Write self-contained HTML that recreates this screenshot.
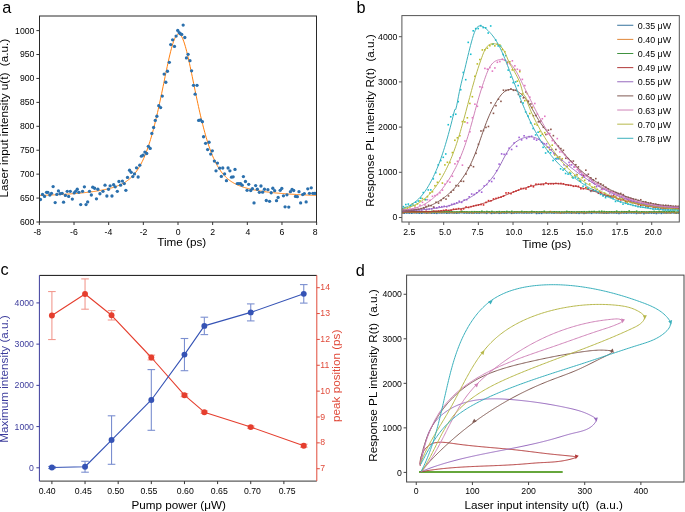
<!DOCTYPE html>
<html><head><meta charset="utf-8"><style>
html,body{margin:0;padding:0;background:#fff;width:685px;height:512px;overflow:hidden}
svg{display:block;font-family:"Liberation Sans", sans-serif;filter:blur(0.35px)}
</style></head><body>
<svg width="685" height="512" viewBox="0 0 685 512">
<rect width="685" height="512" fill="#fff"/>
<defs>
<clipPath id="ca"><rect x="39.4" y="15.7" width="277.20000000000005" height="206.3"/></clipPath>
<clipPath id="cb"><rect x="401.9" y="15.6" width="277.4" height="206.4"/></clipPath>
<clipPath id="cd"><rect x="406.6" y="275.1" width="277.4" height="206.89999999999998"/></clipPath>
</defs>
<text x="2.3" y="12.7" font-size="16.3" text-anchor="start" fill="#000">a</text>
<g clip-path="url(#ca)">
<path d="M39.36 195.47 L40.05 195.44 L40.75 195.42 L41.44 195.39 L42.14 195.37 L42.83 195.34 L43.53 195.31 L44.22 195.29 L44.92 195.26 L45.61 195.23 L46.31 195.2 L47 195.18 L47.7 195.15 L48.39 195.12 L49.09 195.09 L49.78 195.06 L50.48 195.03 L51.17 195 L51.87 194.96 L52.56 194.93 L53.26 194.9 L53.95 194.87 L54.65 194.83 L55.34 194.8 L56.04 194.76 L56.73 194.73 L57.43 194.69 L58.12 194.65 L58.82 194.62 L59.51 194.58 L60.21 194.54 L60.9 194.5 L61.6 194.46 L62.29 194.42 L62.99 194.38 L63.68 194.34 L64.38 194.3 L65.07 194.25 L65.77 194.21 L66.46 194.16 L67.16 194.12 L67.85 194.07 L68.55 194.02 L69.24 193.97 L69.94 193.93 L70.63 193.88 L71.33 193.82 L72.02 193.77 L72.72 193.72 L73.41 193.67 L74.11 193.61 L74.8 193.55 L75.5 193.5 L76.19 193.44 L76.89 193.38 L77.58 193.32 L78.28 193.26 L78.97 193.2 L79.67 193.13 L80.36 193.07 L81.06 193 L81.75 192.93 L82.45 192.86 L83.14 192.79 L83.84 192.72 L84.53 192.65 L85.23 192.57 L85.92 192.49 L86.62 192.41 L87.31 192.33 L88.01 192.25 L88.7 192.17 L89.4 192.08 L90.09 192 L90.79 191.91 L91.48 191.82 L92.18 191.72 L92.87 191.63 L93.57 191.53 L94.26 191.43 L94.95 191.33 L95.65 191.22 L96.34 191.11 L97.04 191 L97.73 190.89 L98.43 190.78 L99.12 190.66 L99.82 190.54 L100.51 190.41 L101.21 190.29 L101.9 190.16 L102.6 190.02 L103.29 189.88 L103.99 189.74 L104.68 189.6 L105.38 189.45 L106.07 189.29 L106.77 189.13 L107.46 188.97 L108.16 188.8 L108.85 188.63 L109.55 188.45 L110.24 188.27 L110.94 188.08 L111.63 187.88 L112.33 187.68 L113.02 187.47 L113.72 187.25 L114.41 187.03 L115.11 186.79 L115.8 186.55 L116.5 186.3 L117.19 186.04 L117.89 185.77 L118.58 185.48 L119.28 185.19 L119.97 184.88 L120.67 184.56 L121.36 184.23 L122.06 183.88 L122.75 183.52 L123.45 183.14 L124.14 182.74 L124.84 182.32 L125.53 181.89 L126.23 181.43 L126.92 180.95 L127.62 180.45 L128.31 179.92 L129.01 179.36 L129.7 178.78 L130.4 178.17 L131.09 177.53 L131.79 176.85 L132.48 176.14 L133.18 175.4 L133.87 174.62 L134.57 173.79 L135.26 172.93 L135.96 172.02 L136.65 171.07 L137.35 170.07 L138.04 169.02 L138.74 167.92 L139.43 166.76 L140.13 165.55 L140.82 164.28 L141.52 162.95 L142.21 161.56 L142.91 160.11 L143.6 158.59 L144.3 157 L144.99 155.34 L145.69 153.62 L146.38 151.82 L147.08 149.95 L147.77 148 L148.47 145.98 L149.16 143.88 L149.86 141.7 L150.55 139.44 L151.24 137.11 L151.94 134.7 L152.63 132.2 L153.33 129.63 L154.02 126.99 L154.72 124.26 L155.41 121.46 L156.11 118.59 L156.8 115.65 L157.5 112.64 L158.19 109.57 L158.89 106.43 L159.58 103.24 L160.28 100 L160.97 96.71 L161.67 93.39 L162.36 90.03 L163.06 86.65 L163.75 83.26 L164.45 79.86 L165.14 76.47 L165.84 73.1 L166.53 69.76 L167.23 66.47 L167.92 63.24 L168.62 60.1 L169.31 57.04 L170.01 54.1 L170.7 51.29 L171.4 48.63 L172.09 46.13 L172.79 43.82 L173.48 41.72 L174.18 39.84 L174.87 38.19 L175.57 36.8 L176.26 35.67 L176.96 34.82 L177.65 34.25 L178.35 33.96 L179.04 33.97 L179.74 34.27 L180.43 34.86 L181.13 35.73 L181.82 36.87 L182.52 38.28 L183.21 39.94 L183.91 41.84 L184.6 43.95 L185.3 46.27 L185.99 48.77 L186.69 51.44 L187.38 54.26 L188.08 57.21 L188.77 60.27 L189.47 63.43 L190.16 66.66 L190.86 69.95 L191.55 73.29 L192.25 76.66 L192.94 80.05 L193.64 83.45 L194.33 86.84 L195.03 90.22 L195.72 93.58 L196.42 96.9 L197.11 100.19 L197.81 103.42 L198.5 106.61 L199.2 109.74 L199.89 112.82 L200.59 115.82 L201.28 118.76 L201.98 121.63 L202.67 124.42 L203.37 127.14 L204.06 129.78 L204.76 132.35 L205.45 134.84 L206.14 137.25 L206.84 139.58 L207.53 141.83 L208.23 144 L208.92 146.1 L209.62 148.11 L210.31 150.06 L211.01 151.92 L211.7 153.72 L212.4 155.44 L213.09 157.09 L213.79 158.68 L214.48 160.19 L215.18 161.64 L215.87 163.03 L216.57 164.35 L217.26 165.62 L217.96 166.83 L218.65 167.98 L219.35 169.08 L220.04 170.13 L220.74 171.12 L221.43 172.08 L222.13 172.98 L222.82 173.84 L223.52 174.66 L224.21 175.44 L224.91 176.19 L225.6 176.89 L226.3 177.57 L226.99 178.21 L227.69 178.82 L228.38 179.4 L229.08 179.95 L229.77 180.48 L230.47 180.98 L231.16 181.46 L231.86 181.91 L232.55 182.35 L233.25 182.76 L233.94 183.16 L234.64 183.54 L235.33 183.9 L236.03 184.25 L236.72 184.58 L237.42 184.9 L238.11 185.21 L238.81 185.5 L239.5 185.78 L240.2 186.05 L240.89 186.31 L241.59 186.56 L242.28 186.81 L242.98 187.04 L243.67 187.26 L244.37 187.48 L245.06 187.69 L245.76 187.89 L246.45 188.09 L247.15 188.28 L247.84 188.46 L248.54 188.64 L249.23 188.81 L249.93 188.98 L250.62 189.14 L251.32 189.3 L252.01 189.46 L252.71 189.6 L253.4 189.75 L254.1 189.89 L254.79 190.03 L255.49 190.16 L256.18 190.29 L256.88 190.42 L257.57 190.54 L258.27 190.67 L258.96 190.78 L259.66 190.9 L260.35 191.01 L261.05 191.12 L261.74 191.23 L262.43 191.33 L263.13 191.43 L263.82 191.53 L264.52 191.63 L265.21 191.73 L265.91 191.82 L266.6 191.91 L267.3 192 L267.99 192.09 L268.69 192.17 L269.38 192.26 L270.08 192.34 L270.77 192.42 L271.47 192.5 L272.16 192.57 L272.86 192.65 L273.55 192.72 L274.25 192.8 L274.94 192.87 L275.64 192.94 L276.33 193 L277.03 193.07 L277.72 193.14 L278.42 193.2 L279.11 193.26 L279.81 193.32 L280.5 193.38 L281.2 193.44 L281.89 193.5 L282.59 193.56 L283.28 193.61 L283.98 193.67 L284.67 193.72 L285.37 193.78 L286.06 193.83 L286.76 193.88 L287.45 193.93 L288.15 193.98 L288.84 194.03 L289.54 194.07 L290.23 194.12 L290.93 194.17 L291.62 194.21 L292.32 194.25 L293.01 194.3 L293.71 194.34 L294.4 194.38 L295.1 194.42 L295.79 194.46 L296.49 194.5 L297.18 194.54 L297.88 194.58 L298.57 194.62 L299.27 194.66 L299.96 194.69 L300.66 194.73 L301.35 194.76 L302.05 194.8 L302.74 194.83 L303.44 194.87 L304.13 194.9 L304.83 194.93 L305.52 194.97 L306.22 195 L306.91 195.03 L307.61 195.06 L308.3 195.09 L309 195.12 L309.69 195.15 L310.39 195.18 L311.08 195.21 L311.78 195.23 L312.47 195.26 L313.17 195.29 L313.86 195.31 L314.56 195.34 L315.25 195.37 L315.95 195.39 L316.64 195.42" fill="none" stroke="#ff7f0e" stroke-width="1.0" stroke-linejoin="round"/>
<circle cx="40.45" cy="199.49" r="1.65" fill="#2b70ad"/>
<circle cx="42.5" cy="194.38" r="1.65" fill="#2b70ad"/>
<circle cx="44.54" cy="196.42" r="1.65" fill="#2b70ad"/>
<circle cx="46.58" cy="192.33" r="1.65" fill="#2b70ad"/>
<circle cx="47.81" cy="192.33" r="1.65" fill="#2b70ad"/>
<circle cx="49.85" cy="194.99" r="1.65" fill="#2b70ad"/>
<circle cx="51.49" cy="193.36" r="1.65" fill="#2b70ad"/>
<circle cx="53.12" cy="186.61" r="1.65" fill="#2b70ad"/>
<circle cx="55.17" cy="202.55" r="1.65" fill="#2b70ad"/>
<circle cx="56.8" cy="194.38" r="1.65" fill="#2b70ad"/>
<circle cx="58.44" cy="190.9" r="1.65" fill="#2b70ad"/>
<circle cx="60.07" cy="193.76" r="1.65" fill="#2b70ad"/>
<circle cx="62.12" cy="193.36" r="1.65" fill="#2b70ad"/>
<circle cx="63.55" cy="202.14" r="1.65" fill="#2b70ad"/>
<circle cx="65.39" cy="195.4" r="1.65" fill="#2b70ad"/>
<circle cx="67.23" cy="191.31" r="1.65" fill="#2b70ad"/>
<circle cx="68.66" cy="196.42" r="1.65" fill="#2b70ad"/>
<circle cx="70.29" cy="191.31" r="1.65" fill="#2b70ad"/>
<circle cx="72.33" cy="199.08" r="1.65" fill="#2b70ad"/>
<circle cx="74.17" cy="192.95" r="1.65" fill="#2b70ad"/>
<circle cx="75.6" cy="191.31" r="1.65" fill="#2b70ad"/>
<circle cx="77.24" cy="189.27" r="1.65" fill="#2b70ad"/>
<circle cx="78.87" cy="192.33" r="1.65" fill="#2b70ad"/>
<circle cx="80.71" cy="204.6" r="1.65" fill="#2b70ad"/>
<circle cx="82.55" cy="191.31" r="1.65" fill="#2b70ad"/>
<circle cx="84.39" cy="186.82" r="1.65" fill="#2b70ad"/>
<circle cx="86.03" cy="204.6" r="1.65" fill="#2b70ad"/>
<circle cx="87.66" cy="201.94" r="1.65" fill="#2b70ad"/>
<circle cx="89.5" cy="191.31" r="1.65" fill="#2b70ad"/>
<circle cx="91.34" cy="194.99" r="1.65" fill="#2b70ad"/>
<circle cx="92.77" cy="187.22" r="1.65" fill="#2b70ad"/>
<circle cx="94.61" cy="188.25" r="1.65" fill="#2b70ad"/>
<circle cx="96.45" cy="198.87" r="1.65" fill="#2b70ad"/>
<circle cx="97.88" cy="189.27" r="1.65" fill="#2b70ad"/>
<circle cx="99.93" cy="193.76" r="1.65" fill="#2b70ad"/>
<circle cx="102.99" cy="191.31" r="1.65" fill="#2b70ad"/>
<circle cx="105.03" cy="185.18" r="1.65" fill="#2b70ad"/>
<circle cx="106.87" cy="196.01" r="1.65" fill="#2b70ad"/>
<circle cx="108.51" cy="189.27" r="1.65" fill="#2b70ad"/>
<circle cx="110.14" cy="185.79" r="1.65" fill="#2b70ad"/>
<circle cx="111.98" cy="196.01" r="1.65" fill="#2b70ad"/>
<circle cx="113.62" cy="184.77" r="1.65" fill="#2b70ad"/>
<circle cx="115.25" cy="186.82" r="1.65" fill="#2b70ad"/>
<circle cx="117.3" cy="191.31" r="1.65" fill="#2b70ad"/>
<circle cx="118.93" cy="181.5" r="1.65" fill="#2b70ad"/>
<circle cx="120.57" cy="185.18" r="1.65" fill="#2b70ad"/>
<circle cx="122.41" cy="181.09" r="1.65" fill="#2b70ad"/>
<circle cx="124.25" cy="183.55" r="1.65" fill="#2b70ad"/>
<circle cx="125.88" cy="190.29" r="1.65" fill="#2b70ad"/>
<circle cx="127.52" cy="177.41" r="1.65" fill="#2b70ad"/>
<circle cx="129.56" cy="170.26" r="1.65" fill="#2b70ad"/>
<circle cx="131.19" cy="172.31" r="1.65" fill="#2b70ad"/>
<circle cx="132.83" cy="176.6" r="1.65" fill="#2b70ad"/>
<circle cx="134.46" cy="173.94" r="1.65" fill="#2b70ad"/>
<circle cx="136.51" cy="167.81" r="1.65" fill="#2b70ad"/>
<circle cx="138.14" cy="177.01" r="1.65" fill="#2b70ad"/>
<circle cx="139.78" cy="165.15" r="1.65" fill="#2b70ad"/>
<circle cx="141.41" cy="156.16" r="1.65" fill="#2b70ad"/>
<circle cx="143.05" cy="155.14" r="1.65" fill="#2b70ad"/>
<circle cx="144.89" cy="152.07" r="1.65" fill="#2b70ad"/>
<circle cx="146.73" cy="153.5" r="1.65" fill="#2b70ad"/>
<circle cx="148.36" cy="146.35" r="1.65" fill="#2b70ad"/>
<circle cx="150.2" cy="148.39" r="1.65" fill="#2b70ad"/>
<circle cx="151.84" cy="133.47" r="1.65" fill="#2b70ad"/>
<circle cx="153.61" cy="127.49" r="1.65" fill="#2b70ad"/>
<circle cx="155.25" cy="120.46" r="1.65" fill="#2b70ad"/>
<circle cx="156.89" cy="116.24" r="1.65" fill="#2b70ad"/>
<circle cx="158.77" cy="105.7" r="1.65" fill="#2b70ad"/>
<circle cx="160.65" cy="107.57" r="1.65" fill="#2b70ad"/>
<circle cx="162.29" cy="96.09" r="1.65" fill="#2b70ad"/>
<circle cx="165.81" cy="82.26" r="1.65" fill="#2b70ad"/>
<circle cx="164.16" cy="74.06" r="1.65" fill="#2b70ad"/>
<circle cx="167.45" cy="71.25" r="1.65" fill="#2b70ad"/>
<circle cx="169.33" cy="62.34" r="1.65" fill="#2b70ad"/>
<circle cx="170.73" cy="44.53" r="1.65" fill="#2b70ad"/>
<circle cx="172.61" cy="39.84" r="1.65" fill="#2b70ad"/>
<circle cx="174.49" cy="46.4" r="1.65" fill="#2b70ad"/>
<circle cx="176.13" cy="36.09" r="1.65" fill="#2b70ad"/>
<circle cx="177.77" cy="30.47" r="1.65" fill="#2b70ad"/>
<circle cx="179.18" cy="32.58" r="1.65" fill="#2b70ad"/>
<circle cx="180.35" cy="33.75" r="1.65" fill="#2b70ad"/>
<circle cx="181.76" cy="34.45" r="1.65" fill="#2b70ad"/>
<circle cx="183.17" cy="25.08" r="1.65" fill="#2b70ad"/>
<circle cx="184.81" cy="37.5" r="1.65" fill="#2b70ad"/>
<circle cx="186.45" cy="57.89" r="1.65" fill="#2b70ad"/>
<circle cx="188.09" cy="54.37" r="1.65" fill="#2b70ad"/>
<circle cx="189.97" cy="60.7" r="1.65" fill="#2b70ad"/>
<circle cx="191.61" cy="70.78" r="1.65" fill="#2b70ad"/>
<circle cx="193.49" cy="85.31" r="1.65" fill="#2b70ad"/>
<circle cx="195.13" cy="94.21" r="1.65" fill="#2b70ad"/>
<circle cx="197.01" cy="85.31" r="1.65" fill="#2b70ad"/>
<circle cx="198.65" cy="120.46" r="1.65" fill="#2b70ad"/>
<circle cx="200.53" cy="119.99" r="1.65" fill="#2b70ad"/>
<circle cx="202.4" cy="121.63" r="1.65" fill="#2b70ad"/>
<circle cx="203.55" cy="136.74" r="1.65" fill="#2b70ad"/>
<circle cx="205.59" cy="143.28" r="1.65" fill="#2b70ad"/>
<circle cx="209.06" cy="142.26" r="1.65" fill="#2b70ad"/>
<circle cx="207.63" cy="149.62" r="1.65" fill="#2b70ad"/>
<circle cx="212.33" cy="150.85" r="1.65" fill="#2b70ad"/>
<circle cx="210.7" cy="154.12" r="1.65" fill="#2b70ad"/>
<circle cx="214.38" cy="161.06" r="1.65" fill="#2b70ad"/>
<circle cx="217.44" cy="163.11" r="1.65" fill="#2b70ad"/>
<circle cx="216.01" cy="170.87" r="1.65" fill="#2b70ad"/>
<circle cx="219.69" cy="168.22" r="1.65" fill="#2b70ad"/>
<circle cx="222.76" cy="168.01" r="1.65" fill="#2b70ad"/>
<circle cx="221.33" cy="176.39" r="1.65" fill="#2b70ad"/>
<circle cx="224.6" cy="173.94" r="1.65" fill="#2b70ad"/>
<circle cx="226.44" cy="180.68" r="1.65" fill="#2b70ad"/>
<circle cx="228.07" cy="168.01" r="1.65" fill="#2b70ad"/>
<circle cx="229.91" cy="170.87" r="1.65" fill="#2b70ad"/>
<circle cx="231.55" cy="177.21" r="1.65" fill="#2b70ad"/>
<circle cx="233.18" cy="176.8" r="1.65" fill="#2b70ad"/>
<circle cx="235.02" cy="169.44" r="1.65" fill="#2b70ad"/>
<circle cx="237.27" cy="183.55" r="1.65" fill="#2b70ad"/>
<circle cx="238.9" cy="183.55" r="1.65" fill="#2b70ad"/>
<circle cx="240.54" cy="183.75" r="1.65" fill="#2b70ad"/>
<circle cx="242.17" cy="185.18" r="1.65" fill="#2b70ad"/>
<circle cx="243.4" cy="176.6" r="1.65" fill="#2b70ad"/>
<circle cx="245.44" cy="181.5" r="1.65" fill="#2b70ad"/>
<circle cx="247.08" cy="190.29" r="1.65" fill="#2b70ad"/>
<circle cx="248.71" cy="184.36" r="1.65" fill="#2b70ad"/>
<circle cx="250.76" cy="190.49" r="1.65" fill="#2b70ad"/>
<circle cx="252.39" cy="188.66" r="1.65" fill="#2b70ad"/>
<circle cx="254.03" cy="202.96" r="1.65" fill="#2b70ad"/>
<circle cx="255.66" cy="185.59" r="1.65" fill="#2b70ad"/>
<circle cx="257.3" cy="189.27" r="1.65" fill="#2b70ad"/>
<circle cx="259.34" cy="192.33" r="1.65" fill="#2b70ad"/>
<circle cx="260.98" cy="186" r="1.65" fill="#2b70ad"/>
<circle cx="262.61" cy="192.13" r="1.65" fill="#2b70ad"/>
<circle cx="264.45" cy="189.27" r="1.65" fill="#2b70ad"/>
<circle cx="266.29" cy="200.51" r="1.65" fill="#2b70ad"/>
<circle cx="267.92" cy="189.68" r="1.65" fill="#2b70ad"/>
<circle cx="269.56" cy="201.33" r="1.65" fill="#2b70ad"/>
<circle cx="271.19" cy="192.74" r="1.65" fill="#2b70ad"/>
<circle cx="272.83" cy="188.25" r="1.65" fill="#2b70ad"/>
<circle cx="274.67" cy="190.7" r="1.65" fill="#2b70ad"/>
<circle cx="276.51" cy="200.71" r="1.65" fill="#2b70ad"/>
<circle cx="278.14" cy="197.44" r="1.65" fill="#2b70ad"/>
<circle cx="280.19" cy="190.29" r="1.65" fill="#2b70ad"/>
<circle cx="281.82" cy="188.45" r="1.65" fill="#2b70ad"/>
<circle cx="283.46" cy="195.81" r="1.65" fill="#2b70ad"/>
<circle cx="285.09" cy="206.84" r="1.65" fill="#2b70ad"/>
<circle cx="286.93" cy="194.79" r="1.65" fill="#2b70ad"/>
<circle cx="288.77" cy="207.05" r="1.65" fill="#2b70ad"/>
<circle cx="290.41" cy="191.72" r="1.65" fill="#2b70ad"/>
<circle cx="292.04" cy="189.47" r="1.65" fill="#2b70ad"/>
<circle cx="293.68" cy="190.49" r="1.65" fill="#2b70ad"/>
<circle cx="295.51" cy="196.42" r="1.65" fill="#2b70ad"/>
<circle cx="297.35" cy="196.63" r="1.65" fill="#2b70ad"/>
<circle cx="298.99" cy="191.72" r="1.65" fill="#2b70ad"/>
<circle cx="300.62" cy="202.96" r="1.65" fill="#2b70ad"/>
<circle cx="302.67" cy="194.58" r="1.65" fill="#2b70ad"/>
<circle cx="304.3" cy="193.56" r="1.65" fill="#2b70ad"/>
<circle cx="306.14" cy="201.94" r="1.65" fill="#2b70ad"/>
<circle cx="307.78" cy="188.86" r="1.65" fill="#2b70ad"/>
<circle cx="309.41" cy="193.36" r="1.65" fill="#2b70ad"/>
<circle cx="311.25" cy="187.84" r="1.65" fill="#2b70ad"/>
<circle cx="312.89" cy="193.36" r="1.65" fill="#2b70ad"/>
<circle cx="314.52" cy="193.36" r="1.65" fill="#2b70ad"/>
<circle cx="315.95" cy="193.36" r="1.65" fill="#2b70ad"/>
</g>
<line x1="39.5" y1="16" x2="39.5" y2="222" stroke="#2a2a2a" stroke-width="1"/>
<line x1="316.5" y1="16" x2="316.5" y2="222" stroke="#2a2a2a" stroke-width="1"/>
<line x1="39" y1="16" x2="317" y2="16" stroke="#2a2a2a" stroke-width="1"/>
<line x1="39" y1="222" x2="317" y2="222" stroke="#2a2a2a" stroke-width="1"/>
<line x1="39.36" y1="222" x2="39.36" y2="225" stroke="#333" stroke-width="1"/>
<text x="37.3" y="234.6" font-size="8.7" text-anchor="middle" fill="#000">-8</text>
<line x1="74.02" y1="222" x2="74.02" y2="225" stroke="#333" stroke-width="1"/>
<text x="73.9" y="234.6" font-size="8.7" text-anchor="middle" fill="#000">-6</text>
<line x1="108.68" y1="222" x2="108.68" y2="225" stroke="#333" stroke-width="1"/>
<text x="108.4" y="234.6" font-size="8.7" text-anchor="middle" fill="#000">-4</text>
<line x1="143.34" y1="222" x2="143.34" y2="225" stroke="#333" stroke-width="1"/>
<text x="143.6" y="234.6" font-size="8.7" text-anchor="middle" fill="#000">-2</text>
<line x1="178" y1="222" x2="178" y2="225" stroke="#333" stroke-width="1"/>
<text x="178.2" y="234.6" font-size="8.7" text-anchor="middle" fill="#000">0</text>
<line x1="212.66" y1="222" x2="212.66" y2="225" stroke="#333" stroke-width="1"/>
<text x="212.7" y="234.6" font-size="8.7" text-anchor="middle" fill="#000">2</text>
<line x1="247.32" y1="222" x2="247.32" y2="225" stroke="#333" stroke-width="1"/>
<text x="248" y="234.6" font-size="8.7" text-anchor="middle" fill="#000">4</text>
<line x1="281.98" y1="222" x2="281.98" y2="225" stroke="#333" stroke-width="1"/>
<text x="281.9" y="234.6" font-size="8.7" text-anchor="middle" fill="#000">6</text>
<line x1="316.64" y1="222" x2="316.64" y2="225" stroke="#333" stroke-width="1"/>
<text x="315.2" y="234.6" font-size="8.7" text-anchor="middle" fill="#000">8</text>
<line x1="36.4" y1="222" x2="39.4" y2="222" stroke="#333" stroke-width="1"/>
<text x="34.4" y="224.95" font-size="8.7" text-anchor="end" fill="#000">600</text>
<line x1="36.4" y1="198.07" x2="39.4" y2="198.07" stroke="#333" stroke-width="1"/>
<text x="34.4" y="201.02" font-size="8.7" text-anchor="end" fill="#000">650</text>
<line x1="36.4" y1="174.15" x2="39.4" y2="174.15" stroke="#333" stroke-width="1"/>
<text x="34.4" y="177.1" font-size="8.7" text-anchor="end" fill="#000">700</text>
<line x1="36.4" y1="150.22" x2="39.4" y2="150.22" stroke="#333" stroke-width="1"/>
<text x="34.4" y="153.17" font-size="8.7" text-anchor="end" fill="#000">750</text>
<line x1="36.4" y1="126.3" x2="39.4" y2="126.3" stroke="#333" stroke-width="1"/>
<text x="34.4" y="129.25" font-size="8.7" text-anchor="end" fill="#000">800</text>
<line x1="36.4" y1="102.38" x2="39.4" y2="102.38" stroke="#333" stroke-width="1"/>
<text x="34.4" y="105.33" font-size="8.7" text-anchor="end" fill="#000">850</text>
<line x1="36.4" y1="78.45" x2="39.4" y2="78.45" stroke="#333" stroke-width="1"/>
<text x="34.4" y="81.4" font-size="8.7" text-anchor="end" fill="#000">900</text>
<line x1="36.4" y1="54.53" x2="39.4" y2="54.53" stroke="#333" stroke-width="1"/>
<text x="34.4" y="57.48" font-size="8.7" text-anchor="end" fill="#000">950</text>
<line x1="36.4" y1="30.6" x2="39.4" y2="30.6" stroke="#333" stroke-width="1"/>
<text x="34.4" y="33.55" font-size="8.7" text-anchor="end" fill="#000">1000</text>
<text x="181.7" y="245.6" font-size="11.7" text-anchor="middle" fill="#000">Time (ps)</text>
<text x="8.4" y="118.2" font-size="11.7" text-anchor="middle" fill="#000" transform="rotate(-90 8.4 118.2)">Laser input intensity u(t)&#160; (a.u.)</text>
<text x="356.6" y="12.7" font-size="16.3" text-anchor="start" fill="#000">b</text>
<g clip-path="url(#cb)">
<rect x="403.48" y="212.27" width="1.6" height="1.6" fill="#1f77b4"/>
<rect x="405.97" y="212" width="1.6" height="1.6" fill="#1f77b4"/>
<rect x="408.47" y="212.2" width="1.6" height="1.6" fill="#1f77b4"/>
<rect x="410.96" y="212.36" width="1.6" height="1.6" fill="#1f77b4"/>
<rect x="413.46" y="211.77" width="1.6" height="1.6" fill="#1f77b4"/>
<rect x="415.96" y="212.01" width="1.6" height="1.6" fill="#1f77b4"/>
<rect x="418.45" y="212.32" width="1.6" height="1.6" fill="#1f77b4"/>
<rect x="420.95" y="212.4" width="1.6" height="1.6" fill="#1f77b4"/>
<rect x="423.45" y="211.84" width="1.6" height="1.6" fill="#1f77b4"/>
<rect x="425.94" y="212.25" width="1.6" height="1.6" fill="#1f77b4"/>
<rect x="428.44" y="211.84" width="1.6" height="1.6" fill="#1f77b4"/>
<rect x="430.94" y="212.25" width="1.6" height="1.6" fill="#1f77b4"/>
<rect x="433.43" y="212.32" width="1.6" height="1.6" fill="#1f77b4"/>
<rect x="435.93" y="212.5" width="1.6" height="1.6" fill="#1f77b4"/>
<rect x="438.43" y="211.85" width="1.6" height="1.6" fill="#1f77b4"/>
<rect x="440.92" y="211.97" width="1.6" height="1.6" fill="#1f77b4"/>
<rect x="443.42" y="211.86" width="1.6" height="1.6" fill="#1f77b4"/>
<rect x="445.92" y="212.4" width="1.6" height="1.6" fill="#1f77b4"/>
<rect x="448.41" y="212.04" width="1.6" height="1.6" fill="#1f77b4"/>
<rect x="450.91" y="211.74" width="1.6" height="1.6" fill="#1f77b4"/>
<rect x="453.41" y="211.94" width="1.6" height="1.6" fill="#1f77b4"/>
<rect x="455.9" y="212.3" width="1.6" height="1.6" fill="#1f77b4"/>
<rect x="458.4" y="211.94" width="1.6" height="1.6" fill="#1f77b4"/>
<rect x="460.9" y="211.55" width="1.6" height="1.6" fill="#1f77b4"/>
<rect x="463.39" y="212.05" width="1.6" height="1.6" fill="#1f77b4"/>
<rect x="465.89" y="212.11" width="1.6" height="1.6" fill="#1f77b4"/>
<rect x="468.39" y="212.11" width="1.6" height="1.6" fill="#1f77b4"/>
<rect x="470.88" y="212.07" width="1.6" height="1.6" fill="#1f77b4"/>
<rect x="473.38" y="212.06" width="1.6" height="1.6" fill="#1f77b4"/>
<rect x="475.88" y="212.19" width="1.6" height="1.6" fill="#1f77b4"/>
<rect x="478.37" y="212.18" width="1.6" height="1.6" fill="#1f77b4"/>
<rect x="480.87" y="211.76" width="1.6" height="1.6" fill="#1f77b4"/>
<rect x="483.37" y="211.81" width="1.6" height="1.6" fill="#1f77b4"/>
<rect x="485.86" y="212.5" width="1.6" height="1.6" fill="#1f77b4"/>
<rect x="488.36" y="211.39" width="1.6" height="1.6" fill="#1f77b4"/>
<rect x="490.86" y="212.56" width="1.6" height="1.6" fill="#1f77b4"/>
<rect x="493.35" y="212.16" width="1.6" height="1.6" fill="#1f77b4"/>
<rect x="495.85" y="211.87" width="1.6" height="1.6" fill="#1f77b4"/>
<rect x="498.35" y="212.47" width="1.6" height="1.6" fill="#1f77b4"/>
<rect x="500.84" y="212.13" width="1.6" height="1.6" fill="#1f77b4"/>
<rect x="503.34" y="212.17" width="1.6" height="1.6" fill="#1f77b4"/>
<rect x="505.84" y="212.15" width="1.6" height="1.6" fill="#1f77b4"/>
<rect x="508.33" y="211.52" width="1.6" height="1.6" fill="#1f77b4"/>
<rect x="510.83" y="212.49" width="1.6" height="1.6" fill="#1f77b4"/>
<rect x="513.33" y="212.1" width="1.6" height="1.6" fill="#1f77b4"/>
<rect x="515.82" y="212.09" width="1.6" height="1.6" fill="#1f77b4"/>
<rect x="518.32" y="211.86" width="1.6" height="1.6" fill="#1f77b4"/>
<rect x="520.82" y="211.88" width="1.6" height="1.6" fill="#1f77b4"/>
<rect x="523.31" y="212.07" width="1.6" height="1.6" fill="#1f77b4"/>
<rect x="525.81" y="212.12" width="1.6" height="1.6" fill="#1f77b4"/>
<rect x="528.31" y="211.86" width="1.6" height="1.6" fill="#1f77b4"/>
<rect x="530.8" y="212.07" width="1.6" height="1.6" fill="#1f77b4"/>
<rect x="533.3" y="211.24" width="1.6" height="1.6" fill="#1f77b4"/>
<rect x="535.79" y="212.65" width="1.6" height="1.6" fill="#1f77b4"/>
<rect x="538.29" y="212.48" width="1.6" height="1.6" fill="#1f77b4"/>
<rect x="540.79" y="212.52" width="1.6" height="1.6" fill="#1f77b4"/>
<rect x="543.28" y="211.65" width="1.6" height="1.6" fill="#1f77b4"/>
<rect x="545.78" y="211.95" width="1.6" height="1.6" fill="#1f77b4"/>
<rect x="548.28" y="211.88" width="1.6" height="1.6" fill="#1f77b4"/>
<rect x="550.77" y="211.96" width="1.6" height="1.6" fill="#1f77b4"/>
<rect x="553.27" y="212.22" width="1.6" height="1.6" fill="#1f77b4"/>
<rect x="555.77" y="211.88" width="1.6" height="1.6" fill="#1f77b4"/>
<rect x="558.26" y="211.87" width="1.6" height="1.6" fill="#1f77b4"/>
<rect x="560.76" y="212.08" width="1.6" height="1.6" fill="#1f77b4"/>
<rect x="563.26" y="212.1" width="1.6" height="1.6" fill="#1f77b4"/>
<rect x="565.75" y="212.09" width="1.6" height="1.6" fill="#1f77b4"/>
<rect x="568.25" y="211.95" width="1.6" height="1.6" fill="#1f77b4"/>
<rect x="570.75" y="212.25" width="1.6" height="1.6" fill="#1f77b4"/>
<rect x="573.24" y="211.82" width="1.6" height="1.6" fill="#1f77b4"/>
<rect x="575.74" y="212.21" width="1.6" height="1.6" fill="#1f77b4"/>
<rect x="578.24" y="212.51" width="1.6" height="1.6" fill="#1f77b4"/>
<rect x="580.73" y="211.84" width="1.6" height="1.6" fill="#1f77b4"/>
<rect x="583.23" y="212.57" width="1.6" height="1.6" fill="#1f77b4"/>
<rect x="585.73" y="212.08" width="1.6" height="1.6" fill="#1f77b4"/>
<rect x="588.22" y="211.92" width="1.6" height="1.6" fill="#1f77b4"/>
<rect x="590.72" y="212.49" width="1.6" height="1.6" fill="#1f77b4"/>
<rect x="593.22" y="211.59" width="1.6" height="1.6" fill="#1f77b4"/>
<rect x="595.71" y="211.99" width="1.6" height="1.6" fill="#1f77b4"/>
<rect x="598.21" y="211.95" width="1.6" height="1.6" fill="#1f77b4"/>
<rect x="600.71" y="211.92" width="1.6" height="1.6" fill="#1f77b4"/>
<rect x="603.2" y="212.34" width="1.6" height="1.6" fill="#1f77b4"/>
<rect x="605.7" y="212.3" width="1.6" height="1.6" fill="#1f77b4"/>
<rect x="608.2" y="212.06" width="1.6" height="1.6" fill="#1f77b4"/>
<rect x="610.69" y="211.89" width="1.6" height="1.6" fill="#1f77b4"/>
<rect x="613.19" y="211.97" width="1.6" height="1.6" fill="#1f77b4"/>
<rect x="615.69" y="212.28" width="1.6" height="1.6" fill="#1f77b4"/>
<rect x="618.18" y="212.63" width="1.6" height="1.6" fill="#1f77b4"/>
<rect x="620.68" y="211.96" width="1.6" height="1.6" fill="#1f77b4"/>
<rect x="623.18" y="212.13" width="1.6" height="1.6" fill="#1f77b4"/>
<rect x="625.67" y="212.35" width="1.6" height="1.6" fill="#1f77b4"/>
<rect x="628.17" y="211.8" width="1.6" height="1.6" fill="#1f77b4"/>
<rect x="630.67" y="212.05" width="1.6" height="1.6" fill="#1f77b4"/>
<rect x="633.16" y="212" width="1.6" height="1.6" fill="#1f77b4"/>
<rect x="635.66" y="212.62" width="1.6" height="1.6" fill="#1f77b4"/>
<rect x="638.16" y="212.06" width="1.6" height="1.6" fill="#1f77b4"/>
<rect x="640.65" y="211.93" width="1.6" height="1.6" fill="#1f77b4"/>
<rect x="643.15" y="212.76" width="1.6" height="1.6" fill="#1f77b4"/>
<rect x="645.65" y="212.03" width="1.6" height="1.6" fill="#1f77b4"/>
<rect x="648.14" y="212.18" width="1.6" height="1.6" fill="#1f77b4"/>
<rect x="650.64" y="212.22" width="1.6" height="1.6" fill="#1f77b4"/>
<rect x="653.14" y="212.35" width="1.6" height="1.6" fill="#1f77b4"/>
<rect x="655.63" y="212.68" width="1.6" height="1.6" fill="#1f77b4"/>
<rect x="658.13" y="211.92" width="1.6" height="1.6" fill="#1f77b4"/>
<rect x="660.62" y="212.55" width="1.6" height="1.6" fill="#1f77b4"/>
<rect x="663.12" y="212.04" width="1.6" height="1.6" fill="#1f77b4"/>
<rect x="665.62" y="212.11" width="1.6" height="1.6" fill="#1f77b4"/>
<rect x="668.11" y="211.8" width="1.6" height="1.6" fill="#1f77b4"/>
<rect x="670.61" y="211.88" width="1.6" height="1.6" fill="#1f77b4"/>
<rect x="673.11" y="211.86" width="1.6" height="1.6" fill="#1f77b4"/>
<rect x="675.6" y="212.02" width="1.6" height="1.6" fill="#1f77b4"/>
<rect x="678.1" y="212.31" width="1.6" height="1.6" fill="#1f77b4"/>
<rect x="402.24" y="212.19" width="1.6" height="1.6" fill="#ff7f0e"/>
<rect x="404.74" y="211.43" width="1.6" height="1.6" fill="#ff7f0e"/>
<rect x="407.24" y="210.99" width="1.6" height="1.6" fill="#ff7f0e"/>
<rect x="409.73" y="211.53" width="1.6" height="1.6" fill="#ff7f0e"/>
<rect x="412.23" y="211.46" width="1.6" height="1.6" fill="#ff7f0e"/>
<rect x="414.72" y="211.73" width="1.6" height="1.6" fill="#ff7f0e"/>
<rect x="417.22" y="211.33" width="1.6" height="1.6" fill="#ff7f0e"/>
<rect x="419.72" y="211.63" width="1.6" height="1.6" fill="#ff7f0e"/>
<rect x="422.21" y="210.93" width="1.6" height="1.6" fill="#ff7f0e"/>
<rect x="424.71" y="211.86" width="1.6" height="1.6" fill="#ff7f0e"/>
<rect x="427.21" y="212.08" width="1.6" height="1.6" fill="#ff7f0e"/>
<rect x="429.7" y="211.99" width="1.6" height="1.6" fill="#ff7f0e"/>
<rect x="432.2" y="211.14" width="1.6" height="1.6" fill="#ff7f0e"/>
<rect x="434.7" y="211.7" width="1.6" height="1.6" fill="#ff7f0e"/>
<rect x="437.19" y="210.7" width="1.6" height="1.6" fill="#ff7f0e"/>
<rect x="439.69" y="211.69" width="1.6" height="1.6" fill="#ff7f0e"/>
<rect x="442.19" y="211.58" width="1.6" height="1.6" fill="#ff7f0e"/>
<rect x="444.68" y="211.3" width="1.6" height="1.6" fill="#ff7f0e"/>
<rect x="447.18" y="211.7" width="1.6" height="1.6" fill="#ff7f0e"/>
<rect x="449.68" y="211.64" width="1.6" height="1.6" fill="#ff7f0e"/>
<rect x="452.17" y="211.88" width="1.6" height="1.6" fill="#ff7f0e"/>
<rect x="454.67" y="211.64" width="1.6" height="1.6" fill="#ff7f0e"/>
<rect x="457.17" y="211.67" width="1.6" height="1.6" fill="#ff7f0e"/>
<rect x="459.66" y="211.01" width="1.6" height="1.6" fill="#ff7f0e"/>
<rect x="462.16" y="211.25" width="1.6" height="1.6" fill="#ff7f0e"/>
<rect x="464.66" y="211.46" width="1.6" height="1.6" fill="#ff7f0e"/>
<rect x="467.15" y="211.69" width="1.6" height="1.6" fill="#ff7f0e"/>
<rect x="469.65" y="211.6" width="1.6" height="1.6" fill="#ff7f0e"/>
<rect x="472.15" y="212.05" width="1.6" height="1.6" fill="#ff7f0e"/>
<rect x="474.64" y="211.34" width="1.6" height="1.6" fill="#ff7f0e"/>
<rect x="477.14" y="211.53" width="1.6" height="1.6" fill="#ff7f0e"/>
<rect x="479.64" y="211.68" width="1.6" height="1.6" fill="#ff7f0e"/>
<rect x="482.13" y="211.53" width="1.6" height="1.6" fill="#ff7f0e"/>
<rect x="484.63" y="211.75" width="1.6" height="1.6" fill="#ff7f0e"/>
<rect x="487.13" y="211.43" width="1.6" height="1.6" fill="#ff7f0e"/>
<rect x="489.62" y="212.03" width="1.6" height="1.6" fill="#ff7f0e"/>
<rect x="492.12" y="211.5" width="1.6" height="1.6" fill="#ff7f0e"/>
<rect x="494.62" y="211.94" width="1.6" height="1.6" fill="#ff7f0e"/>
<rect x="497.11" y="211.59" width="1.6" height="1.6" fill="#ff7f0e"/>
<rect x="499.61" y="212.05" width="1.6" height="1.6" fill="#ff7f0e"/>
<rect x="502.11" y="211.18" width="1.6" height="1.6" fill="#ff7f0e"/>
<rect x="504.6" y="211.76" width="1.6" height="1.6" fill="#ff7f0e"/>
<rect x="507.1" y="211.47" width="1.6" height="1.6" fill="#ff7f0e"/>
<rect x="509.6" y="211.67" width="1.6" height="1.6" fill="#ff7f0e"/>
<rect x="512.09" y="211.96" width="1.6" height="1.6" fill="#ff7f0e"/>
<rect x="514.59" y="211.26" width="1.6" height="1.6" fill="#ff7f0e"/>
<rect x="517.09" y="211.2" width="1.6" height="1.6" fill="#ff7f0e"/>
<rect x="519.58" y="211.3" width="1.6" height="1.6" fill="#ff7f0e"/>
<rect x="522.08" y="211.68" width="1.6" height="1.6" fill="#ff7f0e"/>
<rect x="524.58" y="211.03" width="1.6" height="1.6" fill="#ff7f0e"/>
<rect x="527.07" y="211.63" width="1.6" height="1.6" fill="#ff7f0e"/>
<rect x="529.57" y="211.21" width="1.6" height="1.6" fill="#ff7f0e"/>
<rect x="532.07" y="211.26" width="1.6" height="1.6" fill="#ff7f0e"/>
<rect x="534.56" y="211.49" width="1.6" height="1.6" fill="#ff7f0e"/>
<rect x="537.06" y="211.71" width="1.6" height="1.6" fill="#ff7f0e"/>
<rect x="539.55" y="211.41" width="1.6" height="1.6" fill="#ff7f0e"/>
<rect x="542.05" y="211.45" width="1.6" height="1.6" fill="#ff7f0e"/>
<rect x="544.55" y="211.59" width="1.6" height="1.6" fill="#ff7f0e"/>
<rect x="547.04" y="211.52" width="1.6" height="1.6" fill="#ff7f0e"/>
<rect x="549.54" y="210.79" width="1.6" height="1.6" fill="#ff7f0e"/>
<rect x="552.04" y="211.47" width="1.6" height="1.6" fill="#ff7f0e"/>
<rect x="554.53" y="211.63" width="1.6" height="1.6" fill="#ff7f0e"/>
<rect x="557.03" y="211.93" width="1.6" height="1.6" fill="#ff7f0e"/>
<rect x="559.53" y="212.22" width="1.6" height="1.6" fill="#ff7f0e"/>
<rect x="562.02" y="211.8" width="1.6" height="1.6" fill="#ff7f0e"/>
<rect x="564.52" y="211.62" width="1.6" height="1.6" fill="#ff7f0e"/>
<rect x="567.02" y="211.31" width="1.6" height="1.6" fill="#ff7f0e"/>
<rect x="569.51" y="211.63" width="1.6" height="1.6" fill="#ff7f0e"/>
<rect x="572.01" y="211.83" width="1.6" height="1.6" fill="#ff7f0e"/>
<rect x="574.51" y="211.98" width="1.6" height="1.6" fill="#ff7f0e"/>
<rect x="577" y="211.34" width="1.6" height="1.6" fill="#ff7f0e"/>
<rect x="579.5" y="211.67" width="1.6" height="1.6" fill="#ff7f0e"/>
<rect x="582" y="211.85" width="1.6" height="1.6" fill="#ff7f0e"/>
<rect x="584.49" y="212.16" width="1.6" height="1.6" fill="#ff7f0e"/>
<rect x="586.99" y="211.68" width="1.6" height="1.6" fill="#ff7f0e"/>
<rect x="589.49" y="211.44" width="1.6" height="1.6" fill="#ff7f0e"/>
<rect x="591.98" y="211.39" width="1.6" height="1.6" fill="#ff7f0e"/>
<rect x="594.48" y="211.49" width="1.6" height="1.6" fill="#ff7f0e"/>
<rect x="596.98" y="211.4" width="1.6" height="1.6" fill="#ff7f0e"/>
<rect x="599.47" y="211.85" width="1.6" height="1.6" fill="#ff7f0e"/>
<rect x="601.97" y="211.92" width="1.6" height="1.6" fill="#ff7f0e"/>
<rect x="604.47" y="211.82" width="1.6" height="1.6" fill="#ff7f0e"/>
<rect x="606.96" y="211.96" width="1.6" height="1.6" fill="#ff7f0e"/>
<rect x="609.46" y="211.46" width="1.6" height="1.6" fill="#ff7f0e"/>
<rect x="611.96" y="211.71" width="1.6" height="1.6" fill="#ff7f0e"/>
<rect x="614.45" y="211.48" width="1.6" height="1.6" fill="#ff7f0e"/>
<rect x="616.95" y="211.61" width="1.6" height="1.6" fill="#ff7f0e"/>
<rect x="619.45" y="211.97" width="1.6" height="1.6" fill="#ff7f0e"/>
<rect x="621.94" y="211.59" width="1.6" height="1.6" fill="#ff7f0e"/>
<rect x="624.44" y="211.04" width="1.6" height="1.6" fill="#ff7f0e"/>
<rect x="626.94" y="211.52" width="1.6" height="1.6" fill="#ff7f0e"/>
<rect x="629.43" y="211.39" width="1.6" height="1.6" fill="#ff7f0e"/>
<rect x="631.93" y="211.15" width="1.6" height="1.6" fill="#ff7f0e"/>
<rect x="634.43" y="211.36" width="1.6" height="1.6" fill="#ff7f0e"/>
<rect x="636.92" y="211.89" width="1.6" height="1.6" fill="#ff7f0e"/>
<rect x="639.42" y="212.11" width="1.6" height="1.6" fill="#ff7f0e"/>
<rect x="641.92" y="211.45" width="1.6" height="1.6" fill="#ff7f0e"/>
<rect x="644.41" y="211.9" width="1.6" height="1.6" fill="#ff7f0e"/>
<rect x="646.91" y="211.95" width="1.6" height="1.6" fill="#ff7f0e"/>
<rect x="649.41" y="211.25" width="1.6" height="1.6" fill="#ff7f0e"/>
<rect x="651.9" y="211.59" width="1.6" height="1.6" fill="#ff7f0e"/>
<rect x="654.4" y="211.59" width="1.6" height="1.6" fill="#ff7f0e"/>
<rect x="656.9" y="211.65" width="1.6" height="1.6" fill="#ff7f0e"/>
<rect x="659.39" y="211.12" width="1.6" height="1.6" fill="#ff7f0e"/>
<rect x="661.89" y="211.49" width="1.6" height="1.6" fill="#ff7f0e"/>
<rect x="664.38" y="211.92" width="1.6" height="1.6" fill="#ff7f0e"/>
<rect x="666.88" y="211.98" width="1.6" height="1.6" fill="#ff7f0e"/>
<rect x="669.38" y="212.15" width="1.6" height="1.6" fill="#ff7f0e"/>
<rect x="671.87" y="211.5" width="1.6" height="1.6" fill="#ff7f0e"/>
<rect x="674.37" y="212.16" width="1.6" height="1.6" fill="#ff7f0e"/>
<rect x="676.87" y="211.8" width="1.6" height="1.6" fill="#ff7f0e"/>
<rect x="403.68" y="210.94" width="1.6" height="1.6" fill="#2ca02c"/>
<rect x="406.18" y="210.66" width="1.6" height="1.6" fill="#2ca02c"/>
<rect x="408.67" y="211.33" width="1.6" height="1.6" fill="#2ca02c"/>
<rect x="411.17" y="210.64" width="1.6" height="1.6" fill="#2ca02c"/>
<rect x="413.67" y="210.87" width="1.6" height="1.6" fill="#2ca02c"/>
<rect x="416.16" y="211.04" width="1.6" height="1.6" fill="#2ca02c"/>
<rect x="418.66" y="210.87" width="1.6" height="1.6" fill="#2ca02c"/>
<rect x="421.16" y="211.21" width="1.6" height="1.6" fill="#2ca02c"/>
<rect x="423.65" y="210.96" width="1.6" height="1.6" fill="#2ca02c"/>
<rect x="426.15" y="211" width="1.6" height="1.6" fill="#2ca02c"/>
<rect x="428.65" y="210.9" width="1.6" height="1.6" fill="#2ca02c"/>
<rect x="431.14" y="210.59" width="1.6" height="1.6" fill="#2ca02c"/>
<rect x="433.64" y="210.67" width="1.6" height="1.6" fill="#2ca02c"/>
<rect x="436.14" y="211.02" width="1.6" height="1.6" fill="#2ca02c"/>
<rect x="438.63" y="211.12" width="1.6" height="1.6" fill="#2ca02c"/>
<rect x="441.13" y="211.38" width="1.6" height="1.6" fill="#2ca02c"/>
<rect x="443.63" y="210.61" width="1.6" height="1.6" fill="#2ca02c"/>
<rect x="446.12" y="210.85" width="1.6" height="1.6" fill="#2ca02c"/>
<rect x="448.62" y="210.65" width="1.6" height="1.6" fill="#2ca02c"/>
<rect x="451.12" y="211.2" width="1.6" height="1.6" fill="#2ca02c"/>
<rect x="453.61" y="211.54" width="1.6" height="1.6" fill="#2ca02c"/>
<rect x="456.11" y="211.23" width="1.6" height="1.6" fill="#2ca02c"/>
<rect x="458.61" y="211.3" width="1.6" height="1.6" fill="#2ca02c"/>
<rect x="461.1" y="210.64" width="1.6" height="1.6" fill="#2ca02c"/>
<rect x="463.6" y="211.19" width="1.6" height="1.6" fill="#2ca02c"/>
<rect x="466.1" y="211.11" width="1.6" height="1.6" fill="#2ca02c"/>
<rect x="468.59" y="211.42" width="1.6" height="1.6" fill="#2ca02c"/>
<rect x="471.09" y="210.93" width="1.6" height="1.6" fill="#2ca02c"/>
<rect x="473.59" y="210.93" width="1.6" height="1.6" fill="#2ca02c"/>
<rect x="476.08" y="211.07" width="1.6" height="1.6" fill="#2ca02c"/>
<rect x="478.58" y="211.02" width="1.6" height="1.6" fill="#2ca02c"/>
<rect x="481.08" y="210.5" width="1.6" height="1.6" fill="#2ca02c"/>
<rect x="483.57" y="211.21" width="1.6" height="1.6" fill="#2ca02c"/>
<rect x="486.07" y="210.73" width="1.6" height="1.6" fill="#2ca02c"/>
<rect x="488.57" y="211.2" width="1.6" height="1.6" fill="#2ca02c"/>
<rect x="491.06" y="210.67" width="1.6" height="1.6" fill="#2ca02c"/>
<rect x="493.56" y="211.54" width="1.6" height="1.6" fill="#2ca02c"/>
<rect x="496.06" y="211.01" width="1.6" height="1.6" fill="#2ca02c"/>
<rect x="498.55" y="210.85" width="1.6" height="1.6" fill="#2ca02c"/>
<rect x="501.05" y="211.26" width="1.6" height="1.6" fill="#2ca02c"/>
<rect x="503.54" y="211" width="1.6" height="1.6" fill="#2ca02c"/>
<rect x="506.04" y="210.7" width="1.6" height="1.6" fill="#2ca02c"/>
<rect x="508.54" y="211.33" width="1.6" height="1.6" fill="#2ca02c"/>
<rect x="511.03" y="210.61" width="1.6" height="1.6" fill="#2ca02c"/>
<rect x="513.53" y="211.22" width="1.6" height="1.6" fill="#2ca02c"/>
<rect x="516.03" y="211.33" width="1.6" height="1.6" fill="#2ca02c"/>
<rect x="518.52" y="211.5" width="1.6" height="1.6" fill="#2ca02c"/>
<rect x="521.02" y="210.67" width="1.6" height="1.6" fill="#2ca02c"/>
<rect x="523.52" y="211.11" width="1.6" height="1.6" fill="#2ca02c"/>
<rect x="526.01" y="211.1" width="1.6" height="1.6" fill="#2ca02c"/>
<rect x="528.51" y="211.55" width="1.6" height="1.6" fill="#2ca02c"/>
<rect x="531.01" y="210.68" width="1.6" height="1.6" fill="#2ca02c"/>
<rect x="533.5" y="211.08" width="1.6" height="1.6" fill="#2ca02c"/>
<rect x="536" y="211.03" width="1.6" height="1.6" fill="#2ca02c"/>
<rect x="538.5" y="211.24" width="1.6" height="1.6" fill="#2ca02c"/>
<rect x="540.99" y="211.24" width="1.6" height="1.6" fill="#2ca02c"/>
<rect x="543.49" y="210.57" width="1.6" height="1.6" fill="#2ca02c"/>
<rect x="545.99" y="211.61" width="1.6" height="1.6" fill="#2ca02c"/>
<rect x="548.48" y="211.27" width="1.6" height="1.6" fill="#2ca02c"/>
<rect x="550.98" y="211.53" width="1.6" height="1.6" fill="#2ca02c"/>
<rect x="553.48" y="211.02" width="1.6" height="1.6" fill="#2ca02c"/>
<rect x="555.97" y="211.27" width="1.6" height="1.6" fill="#2ca02c"/>
<rect x="558.47" y="211.12" width="1.6" height="1.6" fill="#2ca02c"/>
<rect x="560.97" y="211.37" width="1.6" height="1.6" fill="#2ca02c"/>
<rect x="563.46" y="211.44" width="1.6" height="1.6" fill="#2ca02c"/>
<rect x="565.96" y="210.66" width="1.6" height="1.6" fill="#2ca02c"/>
<rect x="568.46" y="211.11" width="1.6" height="1.6" fill="#2ca02c"/>
<rect x="570.95" y="211.02" width="1.6" height="1.6" fill="#2ca02c"/>
<rect x="573.45" y="211.35" width="1.6" height="1.6" fill="#2ca02c"/>
<rect x="575.95" y="211.33" width="1.6" height="1.6" fill="#2ca02c"/>
<rect x="578.44" y="211.39" width="1.6" height="1.6" fill="#2ca02c"/>
<rect x="580.94" y="211.03" width="1.6" height="1.6" fill="#2ca02c"/>
<rect x="583.44" y="210.94" width="1.6" height="1.6" fill="#2ca02c"/>
<rect x="585.93" y="211.31" width="1.6" height="1.6" fill="#2ca02c"/>
<rect x="588.43" y="210.84" width="1.6" height="1.6" fill="#2ca02c"/>
<rect x="590.93" y="210.86" width="1.6" height="1.6" fill="#2ca02c"/>
<rect x="593.42" y="210.72" width="1.6" height="1.6" fill="#2ca02c"/>
<rect x="595.92" y="211.36" width="1.6" height="1.6" fill="#2ca02c"/>
<rect x="598.42" y="210.68" width="1.6" height="1.6" fill="#2ca02c"/>
<rect x="600.91" y="210.49" width="1.6" height="1.6" fill="#2ca02c"/>
<rect x="603.41" y="210.8" width="1.6" height="1.6" fill="#2ca02c"/>
<rect x="605.91" y="211.04" width="1.6" height="1.6" fill="#2ca02c"/>
<rect x="608.4" y="211.07" width="1.6" height="1.6" fill="#2ca02c"/>
<rect x="610.9" y="211.02" width="1.6" height="1.6" fill="#2ca02c"/>
<rect x="613.4" y="211.04" width="1.6" height="1.6" fill="#2ca02c"/>
<rect x="615.89" y="210.43" width="1.6" height="1.6" fill="#2ca02c"/>
<rect x="618.39" y="211.33" width="1.6" height="1.6" fill="#2ca02c"/>
<rect x="620.89" y="210.89" width="1.6" height="1.6" fill="#2ca02c"/>
<rect x="623.38" y="210.95" width="1.6" height="1.6" fill="#2ca02c"/>
<rect x="625.88" y="211.02" width="1.6" height="1.6" fill="#2ca02c"/>
<rect x="628.37" y="210.28" width="1.6" height="1.6" fill="#2ca02c"/>
<rect x="630.87" y="211.28" width="1.6" height="1.6" fill="#2ca02c"/>
<rect x="633.37" y="211.07" width="1.6" height="1.6" fill="#2ca02c"/>
<rect x="635.86" y="210.46" width="1.6" height="1.6" fill="#2ca02c"/>
<rect x="638.36" y="211.31" width="1.6" height="1.6" fill="#2ca02c"/>
<rect x="640.86" y="211.03" width="1.6" height="1.6" fill="#2ca02c"/>
<rect x="643.35" y="211.36" width="1.6" height="1.6" fill="#2ca02c"/>
<rect x="645.85" y="211.41" width="1.6" height="1.6" fill="#2ca02c"/>
<rect x="648.35" y="211.19" width="1.6" height="1.6" fill="#2ca02c"/>
<rect x="650.84" y="211.3" width="1.6" height="1.6" fill="#2ca02c"/>
<rect x="653.34" y="210.66" width="1.6" height="1.6" fill="#2ca02c"/>
<rect x="655.84" y="211.25" width="1.6" height="1.6" fill="#2ca02c"/>
<rect x="658.33" y="210.61" width="1.6" height="1.6" fill="#2ca02c"/>
<rect x="660.83" y="211.24" width="1.6" height="1.6" fill="#2ca02c"/>
<rect x="663.33" y="210.8" width="1.6" height="1.6" fill="#2ca02c"/>
<rect x="665.82" y="211.1" width="1.6" height="1.6" fill="#2ca02c"/>
<rect x="668.32" y="210.97" width="1.6" height="1.6" fill="#2ca02c"/>
<rect x="670.82" y="211.16" width="1.6" height="1.6" fill="#2ca02c"/>
<rect x="673.31" y="210.75" width="1.6" height="1.6" fill="#2ca02c"/>
<rect x="675.81" y="211.84" width="1.6" height="1.6" fill="#2ca02c"/>
<rect x="678.31" y="211.34" width="1.6" height="1.6" fill="#2ca02c"/>
<rect x="402.83" y="211.66" width="1.6" height="1.6" fill="#d62728"/>
<rect x="405.33" y="211.06" width="1.6" height="1.6" fill="#d62728"/>
<rect x="407.83" y="211" width="1.6" height="1.6" fill="#d62728"/>
<rect x="410.32" y="210.88" width="1.6" height="1.6" fill="#d62728"/>
<rect x="412.82" y="210.97" width="1.6" height="1.6" fill="#d62728"/>
<rect x="415.32" y="210.9" width="1.6" height="1.6" fill="#d62728"/>
<rect x="417.81" y="211.14" width="1.6" height="1.6" fill="#d62728"/>
<rect x="420.31" y="210.86" width="1.6" height="1.6" fill="#d62728"/>
<rect x="422.81" y="211.23" width="1.6" height="1.6" fill="#d62728"/>
<rect x="425.3" y="210.49" width="1.6" height="1.6" fill="#d62728"/>
<rect x="427.8" y="210.93" width="1.6" height="1.6" fill="#d62728"/>
<rect x="430.3" y="211.13" width="1.6" height="1.6" fill="#d62728"/>
<rect x="432.79" y="210.35" width="1.6" height="1.6" fill="#d62728"/>
<rect x="435.29" y="210.52" width="1.6" height="1.6" fill="#d62728"/>
<rect x="437.79" y="210.34" width="1.6" height="1.6" fill="#d62728"/>
<rect x="440.28" y="210.03" width="1.6" height="1.6" fill="#d62728"/>
<rect x="442.78" y="209.6" width="1.6" height="1.6" fill="#d62728"/>
<rect x="445.28" y="209.16" width="1.6" height="1.6" fill="#d62728"/>
<rect x="447.77" y="209.83" width="1.6" height="1.6" fill="#d62728"/>
<rect x="450.27" y="209.48" width="1.6" height="1.6" fill="#d62728"/>
<rect x="452.77" y="208.35" width="1.6" height="1.6" fill="#d62728"/>
<rect x="455.26" y="208.37" width="1.6" height="1.6" fill="#d62728"/>
<rect x="457.76" y="207.8" width="1.6" height="1.6" fill="#d62728"/>
<rect x="460.26" y="208.83" width="1.6" height="1.6" fill="#d62728"/>
<rect x="462.75" y="208.09" width="1.6" height="1.6" fill="#d62728"/>
<rect x="465.25" y="206.18" width="1.6" height="1.6" fill="#d62728"/>
<rect x="467.75" y="206.67" width="1.6" height="1.6" fill="#d62728"/>
<rect x="470.24" y="205.86" width="1.6" height="1.6" fill="#d62728"/>
<rect x="472.74" y="205.19" width="1.6" height="1.6" fill="#d62728"/>
<rect x="475.24" y="204.62" width="1.6" height="1.6" fill="#d62728"/>
<rect x="477.73" y="204.24" width="1.6" height="1.6" fill="#d62728"/>
<rect x="480.23" y="203.75" width="1.6" height="1.6" fill="#d62728"/>
<rect x="482.73" y="204.15" width="1.6" height="1.6" fill="#d62728"/>
<rect x="485.22" y="201.58" width="1.6" height="1.6" fill="#d62728"/>
<rect x="487.72" y="199.83" width="1.6" height="1.6" fill="#d62728"/>
<rect x="490.22" y="200.01" width="1.6" height="1.6" fill="#d62728"/>
<rect x="492.71" y="198.11" width="1.6" height="1.6" fill="#d62728"/>
<rect x="495.21" y="197.58" width="1.6" height="1.6" fill="#d62728"/>
<rect x="497.71" y="196.79" width="1.6" height="1.6" fill="#d62728"/>
<rect x="500.2" y="196.36" width="1.6" height="1.6" fill="#d62728"/>
<rect x="502.7" y="195.35" width="1.6" height="1.6" fill="#d62728"/>
<rect x="505.2" y="192.14" width="1.6" height="1.6" fill="#d62728"/>
<rect x="507.69" y="192.04" width="1.6" height="1.6" fill="#d62728"/>
<rect x="510.19" y="192.89" width="1.6" height="1.6" fill="#d62728"/>
<rect x="512.68" y="191.06" width="1.6" height="1.6" fill="#d62728"/>
<rect x="515.18" y="190.24" width="1.6" height="1.6" fill="#d62728"/>
<rect x="517.68" y="189.27" width="1.6" height="1.6" fill="#d62728"/>
<rect x="520.17" y="187.74" width="1.6" height="1.6" fill="#d62728"/>
<rect x="522.67" y="187.7" width="1.6" height="1.6" fill="#d62728"/>
<rect x="525.17" y="188.14" width="1.6" height="1.6" fill="#d62728"/>
<rect x="527.66" y="186.02" width="1.6" height="1.6" fill="#d62728"/>
<rect x="530.16" y="184.67" width="1.6" height="1.6" fill="#d62728"/>
<rect x="532.66" y="185.98" width="1.6" height="1.6" fill="#d62728"/>
<rect x="535.15" y="183.38" width="1.6" height="1.6" fill="#d62728"/>
<rect x="537.65" y="183.43" width="1.6" height="1.6" fill="#d62728"/>
<rect x="540.15" y="183.69" width="1.6" height="1.6" fill="#d62728"/>
<rect x="542.64" y="183.76" width="1.6" height="1.6" fill="#d62728"/>
<rect x="545.14" y="182.2" width="1.6" height="1.6" fill="#d62728"/>
<rect x="547.64" y="183.26" width="1.6" height="1.6" fill="#d62728"/>
<rect x="550.13" y="183.02" width="1.6" height="1.6" fill="#d62728"/>
<rect x="552.63" y="183.14" width="1.6" height="1.6" fill="#d62728"/>
<rect x="555.13" y="182.62" width="1.6" height="1.6" fill="#d62728"/>
<rect x="557.62" y="182.81" width="1.6" height="1.6" fill="#d62728"/>
<rect x="560.12" y="182.68" width="1.6" height="1.6" fill="#d62728"/>
<rect x="562.62" y="183" width="1.6" height="1.6" fill="#d62728"/>
<rect x="565.11" y="183.98" width="1.6" height="1.6" fill="#d62728"/>
<rect x="567.61" y="184.37" width="1.6" height="1.6" fill="#d62728"/>
<rect x="570.11" y="184.56" width="1.6" height="1.6" fill="#d62728"/>
<rect x="572.6" y="185.51" width="1.6" height="1.6" fill="#d62728"/>
<rect x="575.1" y="185.15" width="1.6" height="1.6" fill="#d62728"/>
<rect x="577.6" y="185.5" width="1.6" height="1.6" fill="#d62728"/>
<rect x="580.09" y="187.97" width="1.6" height="1.6" fill="#d62728"/>
<rect x="582.59" y="188.03" width="1.6" height="1.6" fill="#d62728"/>
<rect x="585.09" y="186.71" width="1.6" height="1.6" fill="#d62728"/>
<rect x="587.58" y="187.95" width="1.6" height="1.6" fill="#d62728"/>
<rect x="590.08" y="190.51" width="1.6" height="1.6" fill="#d62728"/>
<rect x="592.58" y="189" width="1.6" height="1.6" fill="#d62728"/>
<rect x="595.07" y="190.28" width="1.6" height="1.6" fill="#d62728"/>
<rect x="597.57" y="192.45" width="1.6" height="1.6" fill="#d62728"/>
<rect x="600.07" y="191.89" width="1.6" height="1.6" fill="#d62728"/>
<rect x="602.56" y="194.52" width="1.6" height="1.6" fill="#d62728"/>
<rect x="605.06" y="195.25" width="1.6" height="1.6" fill="#d62728"/>
<rect x="607.56" y="195.02" width="1.6" height="1.6" fill="#d62728"/>
<rect x="610.05" y="196.24" width="1.6" height="1.6" fill="#d62728"/>
<rect x="612.55" y="195.06" width="1.6" height="1.6" fill="#d62728"/>
<rect x="615.05" y="196.3" width="1.6" height="1.6" fill="#d62728"/>
<rect x="617.54" y="198.16" width="1.6" height="1.6" fill="#d62728"/>
<rect x="620.04" y="199.07" width="1.6" height="1.6" fill="#d62728"/>
<rect x="622.54" y="198.62" width="1.6" height="1.6" fill="#d62728"/>
<rect x="625.03" y="200.87" width="1.6" height="1.6" fill="#d62728"/>
<rect x="627.53" y="200.24" width="1.6" height="1.6" fill="#d62728"/>
<rect x="630.03" y="200.58" width="1.6" height="1.6" fill="#d62728"/>
<rect x="632.52" y="201.13" width="1.6" height="1.6" fill="#d62728"/>
<rect x="635.02" y="202.64" width="1.6" height="1.6" fill="#d62728"/>
<rect x="637.51" y="203.84" width="1.6" height="1.6" fill="#d62728"/>
<rect x="640.01" y="204.48" width="1.6" height="1.6" fill="#d62728"/>
<rect x="642.51" y="203.89" width="1.6" height="1.6" fill="#d62728"/>
<rect x="645" y="205.2" width="1.6" height="1.6" fill="#d62728"/>
<rect x="647.5" y="205.98" width="1.6" height="1.6" fill="#d62728"/>
<rect x="650" y="205.07" width="1.6" height="1.6" fill="#d62728"/>
<rect x="652.49" y="206.11" width="1.6" height="1.6" fill="#d62728"/>
<rect x="654.99" y="206.41" width="1.6" height="1.6" fill="#d62728"/>
<rect x="657.49" y="206.75" width="1.6" height="1.6" fill="#d62728"/>
<rect x="659.98" y="207.19" width="1.6" height="1.6" fill="#d62728"/>
<rect x="662.48" y="207.12" width="1.6" height="1.6" fill="#d62728"/>
<rect x="664.98" y="207.65" width="1.6" height="1.6" fill="#d62728"/>
<rect x="667.47" y="207.98" width="1.6" height="1.6" fill="#d62728"/>
<rect x="669.97" y="207.74" width="1.6" height="1.6" fill="#d62728"/>
<rect x="672.47" y="207.4" width="1.6" height="1.6" fill="#d62728"/>
<rect x="674.96" y="207.38" width="1.6" height="1.6" fill="#d62728"/>
<rect x="677.46" y="207.96" width="1.6" height="1.6" fill="#d62728"/>
<rect x="403.47" y="210.76" width="1.6" height="1.6" fill="#a060d8"/>
<rect x="405.96" y="209.97" width="1.6" height="1.6" fill="#a060d8"/>
<rect x="408.46" y="210.02" width="1.6" height="1.6" fill="#a060d8"/>
<rect x="410.96" y="209.46" width="1.6" height="1.6" fill="#a060d8"/>
<rect x="413.45" y="209.1" width="1.6" height="1.6" fill="#a060d8"/>
<rect x="415.95" y="209.26" width="1.6" height="1.6" fill="#a060d8"/>
<rect x="418.45" y="209.06" width="1.6" height="1.6" fill="#a060d8"/>
<rect x="420.94" y="209.24" width="1.6" height="1.6" fill="#a060d8"/>
<rect x="423.44" y="207.92" width="1.6" height="1.6" fill="#a060d8"/>
<rect x="425.94" y="208.63" width="1.6" height="1.6" fill="#a060d8"/>
<rect x="428.43" y="208.22" width="1.6" height="1.6" fill="#a060d8"/>
<rect x="430.93" y="208.03" width="1.6" height="1.6" fill="#a060d8"/>
<rect x="433.43" y="206.63" width="1.6" height="1.6" fill="#a060d8"/>
<rect x="435.92" y="207.02" width="1.6" height="1.6" fill="#a060d8"/>
<rect x="438.42" y="206.03" width="1.6" height="1.6" fill="#a060d8"/>
<rect x="440.92" y="205.91" width="1.6" height="1.6" fill="#a060d8"/>
<rect x="443.41" y="205.48" width="1.6" height="1.6" fill="#a060d8"/>
<rect x="445.91" y="205.96" width="1.6" height="1.6" fill="#a060d8"/>
<rect x="448.41" y="204.9" width="1.6" height="1.6" fill="#a060d8"/>
<rect x="450.9" y="203.51" width="1.6" height="1.6" fill="#a060d8"/>
<rect x="453.4" y="202.87" width="1.6" height="1.6" fill="#a060d8"/>
<rect x="455.9" y="202.02" width="1.6" height="1.6" fill="#a060d8"/>
<rect x="458.39" y="200.47" width="1.6" height="1.6" fill="#a060d8"/>
<rect x="460.89" y="201.55" width="1.6" height="1.6" fill="#a060d8"/>
<rect x="463.38" y="199.28" width="1.6" height="1.6" fill="#a060d8"/>
<rect x="465.88" y="198.89" width="1.6" height="1.6" fill="#a060d8"/>
<rect x="468.38" y="196.03" width="1.6" height="1.6" fill="#a060d8"/>
<rect x="470.87" y="193.24" width="1.6" height="1.6" fill="#a060d8"/>
<rect x="473.37" y="193.66" width="1.6" height="1.6" fill="#a060d8"/>
<rect x="475.87" y="192.01" width="1.6" height="1.6" fill="#a060d8"/>
<rect x="478.36" y="189.71" width="1.6" height="1.6" fill="#a060d8"/>
<rect x="480.86" y="191.38" width="1.6" height="1.6" fill="#a060d8"/>
<rect x="483.36" y="185.18" width="1.6" height="1.6" fill="#a060d8"/>
<rect x="485.85" y="183.76" width="1.6" height="1.6" fill="#a060d8"/>
<rect x="488.35" y="179.91" width="1.6" height="1.6" fill="#a060d8"/>
<rect x="490.85" y="180.75" width="1.6" height="1.6" fill="#a060d8"/>
<rect x="493.34" y="177.64" width="1.6" height="1.6" fill="#a060d8"/>
<rect x="495.84" y="169.96" width="1.6" height="1.6" fill="#a060d8"/>
<rect x="498.34" y="163.32" width="1.6" height="1.6" fill="#a060d8"/>
<rect x="500.83" y="153.1" width="1.6" height="1.6" fill="#a060d8"/>
<rect x="503.33" y="153.57" width="1.6" height="1.6" fill="#a060d8"/>
<rect x="505.83" y="153.08" width="1.6" height="1.6" fill="#a060d8"/>
<rect x="508.32" y="147.37" width="1.6" height="1.6" fill="#a060d8"/>
<rect x="510.82" y="148.68" width="1.6" height="1.6" fill="#a060d8"/>
<rect x="513.32" y="142.21" width="1.6" height="1.6" fill="#a060d8"/>
<rect x="515.81" y="145.5" width="1.6" height="1.6" fill="#a060d8"/>
<rect x="518.31" y="136.63" width="1.6" height="1.6" fill="#a060d8"/>
<rect x="520.81" y="139.1" width="1.6" height="1.6" fill="#a060d8"/>
<rect x="523.3" y="135" width="1.6" height="1.6" fill="#a060d8"/>
<rect x="525.8" y="137.63" width="1.6" height="1.6" fill="#a060d8"/>
<rect x="528.3" y="135.85" width="1.6" height="1.6" fill="#a060d8"/>
<rect x="530.79" y="135.49" width="1.6" height="1.6" fill="#a060d8"/>
<rect x="533.29" y="138.2" width="1.6" height="1.6" fill="#a060d8"/>
<rect x="535.79" y="139.34" width="1.6" height="1.6" fill="#a060d8"/>
<rect x="538.28" y="138.31" width="1.6" height="1.6" fill="#a060d8"/>
<rect x="540.78" y="141.36" width="1.6" height="1.6" fill="#a060d8"/>
<rect x="543.28" y="142.93" width="1.6" height="1.6" fill="#a060d8"/>
<rect x="545.77" y="142.92" width="1.6" height="1.6" fill="#a060d8"/>
<rect x="548.27" y="146.49" width="1.6" height="1.6" fill="#a060d8"/>
<rect x="550.77" y="148.85" width="1.6" height="1.6" fill="#a060d8"/>
<rect x="553.26" y="152.87" width="1.6" height="1.6" fill="#a060d8"/>
<rect x="555.76" y="158.13" width="1.6" height="1.6" fill="#a060d8"/>
<rect x="558.26" y="157.88" width="1.6" height="1.6" fill="#a060d8"/>
<rect x="560.75" y="159.4" width="1.6" height="1.6" fill="#a060d8"/>
<rect x="563.25" y="164.04" width="1.6" height="1.6" fill="#a060d8"/>
<rect x="565.75" y="165.79" width="1.6" height="1.6" fill="#a060d8"/>
<rect x="568.24" y="161.64" width="1.6" height="1.6" fill="#a060d8"/>
<rect x="570.74" y="164.08" width="1.6" height="1.6" fill="#a060d8"/>
<rect x="573.24" y="166.19" width="1.6" height="1.6" fill="#a060d8"/>
<rect x="575.73" y="173.74" width="1.6" height="1.6" fill="#a060d8"/>
<rect x="578.23" y="170.12" width="1.6" height="1.6" fill="#a060d8"/>
<rect x="580.73" y="173.35" width="1.6" height="1.6" fill="#a060d8"/>
<rect x="583.22" y="176.14" width="1.6" height="1.6" fill="#a060d8"/>
<rect x="585.72" y="174.55" width="1.6" height="1.6" fill="#a060d8"/>
<rect x="588.21" y="179.87" width="1.6" height="1.6" fill="#a060d8"/>
<rect x="590.71" y="179.27" width="1.6" height="1.6" fill="#a060d8"/>
<rect x="593.21" y="182.45" width="1.6" height="1.6" fill="#a060d8"/>
<rect x="595.7" y="185.83" width="1.6" height="1.6" fill="#a060d8"/>
<rect x="598.2" y="184.98" width="1.6" height="1.6" fill="#a060d8"/>
<rect x="600.7" y="188.5" width="1.6" height="1.6" fill="#a060d8"/>
<rect x="603.19" y="187.93" width="1.6" height="1.6" fill="#a060d8"/>
<rect x="605.69" y="188.62" width="1.6" height="1.6" fill="#a060d8"/>
<rect x="608.19" y="190.56" width="1.6" height="1.6" fill="#a060d8"/>
<rect x="610.68" y="194.54" width="1.6" height="1.6" fill="#a060d8"/>
<rect x="613.18" y="193.44" width="1.6" height="1.6" fill="#a060d8"/>
<rect x="615.68" y="192.04" width="1.6" height="1.6" fill="#a060d8"/>
<rect x="618.17" y="193.6" width="1.6" height="1.6" fill="#a060d8"/>
<rect x="620.67" y="196.06" width="1.6" height="1.6" fill="#a060d8"/>
<rect x="623.17" y="195.58" width="1.6" height="1.6" fill="#a060d8"/>
<rect x="625.66" y="197.4" width="1.6" height="1.6" fill="#a060d8"/>
<rect x="628.16" y="198.23" width="1.6" height="1.6" fill="#a060d8"/>
<rect x="630.66" y="200.21" width="1.6" height="1.6" fill="#a060d8"/>
<rect x="633.15" y="200.11" width="1.6" height="1.6" fill="#a060d8"/>
<rect x="635.65" y="201.52" width="1.6" height="1.6" fill="#a060d8"/>
<rect x="638.15" y="202.13" width="1.6" height="1.6" fill="#a060d8"/>
<rect x="640.64" y="202.62" width="1.6" height="1.6" fill="#a060d8"/>
<rect x="643.14" y="202.89" width="1.6" height="1.6" fill="#a060d8"/>
<rect x="645.64" y="203.31" width="1.6" height="1.6" fill="#a060d8"/>
<rect x="648.13" y="203.37" width="1.6" height="1.6" fill="#a060d8"/>
<rect x="650.63" y="205.22" width="1.6" height="1.6" fill="#a060d8"/>
<rect x="653.13" y="205.12" width="1.6" height="1.6" fill="#a060d8"/>
<rect x="655.62" y="205.88" width="1.6" height="1.6" fill="#a060d8"/>
<rect x="658.12" y="204.78" width="1.6" height="1.6" fill="#a060d8"/>
<rect x="660.62" y="206.49" width="1.6" height="1.6" fill="#a060d8"/>
<rect x="663.11" y="205.7" width="1.6" height="1.6" fill="#a060d8"/>
<rect x="665.61" y="205.99" width="1.6" height="1.6" fill="#a060d8"/>
<rect x="668.11" y="206.48" width="1.6" height="1.6" fill="#a060d8"/>
<rect x="670.6" y="206.76" width="1.6" height="1.6" fill="#a060d8"/>
<rect x="673.1" y="206.69" width="1.6" height="1.6" fill="#a060d8"/>
<rect x="675.6" y="206.86" width="1.6" height="1.6" fill="#a060d8"/>
<rect x="678.09" y="206.35" width="1.6" height="1.6" fill="#a060d8"/>
<rect x="402.79" y="209.02" width="1.6" height="1.6" fill="#8c564b"/>
<rect x="405.28" y="209.43" width="1.6" height="1.6" fill="#8c564b"/>
<rect x="407.78" y="209.07" width="1.6" height="1.6" fill="#8c564b"/>
<rect x="410.27" y="209.16" width="1.6" height="1.6" fill="#8c564b"/>
<rect x="412.77" y="209.73" width="1.6" height="1.6" fill="#8c564b"/>
<rect x="415.27" y="208.74" width="1.6" height="1.6" fill="#8c564b"/>
<rect x="417.76" y="208.53" width="1.6" height="1.6" fill="#8c564b"/>
<rect x="420.26" y="207.8" width="1.6" height="1.6" fill="#8c564b"/>
<rect x="422.76" y="206.91" width="1.6" height="1.6" fill="#8c564b"/>
<rect x="425.25" y="205.77" width="1.6" height="1.6" fill="#8c564b"/>
<rect x="427.75" y="204.51" width="1.6" height="1.6" fill="#8c564b"/>
<rect x="430.25" y="204.83" width="1.6" height="1.6" fill="#8c564b"/>
<rect x="432.74" y="206.28" width="1.6" height="1.6" fill="#8c564b"/>
<rect x="435.24" y="201.46" width="1.6" height="1.6" fill="#8c564b"/>
<rect x="437.74" y="202.3" width="1.6" height="1.6" fill="#8c564b"/>
<rect x="440.23" y="199.67" width="1.6" height="1.6" fill="#8c564b"/>
<rect x="442.73" y="197.47" width="1.6" height="1.6" fill="#8c564b"/>
<rect x="445.23" y="198.31" width="1.6" height="1.6" fill="#8c564b"/>
<rect x="447.72" y="195.14" width="1.6" height="1.6" fill="#8c564b"/>
<rect x="450.22" y="191.46" width="1.6" height="1.6" fill="#8c564b"/>
<rect x="452.72" y="189.26" width="1.6" height="1.6" fill="#8c564b"/>
<rect x="455.21" y="184.77" width="1.6" height="1.6" fill="#8c564b"/>
<rect x="457.71" y="185.15" width="1.6" height="1.6" fill="#8c564b"/>
<rect x="460.21" y="180.43" width="1.6" height="1.6" fill="#8c564b"/>
<rect x="462.7" y="180.56" width="1.6" height="1.6" fill="#8c564b"/>
<rect x="465.2" y="173.2" width="1.6" height="1.6" fill="#8c564b"/>
<rect x="467.7" y="166.93" width="1.6" height="1.6" fill="#8c564b"/>
<rect x="470.19" y="164.59" width="1.6" height="1.6" fill="#8c564b"/>
<rect x="472.69" y="165.91" width="1.6" height="1.6" fill="#8c564b"/>
<rect x="475.19" y="152.52" width="1.6" height="1.6" fill="#8c564b"/>
<rect x="477.68" y="143.46" width="1.6" height="1.6" fill="#8c564b"/>
<rect x="480.18" y="130.17" width="1.6" height="1.6" fill="#8c564b"/>
<rect x="482.68" y="129.69" width="1.6" height="1.6" fill="#8c564b"/>
<rect x="485.17" y="126.62" width="1.6" height="1.6" fill="#8c564b"/>
<rect x="487.67" y="125.69" width="1.6" height="1.6" fill="#8c564b"/>
<rect x="490.17" y="102.03" width="1.6" height="1.6" fill="#8c564b"/>
<rect x="492.66" y="112.54" width="1.6" height="1.6" fill="#8c564b"/>
<rect x="495.16" y="104.89" width="1.6" height="1.6" fill="#8c564b"/>
<rect x="497.66" y="98.32" width="1.6" height="1.6" fill="#8c564b"/>
<rect x="500.15" y="100.55" width="1.6" height="1.6" fill="#8c564b"/>
<rect x="502.65" y="89.38" width="1.6" height="1.6" fill="#8c564b"/>
<rect x="505.15" y="89.58" width="1.6" height="1.6" fill="#8c564b"/>
<rect x="507.64" y="89.11" width="1.6" height="1.6" fill="#8c564b"/>
<rect x="510.14" y="88.09" width="1.6" height="1.6" fill="#8c564b"/>
<rect x="512.64" y="89.5" width="1.6" height="1.6" fill="#8c564b"/>
<rect x="515.13" y="89.35" width="1.6" height="1.6" fill="#8c564b"/>
<rect x="517.63" y="93.55" width="1.6" height="1.6" fill="#8c564b"/>
<rect x="520.13" y="101.15" width="1.6" height="1.6" fill="#8c564b"/>
<rect x="522.62" y="97.03" width="1.6" height="1.6" fill="#8c564b"/>
<rect x="525.12" y="91.24" width="1.6" height="1.6" fill="#8c564b"/>
<rect x="527.62" y="100.42" width="1.6" height="1.6" fill="#8c564b"/>
<rect x="530.11" y="103.16" width="1.6" height="1.6" fill="#8c564b"/>
<rect x="532.61" y="114.9" width="1.6" height="1.6" fill="#8c564b"/>
<rect x="535.1" y="114.76" width="1.6" height="1.6" fill="#8c564b"/>
<rect x="537.6" y="121.03" width="1.6" height="1.6" fill="#8c564b"/>
<rect x="540.1" y="120.23" width="1.6" height="1.6" fill="#8c564b"/>
<rect x="542.59" y="126.47" width="1.6" height="1.6" fill="#8c564b"/>
<rect x="545.09" y="133.73" width="1.6" height="1.6" fill="#8c564b"/>
<rect x="547.59" y="129.35" width="1.6" height="1.6" fill="#8c564b"/>
<rect x="550.08" y="128.56" width="1.6" height="1.6" fill="#8c564b"/>
<rect x="552.58" y="134.83" width="1.6" height="1.6" fill="#8c564b"/>
<rect x="555.08" y="148.69" width="1.6" height="1.6" fill="#8c564b"/>
<rect x="557.57" y="145.31" width="1.6" height="1.6" fill="#8c564b"/>
<rect x="560.07" y="147.79" width="1.6" height="1.6" fill="#8c564b"/>
<rect x="562.57" y="149.49" width="1.6" height="1.6" fill="#8c564b"/>
<rect x="565.06" y="157.46" width="1.6" height="1.6" fill="#8c564b"/>
<rect x="567.56" y="157.86" width="1.6" height="1.6" fill="#8c564b"/>
<rect x="570.06" y="160.47" width="1.6" height="1.6" fill="#8c564b"/>
<rect x="572.55" y="160.29" width="1.6" height="1.6" fill="#8c564b"/>
<rect x="575.05" y="163.94" width="1.6" height="1.6" fill="#8c564b"/>
<rect x="577.55" y="166.09" width="1.6" height="1.6" fill="#8c564b"/>
<rect x="580.04" y="170.94" width="1.6" height="1.6" fill="#8c564b"/>
<rect x="582.54" y="174.51" width="1.6" height="1.6" fill="#8c564b"/>
<rect x="585.04" y="169.39" width="1.6" height="1.6" fill="#8c564b"/>
<rect x="587.53" y="173.42" width="1.6" height="1.6" fill="#8c564b"/>
<rect x="590.03" y="177.03" width="1.6" height="1.6" fill="#8c564b"/>
<rect x="592.53" y="179.14" width="1.6" height="1.6" fill="#8c564b"/>
<rect x="595.02" y="177.85" width="1.6" height="1.6" fill="#8c564b"/>
<rect x="597.52" y="181.63" width="1.6" height="1.6" fill="#8c564b"/>
<rect x="600.02" y="183.09" width="1.6" height="1.6" fill="#8c564b"/>
<rect x="602.51" y="184.34" width="1.6" height="1.6" fill="#8c564b"/>
<rect x="605.01" y="186.41" width="1.6" height="1.6" fill="#8c564b"/>
<rect x="607.51" y="188.12" width="1.6" height="1.6" fill="#8c564b"/>
<rect x="610" y="190.48" width="1.6" height="1.6" fill="#8c564b"/>
<rect x="612.5" y="190.71" width="1.6" height="1.6" fill="#8c564b"/>
<rect x="615" y="191.71" width="1.6" height="1.6" fill="#8c564b"/>
<rect x="617.49" y="192.69" width="1.6" height="1.6" fill="#8c564b"/>
<rect x="619.99" y="192.65" width="1.6" height="1.6" fill="#8c564b"/>
<rect x="622.49" y="193.86" width="1.6" height="1.6" fill="#8c564b"/>
<rect x="624.98" y="196.01" width="1.6" height="1.6" fill="#8c564b"/>
<rect x="627.48" y="196.64" width="1.6" height="1.6" fill="#8c564b"/>
<rect x="629.98" y="197.53" width="1.6" height="1.6" fill="#8c564b"/>
<rect x="632.47" y="198.28" width="1.6" height="1.6" fill="#8c564b"/>
<rect x="634.97" y="198.67" width="1.6" height="1.6" fill="#8c564b"/>
<rect x="637.47" y="199.64" width="1.6" height="1.6" fill="#8c564b"/>
<rect x="639.96" y="198.95" width="1.6" height="1.6" fill="#8c564b"/>
<rect x="642.46" y="200.92" width="1.6" height="1.6" fill="#8c564b"/>
<rect x="644.96" y="201.11" width="1.6" height="1.6" fill="#8c564b"/>
<rect x="647.45" y="202.16" width="1.6" height="1.6" fill="#8c564b"/>
<rect x="649.95" y="202.21" width="1.6" height="1.6" fill="#8c564b"/>
<rect x="652.45" y="203.1" width="1.6" height="1.6" fill="#8c564b"/>
<rect x="654.94" y="203.33" width="1.6" height="1.6" fill="#8c564b"/>
<rect x="657.44" y="203.9" width="1.6" height="1.6" fill="#8c564b"/>
<rect x="659.93" y="204.72" width="1.6" height="1.6" fill="#8c564b"/>
<rect x="662.43" y="204.54" width="1.6" height="1.6" fill="#8c564b"/>
<rect x="664.93" y="204.46" width="1.6" height="1.6" fill="#8c564b"/>
<rect x="667.42" y="204.68" width="1.6" height="1.6" fill="#8c564b"/>
<rect x="669.92" y="204.96" width="1.6" height="1.6" fill="#8c564b"/>
<rect x="672.42" y="205.49" width="1.6" height="1.6" fill="#8c564b"/>
<rect x="674.91" y="205.36" width="1.6" height="1.6" fill="#8c564b"/>
<rect x="677.41" y="205.52" width="1.6" height="1.6" fill="#8c564b"/>
<rect x="404.21" y="208.85" width="1.6" height="1.6" fill="#e377c2"/>
<rect x="406.7" y="208.5" width="1.6" height="1.6" fill="#e377c2"/>
<rect x="409.2" y="208.38" width="1.6" height="1.6" fill="#e377c2"/>
<rect x="411.7" y="208.17" width="1.6" height="1.6" fill="#e377c2"/>
<rect x="414.19" y="206.9" width="1.6" height="1.6" fill="#e377c2"/>
<rect x="416.69" y="207.01" width="1.6" height="1.6" fill="#e377c2"/>
<rect x="419.19" y="204.39" width="1.6" height="1.6" fill="#e377c2"/>
<rect x="421.68" y="201.52" width="1.6" height="1.6" fill="#e377c2"/>
<rect x="424.18" y="204.11" width="1.6" height="1.6" fill="#e377c2"/>
<rect x="426.68" y="198.91" width="1.6" height="1.6" fill="#e377c2"/>
<rect x="429.17" y="199.52" width="1.6" height="1.6" fill="#e377c2"/>
<rect x="431.67" y="195.52" width="1.6" height="1.6" fill="#e377c2"/>
<rect x="434.17" y="194.84" width="1.6" height="1.6" fill="#e377c2"/>
<rect x="436.66" y="193.8" width="1.6" height="1.6" fill="#e377c2"/>
<rect x="439.16" y="192.04" width="1.6" height="1.6" fill="#e377c2"/>
<rect x="441.66" y="189.32" width="1.6" height="1.6" fill="#e377c2"/>
<rect x="444.15" y="183.41" width="1.6" height="1.6" fill="#e377c2"/>
<rect x="446.65" y="180.46" width="1.6" height="1.6" fill="#e377c2"/>
<rect x="449.15" y="181.38" width="1.6" height="1.6" fill="#e377c2"/>
<rect x="451.64" y="175.46" width="1.6" height="1.6" fill="#e377c2"/>
<rect x="454.14" y="163.04" width="1.6" height="1.6" fill="#e377c2"/>
<rect x="456.64" y="160.51" width="1.6" height="1.6" fill="#e377c2"/>
<rect x="459.13" y="157.07" width="1.6" height="1.6" fill="#e377c2"/>
<rect x="461.63" y="164.35" width="1.6" height="1.6" fill="#e377c2"/>
<rect x="464.13" y="140.24" width="1.6" height="1.6" fill="#e377c2"/>
<rect x="466.62" y="122.04" width="1.6" height="1.6" fill="#e377c2"/>
<rect x="469.12" y="130.94" width="1.6" height="1.6" fill="#e377c2"/>
<rect x="471.62" y="116.92" width="1.6" height="1.6" fill="#e377c2"/>
<rect x="474.11" y="103.41" width="1.6" height="1.6" fill="#e377c2"/>
<rect x="476.61" y="105.49" width="1.6" height="1.6" fill="#e377c2"/>
<rect x="479.11" y="86" width="1.6" height="1.6" fill="#e377c2"/>
<rect x="481.6" y="86.56" width="1.6" height="1.6" fill="#e377c2"/>
<rect x="484.1" y="67.61" width="1.6" height="1.6" fill="#e377c2"/>
<rect x="486.6" y="68.38" width="1.6" height="1.6" fill="#e377c2"/>
<rect x="489.09" y="66.68" width="1.6" height="1.6" fill="#e377c2"/>
<rect x="491.59" y="70.32" width="1.6" height="1.6" fill="#e377c2"/>
<rect x="494.09" y="67.16" width="1.6" height="1.6" fill="#e377c2"/>
<rect x="496.58" y="61.48" width="1.6" height="1.6" fill="#e377c2"/>
<rect x="499.08" y="60.76" width="1.6" height="1.6" fill="#e377c2"/>
<rect x="501.57" y="58.34" width="1.6" height="1.6" fill="#e377c2"/>
<rect x="504.07" y="59.38" width="1.6" height="1.6" fill="#e377c2"/>
<rect x="506.57" y="62.88" width="1.6" height="1.6" fill="#e377c2"/>
<rect x="509.06" y="62.75" width="1.6" height="1.6" fill="#e377c2"/>
<rect x="511.56" y="60.03" width="1.6" height="1.6" fill="#e377c2"/>
<rect x="514.06" y="65.04" width="1.6" height="1.6" fill="#e377c2"/>
<rect x="516.55" y="68.44" width="1.6" height="1.6" fill="#e377c2"/>
<rect x="519.05" y="69.47" width="1.6" height="1.6" fill="#e377c2"/>
<rect x="521.55" y="78.57" width="1.6" height="1.6" fill="#e377c2"/>
<rect x="524.04" y="84.8" width="1.6" height="1.6" fill="#e377c2"/>
<rect x="526.54" y="99.59" width="1.6" height="1.6" fill="#e377c2"/>
<rect x="529.04" y="96.37" width="1.6" height="1.6" fill="#e377c2"/>
<rect x="531.53" y="106.28" width="1.6" height="1.6" fill="#e377c2"/>
<rect x="534.03" y="102.71" width="1.6" height="1.6" fill="#e377c2"/>
<rect x="536.53" y="113.2" width="1.6" height="1.6" fill="#e377c2"/>
<rect x="539.02" y="121.29" width="1.6" height="1.6" fill="#e377c2"/>
<rect x="541.52" y="117.96" width="1.6" height="1.6" fill="#e377c2"/>
<rect x="544.02" y="115.5" width="1.6" height="1.6" fill="#e377c2"/>
<rect x="546.51" y="133.37" width="1.6" height="1.6" fill="#e377c2"/>
<rect x="549.01" y="132.76" width="1.6" height="1.6" fill="#e377c2"/>
<rect x="551.51" y="139.75" width="1.6" height="1.6" fill="#e377c2"/>
<rect x="554" y="142.23" width="1.6" height="1.6" fill="#e377c2"/>
<rect x="556.5" y="137.8" width="1.6" height="1.6" fill="#e377c2"/>
<rect x="559" y="151.11" width="1.6" height="1.6" fill="#e377c2"/>
<rect x="561.49" y="151.32" width="1.6" height="1.6" fill="#e377c2"/>
<rect x="563.99" y="153.85" width="1.6" height="1.6" fill="#e377c2"/>
<rect x="566.49" y="157.38" width="1.6" height="1.6" fill="#e377c2"/>
<rect x="568.98" y="164" width="1.6" height="1.6" fill="#e377c2"/>
<rect x="571.48" y="161.39" width="1.6" height="1.6" fill="#e377c2"/>
<rect x="573.98" y="166.38" width="1.6" height="1.6" fill="#e377c2"/>
<rect x="576.47" y="168.8" width="1.6" height="1.6" fill="#e377c2"/>
<rect x="578.97" y="171.44" width="1.6" height="1.6" fill="#e377c2"/>
<rect x="581.47" y="173.88" width="1.6" height="1.6" fill="#e377c2"/>
<rect x="583.96" y="175.14" width="1.6" height="1.6" fill="#e377c2"/>
<rect x="586.46" y="175.09" width="1.6" height="1.6" fill="#e377c2"/>
<rect x="588.96" y="177.96" width="1.6" height="1.6" fill="#e377c2"/>
<rect x="591.45" y="181.25" width="1.6" height="1.6" fill="#e377c2"/>
<rect x="593.95" y="183.17" width="1.6" height="1.6" fill="#e377c2"/>
<rect x="596.45" y="182.82" width="1.6" height="1.6" fill="#e377c2"/>
<rect x="598.94" y="185.32" width="1.6" height="1.6" fill="#e377c2"/>
<rect x="601.44" y="188.7" width="1.6" height="1.6" fill="#e377c2"/>
<rect x="603.94" y="187.57" width="1.6" height="1.6" fill="#e377c2"/>
<rect x="606.43" y="188.61" width="1.6" height="1.6" fill="#e377c2"/>
<rect x="608.93" y="192.68" width="1.6" height="1.6" fill="#e377c2"/>
<rect x="611.43" y="190.98" width="1.6" height="1.6" fill="#e377c2"/>
<rect x="613.92" y="192.1" width="1.6" height="1.6" fill="#e377c2"/>
<rect x="616.42" y="194.07" width="1.6" height="1.6" fill="#e377c2"/>
<rect x="618.92" y="197.09" width="1.6" height="1.6" fill="#e377c2"/>
<rect x="621.41" y="194.66" width="1.6" height="1.6" fill="#e377c2"/>
<rect x="623.91" y="198.37" width="1.6" height="1.6" fill="#e377c2"/>
<rect x="626.4" y="198.6" width="1.6" height="1.6" fill="#e377c2"/>
<rect x="628.9" y="197.99" width="1.6" height="1.6" fill="#e377c2"/>
<rect x="631.4" y="198.63" width="1.6" height="1.6" fill="#e377c2"/>
<rect x="633.89" y="200.6" width="1.6" height="1.6" fill="#e377c2"/>
<rect x="636.39" y="201.06" width="1.6" height="1.6" fill="#e377c2"/>
<rect x="638.89" y="200.09" width="1.6" height="1.6" fill="#e377c2"/>
<rect x="641.38" y="201.88" width="1.6" height="1.6" fill="#e377c2"/>
<rect x="643.88" y="202.36" width="1.6" height="1.6" fill="#e377c2"/>
<rect x="646.38" y="203.43" width="1.6" height="1.6" fill="#e377c2"/>
<rect x="648.87" y="203.74" width="1.6" height="1.6" fill="#e377c2"/>
<rect x="651.37" y="204.61" width="1.6" height="1.6" fill="#e377c2"/>
<rect x="653.87" y="204.15" width="1.6" height="1.6" fill="#e377c2"/>
<rect x="656.36" y="204.9" width="1.6" height="1.6" fill="#e377c2"/>
<rect x="658.86" y="204.54" width="1.6" height="1.6" fill="#e377c2"/>
<rect x="661.36" y="205.42" width="1.6" height="1.6" fill="#e377c2"/>
<rect x="663.85" y="205.88" width="1.6" height="1.6" fill="#e377c2"/>
<rect x="666.35" y="206.17" width="1.6" height="1.6" fill="#e377c2"/>
<rect x="668.85" y="205.77" width="1.6" height="1.6" fill="#e377c2"/>
<rect x="671.34" y="206.7" width="1.6" height="1.6" fill="#e377c2"/>
<rect x="673.84" y="206.4" width="1.6" height="1.6" fill="#e377c2"/>
<rect x="676.34" y="206.3" width="1.6" height="1.6" fill="#e377c2"/>
<rect x="404.15" y="206.83" width="1.6" height="1.6" fill="#bcbd22"/>
<rect x="406.65" y="207.27" width="1.6" height="1.6" fill="#bcbd22"/>
<rect x="409.15" y="205.96" width="1.6" height="1.6" fill="#bcbd22"/>
<rect x="411.64" y="203.03" width="1.6" height="1.6" fill="#bcbd22"/>
<rect x="414.14" y="205.07" width="1.6" height="1.6" fill="#bcbd22"/>
<rect x="416.63" y="203.09" width="1.6" height="1.6" fill="#bcbd22"/>
<rect x="419.13" y="200.12" width="1.6" height="1.6" fill="#bcbd22"/>
<rect x="421.63" y="197.79" width="1.6" height="1.6" fill="#bcbd22"/>
<rect x="424.12" y="198.87" width="1.6" height="1.6" fill="#bcbd22"/>
<rect x="426.62" y="195.91" width="1.6" height="1.6" fill="#bcbd22"/>
<rect x="429.12" y="192.2" width="1.6" height="1.6" fill="#bcbd22"/>
<rect x="431.61" y="190.98" width="1.6" height="1.6" fill="#bcbd22"/>
<rect x="434.11" y="184.92" width="1.6" height="1.6" fill="#bcbd22"/>
<rect x="436.61" y="181.52" width="1.6" height="1.6" fill="#bcbd22"/>
<rect x="439.1" y="173.5" width="1.6" height="1.6" fill="#bcbd22"/>
<rect x="441.6" y="182.28" width="1.6" height="1.6" fill="#bcbd22"/>
<rect x="444.1" y="164.1" width="1.6" height="1.6" fill="#bcbd22"/>
<rect x="446.59" y="161.49" width="1.6" height="1.6" fill="#bcbd22"/>
<rect x="449.09" y="161.75" width="1.6" height="1.6" fill="#bcbd22"/>
<rect x="451.59" y="151.77" width="1.6" height="1.6" fill="#bcbd22"/>
<rect x="454.08" y="139.47" width="1.6" height="1.6" fill="#bcbd22"/>
<rect x="456.58" y="136.97" width="1.6" height="1.6" fill="#bcbd22"/>
<rect x="459.08" y="134.93" width="1.6" height="1.6" fill="#bcbd22"/>
<rect x="461.57" y="120.8" width="1.6" height="1.6" fill="#bcbd22"/>
<rect x="464.07" y="121.11" width="1.6" height="1.6" fill="#bcbd22"/>
<rect x="466.57" y="117" width="1.6" height="1.6" fill="#bcbd22"/>
<rect x="469.06" y="102.66" width="1.6" height="1.6" fill="#bcbd22"/>
<rect x="471.56" y="95.9" width="1.6" height="1.6" fill="#bcbd22"/>
<rect x="474.06" y="75.51" width="1.6" height="1.6" fill="#bcbd22"/>
<rect x="476.55" y="63.1" width="1.6" height="1.6" fill="#bcbd22"/>
<rect x="479.05" y="58.76" width="1.6" height="1.6" fill="#bcbd22"/>
<rect x="481.55" y="49.15" width="1.6" height="1.6" fill="#bcbd22"/>
<rect x="484.04" y="49.07" width="1.6" height="1.6" fill="#bcbd22"/>
<rect x="486.54" y="47.42" width="1.6" height="1.6" fill="#bcbd22"/>
<rect x="489.04" y="44.92" width="1.6" height="1.6" fill="#bcbd22"/>
<rect x="491.53" y="43.5" width="1.6" height="1.6" fill="#bcbd22"/>
<rect x="494.03" y="45.06" width="1.6" height="1.6" fill="#bcbd22"/>
<rect x="496.53" y="43.29" width="1.6" height="1.6" fill="#bcbd22"/>
<rect x="499.02" y="44.19" width="1.6" height="1.6" fill="#bcbd22"/>
<rect x="501.52" y="48.76" width="1.6" height="1.6" fill="#bcbd22"/>
<rect x="504.02" y="50.96" width="1.6" height="1.6" fill="#bcbd22"/>
<rect x="506.51" y="61.51" width="1.6" height="1.6" fill="#bcbd22"/>
<rect x="509.01" y="60.96" width="1.6" height="1.6" fill="#bcbd22"/>
<rect x="511.51" y="69.08" width="1.6" height="1.6" fill="#bcbd22"/>
<rect x="514" y="68.77" width="1.6" height="1.6" fill="#bcbd22"/>
<rect x="516.5" y="80.37" width="1.6" height="1.6" fill="#bcbd22"/>
<rect x="519" y="70.83" width="1.6" height="1.6" fill="#bcbd22"/>
<rect x="521.49" y="93.16" width="1.6" height="1.6" fill="#bcbd22"/>
<rect x="523.99" y="99.85" width="1.6" height="1.6" fill="#bcbd22"/>
<rect x="526.49" y="92.85" width="1.6" height="1.6" fill="#bcbd22"/>
<rect x="528.98" y="112.71" width="1.6" height="1.6" fill="#bcbd22"/>
<rect x="531.48" y="106.76" width="1.6" height="1.6" fill="#bcbd22"/>
<rect x="533.98" y="123.32" width="1.6" height="1.6" fill="#bcbd22"/>
<rect x="536.47" y="124.29" width="1.6" height="1.6" fill="#bcbd22"/>
<rect x="538.97" y="130.81" width="1.6" height="1.6" fill="#bcbd22"/>
<rect x="541.46" y="133.41" width="1.6" height="1.6" fill="#bcbd22"/>
<rect x="543.96" y="131.88" width="1.6" height="1.6" fill="#bcbd22"/>
<rect x="546.46" y="146.35" width="1.6" height="1.6" fill="#bcbd22"/>
<rect x="548.95" y="148.9" width="1.6" height="1.6" fill="#bcbd22"/>
<rect x="551.45" y="144.39" width="1.6" height="1.6" fill="#bcbd22"/>
<rect x="553.95" y="154.21" width="1.6" height="1.6" fill="#bcbd22"/>
<rect x="556.44" y="156.57" width="1.6" height="1.6" fill="#bcbd22"/>
<rect x="558.94" y="155.99" width="1.6" height="1.6" fill="#bcbd22"/>
<rect x="561.44" y="157.96" width="1.6" height="1.6" fill="#bcbd22"/>
<rect x="563.93" y="167.86" width="1.6" height="1.6" fill="#bcbd22"/>
<rect x="566.43" y="165.57" width="1.6" height="1.6" fill="#bcbd22"/>
<rect x="568.93" y="171.67" width="1.6" height="1.6" fill="#bcbd22"/>
<rect x="571.42" y="176.45" width="1.6" height="1.6" fill="#bcbd22"/>
<rect x="573.92" y="174.9" width="1.6" height="1.6" fill="#bcbd22"/>
<rect x="576.42" y="173.95" width="1.6" height="1.6" fill="#bcbd22"/>
<rect x="578.91" y="179.48" width="1.6" height="1.6" fill="#bcbd22"/>
<rect x="581.41" y="176.84" width="1.6" height="1.6" fill="#bcbd22"/>
<rect x="583.91" y="179.43" width="1.6" height="1.6" fill="#bcbd22"/>
<rect x="586.4" y="187.23" width="1.6" height="1.6" fill="#bcbd22"/>
<rect x="588.9" y="183.2" width="1.6" height="1.6" fill="#bcbd22"/>
<rect x="591.4" y="186.77" width="1.6" height="1.6" fill="#bcbd22"/>
<rect x="593.89" y="186.16" width="1.6" height="1.6" fill="#bcbd22"/>
<rect x="596.39" y="188.54" width="1.6" height="1.6" fill="#bcbd22"/>
<rect x="598.89" y="190.46" width="1.6" height="1.6" fill="#bcbd22"/>
<rect x="601.38" y="187.42" width="1.6" height="1.6" fill="#bcbd22"/>
<rect x="603.88" y="192.33" width="1.6" height="1.6" fill="#bcbd22"/>
<rect x="606.38" y="195" width="1.6" height="1.6" fill="#bcbd22"/>
<rect x="608.87" y="195.37" width="1.6" height="1.6" fill="#bcbd22"/>
<rect x="611.37" y="195.99" width="1.6" height="1.6" fill="#bcbd22"/>
<rect x="613.87" y="195.54" width="1.6" height="1.6" fill="#bcbd22"/>
<rect x="616.36" y="197.89" width="1.6" height="1.6" fill="#bcbd22"/>
<rect x="618.86" y="197.51" width="1.6" height="1.6" fill="#bcbd22"/>
<rect x="621.36" y="197.82" width="1.6" height="1.6" fill="#bcbd22"/>
<rect x="623.85" y="199.94" width="1.6" height="1.6" fill="#bcbd22"/>
<rect x="626.35" y="201.62" width="1.6" height="1.6" fill="#bcbd22"/>
<rect x="628.85" y="200.55" width="1.6" height="1.6" fill="#bcbd22"/>
<rect x="631.34" y="202.1" width="1.6" height="1.6" fill="#bcbd22"/>
<rect x="633.84" y="202.25" width="1.6" height="1.6" fill="#bcbd22"/>
<rect x="636.34" y="202.3" width="1.6" height="1.6" fill="#bcbd22"/>
<rect x="638.83" y="203.43" width="1.6" height="1.6" fill="#bcbd22"/>
<rect x="641.33" y="203.82" width="1.6" height="1.6" fill="#bcbd22"/>
<rect x="643.83" y="204.07" width="1.6" height="1.6" fill="#bcbd22"/>
<rect x="646.32" y="205.09" width="1.6" height="1.6" fill="#bcbd22"/>
<rect x="648.82" y="204.7" width="1.6" height="1.6" fill="#bcbd22"/>
<rect x="651.32" y="204.75" width="1.6" height="1.6" fill="#bcbd22"/>
<rect x="653.81" y="206.41" width="1.6" height="1.6" fill="#bcbd22"/>
<rect x="656.31" y="205.71" width="1.6" height="1.6" fill="#bcbd22"/>
<rect x="658.81" y="206.56" width="1.6" height="1.6" fill="#bcbd22"/>
<rect x="661.3" y="206.84" width="1.6" height="1.6" fill="#bcbd22"/>
<rect x="663.8" y="207.73" width="1.6" height="1.6" fill="#bcbd22"/>
<rect x="666.29" y="206.9" width="1.6" height="1.6" fill="#bcbd22"/>
<rect x="668.79" y="207.13" width="1.6" height="1.6" fill="#bcbd22"/>
<rect x="671.29" y="208.2" width="1.6" height="1.6" fill="#bcbd22"/>
<rect x="673.78" y="208.68" width="1.6" height="1.6" fill="#bcbd22"/>
<rect x="676.28" y="208.52" width="1.6" height="1.6" fill="#bcbd22"/>
<rect x="402.52" y="205.85" width="1.6" height="1.6" fill="#17becf"/>
<rect x="405.01" y="203.74" width="1.6" height="1.6" fill="#17becf"/>
<rect x="407.51" y="203.3" width="1.6" height="1.6" fill="#17becf"/>
<rect x="410.01" y="204.94" width="1.6" height="1.6" fill="#17becf"/>
<rect x="412.5" y="204.46" width="1.6" height="1.6" fill="#17becf"/>
<rect x="415" y="201.39" width="1.6" height="1.6" fill="#17becf"/>
<rect x="417.5" y="200.24" width="1.6" height="1.6" fill="#17becf"/>
<rect x="419.99" y="197.34" width="1.6" height="1.6" fill="#17becf"/>
<rect x="422.49" y="191.81" width="1.6" height="1.6" fill="#17becf"/>
<rect x="424.99" y="198.82" width="1.6" height="1.6" fill="#17becf"/>
<rect x="427.48" y="189.13" width="1.6" height="1.6" fill="#17becf"/>
<rect x="429.98" y="189.14" width="1.6" height="1.6" fill="#17becf"/>
<rect x="432.48" y="178.07" width="1.6" height="1.6" fill="#17becf"/>
<rect x="434.97" y="171.86" width="1.6" height="1.6" fill="#17becf"/>
<rect x="437.47" y="164.05" width="1.6" height="1.6" fill="#17becf"/>
<rect x="439.97" y="159.74" width="1.6" height="1.6" fill="#17becf"/>
<rect x="442.46" y="156.51" width="1.6" height="1.6" fill="#17becf"/>
<rect x="444.96" y="153.18" width="1.6" height="1.6" fill="#17becf"/>
<rect x="447.46" y="123.92" width="1.6" height="1.6" fill="#17becf"/>
<rect x="449.95" y="115.99" width="1.6" height="1.6" fill="#17becf"/>
<rect x="452.45" y="114.13" width="1.6" height="1.6" fill="#17becf"/>
<rect x="454.95" y="113.43" width="1.6" height="1.6" fill="#17becf"/>
<rect x="457.44" y="100.86" width="1.6" height="1.6" fill="#17becf"/>
<rect x="459.94" y="88.92" width="1.6" height="1.6" fill="#17becf"/>
<rect x="462.44" y="71.67" width="1.6" height="1.6" fill="#17becf"/>
<rect x="464.93" y="78.9" width="1.6" height="1.6" fill="#17becf"/>
<rect x="467.43" y="41.57" width="1.6" height="1.6" fill="#17becf"/>
<rect x="469.93" y="53.47" width="1.6" height="1.6" fill="#17becf"/>
<rect x="472.42" y="30.02" width="1.6" height="1.6" fill="#17becf"/>
<rect x="474.92" y="27.83" width="1.6" height="1.6" fill="#17becf"/>
<rect x="477.42" y="27.76" width="1.6" height="1.6" fill="#17becf"/>
<rect x="479.91" y="24.83" width="1.6" height="1.6" fill="#17becf"/>
<rect x="482.41" y="26.74" width="1.6" height="1.6" fill="#17becf"/>
<rect x="484.91" y="27.06" width="1.6" height="1.6" fill="#17becf"/>
<rect x="487.4" y="32.22" width="1.6" height="1.6" fill="#17becf"/>
<rect x="489.9" y="25.18" width="1.6" height="1.6" fill="#17becf"/>
<rect x="492.4" y="43.08" width="1.6" height="1.6" fill="#17becf"/>
<rect x="494.89" y="39.18" width="1.6" height="1.6" fill="#17becf"/>
<rect x="497.39" y="45.1" width="1.6" height="1.6" fill="#17becf"/>
<rect x="499.89" y="45.43" width="1.6" height="1.6" fill="#17becf"/>
<rect x="502.38" y="53.72" width="1.6" height="1.6" fill="#17becf"/>
<rect x="504.88" y="54.84" width="1.6" height="1.6" fill="#17becf"/>
<rect x="507.38" y="69.31" width="1.6" height="1.6" fill="#17becf"/>
<rect x="509.87" y="76.33" width="1.6" height="1.6" fill="#17becf"/>
<rect x="512.37" y="81.86" width="1.6" height="1.6" fill="#17becf"/>
<rect x="514.87" y="81.09" width="1.6" height="1.6" fill="#17becf"/>
<rect x="517.36" y="84.78" width="1.6" height="1.6" fill="#17becf"/>
<rect x="519.86" y="95.29" width="1.6" height="1.6" fill="#17becf"/>
<rect x="522.35" y="102.2" width="1.6" height="1.6" fill="#17becf"/>
<rect x="524.85" y="111.13" width="1.6" height="1.6" fill="#17becf"/>
<rect x="527.35" y="115.33" width="1.6" height="1.6" fill="#17becf"/>
<rect x="529.84" y="122.06" width="1.6" height="1.6" fill="#17becf"/>
<rect x="532.34" y="127.69" width="1.6" height="1.6" fill="#17becf"/>
<rect x="534.84" y="134.13" width="1.6" height="1.6" fill="#17becf"/>
<rect x="537.33" y="131.42" width="1.6" height="1.6" fill="#17becf"/>
<rect x="539.83" y="134.85" width="1.6" height="1.6" fill="#17becf"/>
<rect x="542.33" y="146.52" width="1.6" height="1.6" fill="#17becf"/>
<rect x="544.82" y="152.21" width="1.6" height="1.6" fill="#17becf"/>
<rect x="547.32" y="150.81" width="1.6" height="1.6" fill="#17becf"/>
<rect x="549.82" y="151.95" width="1.6" height="1.6" fill="#17becf"/>
<rect x="552.31" y="159.74" width="1.6" height="1.6" fill="#17becf"/>
<rect x="554.81" y="157.82" width="1.6" height="1.6" fill="#17becf"/>
<rect x="557.31" y="157.9" width="1.6" height="1.6" fill="#17becf"/>
<rect x="559.8" y="168.03" width="1.6" height="1.6" fill="#17becf"/>
<rect x="562.3" y="169.28" width="1.6" height="1.6" fill="#17becf"/>
<rect x="564.8" y="172.68" width="1.6" height="1.6" fill="#17becf"/>
<rect x="567.29" y="173.32" width="1.6" height="1.6" fill="#17becf"/>
<rect x="569.79" y="172.69" width="1.6" height="1.6" fill="#17becf"/>
<rect x="572.29" y="177.26" width="1.6" height="1.6" fill="#17becf"/>
<rect x="574.78" y="176.25" width="1.6" height="1.6" fill="#17becf"/>
<rect x="577.28" y="177.77" width="1.6" height="1.6" fill="#17becf"/>
<rect x="579.78" y="180.45" width="1.6" height="1.6" fill="#17becf"/>
<rect x="582.27" y="185.46" width="1.6" height="1.6" fill="#17becf"/>
<rect x="584.77" y="183.2" width="1.6" height="1.6" fill="#17becf"/>
<rect x="587.27" y="187.72" width="1.6" height="1.6" fill="#17becf"/>
<rect x="589.76" y="189.88" width="1.6" height="1.6" fill="#17becf"/>
<rect x="592.26" y="190.06" width="1.6" height="1.6" fill="#17becf"/>
<rect x="594.76" y="189.54" width="1.6" height="1.6" fill="#17becf"/>
<rect x="597.25" y="191.17" width="1.6" height="1.6" fill="#17becf"/>
<rect x="599.75" y="193.61" width="1.6" height="1.6" fill="#17becf"/>
<rect x="602.25" y="195.18" width="1.6" height="1.6" fill="#17becf"/>
<rect x="604.74" y="196.84" width="1.6" height="1.6" fill="#17becf"/>
<rect x="607.24" y="195.36" width="1.6" height="1.6" fill="#17becf"/>
<rect x="609.74" y="196.39" width="1.6" height="1.6" fill="#17becf"/>
<rect x="612.23" y="197.65" width="1.6" height="1.6" fill="#17becf"/>
<rect x="614.73" y="200.64" width="1.6" height="1.6" fill="#17becf"/>
<rect x="617.23" y="200.18" width="1.6" height="1.6" fill="#17becf"/>
<rect x="619.72" y="201.21" width="1.6" height="1.6" fill="#17becf"/>
<rect x="622.22" y="203.33" width="1.6" height="1.6" fill="#17becf"/>
<rect x="624.72" y="202.5" width="1.6" height="1.6" fill="#17becf"/>
<rect x="627.21" y="203.32" width="1.6" height="1.6" fill="#17becf"/>
<rect x="629.71" y="203.65" width="1.6" height="1.6" fill="#17becf"/>
<rect x="632.21" y="204.61" width="1.6" height="1.6" fill="#17becf"/>
<rect x="634.7" y="205.08" width="1.6" height="1.6" fill="#17becf"/>
<rect x="637.2" y="205.92" width="1.6" height="1.6" fill="#17becf"/>
<rect x="639.7" y="206.2" width="1.6" height="1.6" fill="#17becf"/>
<rect x="642.19" y="206.44" width="1.6" height="1.6" fill="#17becf"/>
<rect x="644.69" y="206.6" width="1.6" height="1.6" fill="#17becf"/>
<rect x="647.18" y="206.86" width="1.6" height="1.6" fill="#17becf"/>
<rect x="649.68" y="207.61" width="1.6" height="1.6" fill="#17becf"/>
<rect x="652.18" y="208.23" width="1.6" height="1.6" fill="#17becf"/>
<rect x="654.67" y="208.11" width="1.6" height="1.6" fill="#17becf"/>
<rect x="657.17" y="207.97" width="1.6" height="1.6" fill="#17becf"/>
<rect x="659.67" y="208.33" width="1.6" height="1.6" fill="#17becf"/>
<rect x="662.16" y="208.96" width="1.6" height="1.6" fill="#17becf"/>
<rect x="664.66" y="209.19" width="1.6" height="1.6" fill="#17becf"/>
<rect x="667.16" y="209.17" width="1.6" height="1.6" fill="#17becf"/>
<rect x="669.65" y="209.21" width="1.6" height="1.6" fill="#17becf"/>
<rect x="672.15" y="209.03" width="1.6" height="1.6" fill="#17becf"/>
<rect x="674.65" y="208.71" width="1.6" height="1.6" fill="#17becf"/>
<rect x="677.14" y="209.6" width="1.6" height="1.6" fill="#17becf"/>
<path d="M401.9 212.9 L402.83 212.9 L403.76 212.9 L404.68 212.9 L405.61 212.9 L406.54 212.9 L407.47 212.9 L408.39 212.9 L409.32 212.9 L410.25 212.9 L411.18 212.9 L412.11 212.9 L413.03 212.9 L413.96 212.9 L414.89 212.9 L415.82 212.9 L416.74 212.9 L417.67 212.9 L418.6 212.9 L419.53 212.9 L420.46 212.9 L421.38 212.9 L422.31 212.9 L423.24 212.9 L424.17 212.9 L425.09 212.9 L426.02 212.9 L426.95 212.9 L427.88 212.9 L428.81 212.9 L429.73 212.9 L430.66 212.9 L431.59 212.9 L432.52 212.9 L433.44 212.9 L434.37 212.9 L435.3 212.9 L436.23 212.9 L437.15 212.9 L438.08 212.9 L439.01 212.9 L439.94 212.9 L440.87 212.9 L441.79 212.9 L442.72 212.9 L443.65 212.9 L444.58 212.9 L445.5 212.9 L446.43 212.9 L447.36 212.9 L448.29 212.9 L449.22 212.9 L450.14 212.9 L451.07 212.9 L452 212.9 L452.93 212.9 L453.85 212.9 L454.78 212.9 L455.71 212.9 L456.64 212.9 L457.57 212.9 L458.49 212.9 L459.42 212.9 L460.35 212.9 L461.28 212.9 L462.2 212.9 L463.13 212.9 L464.06 212.9 L464.99 212.9 L465.92 212.9 L466.84 212.9 L467.77 212.9 L468.7 212.9 L469.63 212.9 L470.55 212.9 L471.48 212.9 L472.41 212.9 L473.34 212.9 L474.27 212.9 L475.19 212.9 L476.12 212.9 L477.05 212.9 L477.98 212.9 L478.9 212.9 L479.83 212.9 L480.76 212.9 L481.69 212.9 L482.62 212.9 L483.54 212.9 L484.47 212.9 L485.4 212.9 L486.33 212.9 L487.25 212.9 L488.18 212.9 L489.11 212.9 L490.04 212.9 L490.96 212.9 L491.89 212.9 L492.82 212.9 L493.75 212.9 L494.68 212.9 L495.6 212.9 L496.53 212.9 L497.46 212.9 L498.39 212.9 L499.31 212.9 L500.24 212.9 L501.17 212.9 L502.1 212.9 L503.03 212.9 L503.95 212.9 L504.88 212.9 L505.81 212.9 L506.74 212.9 L507.66 212.9 L508.59 212.9 L509.52 212.9 L510.45 212.9 L511.38 212.9 L512.3 212.9 L513.23 212.9 L514.16 212.9 L515.09 212.9 L516.01 212.9 L516.94 212.9 L517.87 212.9 L518.8 212.9 L519.73 212.9 L520.65 212.9 L521.58 212.9 L522.51 212.9 L523.44 212.9 L524.36 212.9 L525.29 212.9 L526.22 212.9 L527.15 212.9 L528.08 212.9 L529 212.9 L529.93 212.9 L530.86 212.9 L531.79 212.9 L532.71 212.9 L533.64 212.9 L534.57 212.9 L535.5 212.9 L536.43 212.9 L537.35 212.9 L538.28 212.9 L539.21 212.9 L540.14 212.9 L541.06 212.9 L541.99 212.9 L542.92 212.9 L543.85 212.9 L544.77 212.9 L545.7 212.9 L546.63 212.9 L547.56 212.9 L548.49 212.9 L549.41 212.9 L550.34 212.9 L551.27 212.9 L552.2 212.9 L553.12 212.9 L554.05 212.9 L554.98 212.9 L555.91 212.9 L556.84 212.9 L557.76 212.9 L558.69 212.9 L559.62 212.9 L560.55 212.9 L561.47 212.9 L562.4 212.9 L563.33 212.9 L564.26 212.9 L565.19 212.9 L566.11 212.9 L567.04 212.9 L567.97 212.9 L568.9 212.9 L569.82 212.9 L570.75 212.9 L571.68 212.9 L572.61 212.9 L573.54 212.9 L574.46 212.9 L575.39 212.9 L576.32 212.9 L577.25 212.9 L578.17 212.9 L579.1 212.9 L580.03 212.9 L580.96 212.9 L581.89 212.9 L582.81 212.9 L583.74 212.9 L584.67 212.9 L585.6 212.9 L586.52 212.9 L587.45 212.9 L588.38 212.9 L589.31 212.9 L590.24 212.9 L591.16 212.9 L592.09 212.9 L593.02 212.9 L593.95 212.9 L594.87 212.9 L595.8 212.9 L596.73 212.9 L597.66 212.9 L598.58 212.9 L599.51 212.9 L600.44 212.9 L601.37 212.9 L602.3 212.9 L603.22 212.9 L604.15 212.9 L605.08 212.9 L606.01 212.9 L606.93 212.9 L607.86 212.9 L608.79 212.9 L609.72 212.9 L610.65 212.9 L611.57 212.9 L612.5 212.9 L613.43 212.9 L614.36 212.9 L615.28 212.9 L616.21 212.9 L617.14 212.9 L618.07 212.9 L619 212.9 L619.92 212.9 L620.85 212.9 L621.78 212.9 L622.71 212.9 L623.63 212.9 L624.56 212.9 L625.49 212.9 L626.42 212.9 L627.35 212.9 L628.27 212.9 L629.2 212.9 L630.13 212.9 L631.06 212.9 L631.98 212.9 L632.91 212.9 L633.84 212.9 L634.77 212.9 L635.7 212.9 L636.62 212.9 L637.55 212.9 L638.48 212.9 L639.41 212.9 L640.33 212.9 L641.26 212.9 L642.19 212.9 L643.12 212.9 L644.05 212.9 L644.97 212.9 L645.9 212.9 L646.83 212.9 L647.76 212.9 L648.68 212.9 L649.61 212.9 L650.54 212.9 L651.47 212.9 L652.39 212.9 L653.32 212.9 L654.25 212.9 L655.18 212.9 L656.11 212.9 L657.03 212.9 L657.96 212.9 L658.89 212.9 L659.82 212.9 L660.74 212.9 L661.67 212.9 L662.6 212.9 L663.53 212.9 L664.46 212.9 L665.38 212.9 L666.31 212.9 L667.24 212.9 L668.17 212.9 L669.09 212.9 L670.02 212.9 L670.95 212.9 L671.88 212.9 L672.81 212.9 L673.73 212.9 L674.66 212.9 L675.59 212.9 L676.52 212.9 L677.44 212.9 L678.37 212.9 L679.3 212.9" fill="none" stroke="#34719c" stroke-width="1.0" stroke-linejoin="round"/>
<path d="M401.9 212.4 L402.83 212.4 L403.76 212.4 L404.68 212.4 L405.61 212.4 L406.54 212.4 L407.47 212.4 L408.39 212.4 L409.32 212.4 L410.25 212.4 L411.18 212.4 L412.11 212.4 L413.03 212.4 L413.96 212.4 L414.89 212.4 L415.82 212.4 L416.74 212.4 L417.67 212.4 L418.6 212.4 L419.53 212.4 L420.46 212.4 L421.38 212.4 L422.31 212.4 L423.24 212.4 L424.17 212.4 L425.09 212.4 L426.02 212.4 L426.95 212.4 L427.88 212.4 L428.81 212.4 L429.73 212.4 L430.66 212.4 L431.59 212.4 L432.52 212.4 L433.44 212.4 L434.37 212.4 L435.3 212.4 L436.23 212.4 L437.15 212.4 L438.08 212.4 L439.01 212.4 L439.94 212.4 L440.87 212.4 L441.79 212.4 L442.72 212.4 L443.65 212.4 L444.58 212.4 L445.5 212.4 L446.43 212.4 L447.36 212.4 L448.29 212.4 L449.22 212.4 L450.14 212.4 L451.07 212.4 L452 212.4 L452.93 212.4 L453.85 212.4 L454.78 212.4 L455.71 212.4 L456.64 212.4 L457.57 212.4 L458.49 212.4 L459.42 212.4 L460.35 212.4 L461.28 212.4 L462.2 212.4 L463.13 212.4 L464.06 212.4 L464.99 212.4 L465.92 212.4 L466.84 212.4 L467.77 212.4 L468.7 212.4 L469.63 212.4 L470.55 212.4 L471.48 212.4 L472.41 212.4 L473.34 212.4 L474.27 212.4 L475.19 212.4 L476.12 212.4 L477.05 212.4 L477.98 212.4 L478.9 212.4 L479.83 212.4 L480.76 212.4 L481.69 212.4 L482.62 212.4 L483.54 212.4 L484.47 212.4 L485.4 212.4 L486.33 212.4 L487.25 212.4 L488.18 212.4 L489.11 212.4 L490.04 212.4 L490.96 212.4 L491.89 212.4 L492.82 212.4 L493.75 212.4 L494.68 212.4 L495.6 212.4 L496.53 212.4 L497.46 212.4 L498.39 212.4 L499.31 212.4 L500.24 212.4 L501.17 212.4 L502.1 212.4 L503.03 212.4 L503.95 212.4 L504.88 212.4 L505.81 212.4 L506.74 212.4 L507.66 212.4 L508.59 212.4 L509.52 212.4 L510.45 212.4 L511.38 212.4 L512.3 212.4 L513.23 212.4 L514.16 212.4 L515.09 212.4 L516.01 212.4 L516.94 212.4 L517.87 212.4 L518.8 212.4 L519.73 212.4 L520.65 212.4 L521.58 212.4 L522.51 212.4 L523.44 212.4 L524.36 212.4 L525.29 212.4 L526.22 212.4 L527.15 212.4 L528.08 212.4 L529 212.4 L529.93 212.4 L530.86 212.4 L531.79 212.4 L532.71 212.4 L533.64 212.4 L534.57 212.4 L535.5 212.4 L536.43 212.4 L537.35 212.4 L538.28 212.4 L539.21 212.4 L540.14 212.4 L541.06 212.4 L541.99 212.4 L542.92 212.4 L543.85 212.4 L544.77 212.4 L545.7 212.4 L546.63 212.4 L547.56 212.4 L548.49 212.4 L549.41 212.4 L550.34 212.4 L551.27 212.4 L552.2 212.4 L553.12 212.4 L554.05 212.4 L554.98 212.4 L555.91 212.4 L556.84 212.4 L557.76 212.4 L558.69 212.4 L559.62 212.4 L560.55 212.4 L561.47 212.4 L562.4 212.4 L563.33 212.4 L564.26 212.4 L565.19 212.4 L566.11 212.4 L567.04 212.4 L567.97 212.4 L568.9 212.4 L569.82 212.4 L570.75 212.4 L571.68 212.4 L572.61 212.4 L573.54 212.4 L574.46 212.4 L575.39 212.4 L576.32 212.4 L577.25 212.4 L578.17 212.4 L579.1 212.4 L580.03 212.4 L580.96 212.4 L581.89 212.4 L582.81 212.4 L583.74 212.4 L584.67 212.4 L585.6 212.4 L586.52 212.4 L587.45 212.4 L588.38 212.4 L589.31 212.4 L590.24 212.4 L591.16 212.4 L592.09 212.4 L593.02 212.4 L593.95 212.4 L594.87 212.4 L595.8 212.4 L596.73 212.4 L597.66 212.4 L598.58 212.4 L599.51 212.4 L600.44 212.4 L601.37 212.4 L602.3 212.4 L603.22 212.4 L604.15 212.4 L605.08 212.4 L606.01 212.4 L606.93 212.4 L607.86 212.4 L608.79 212.4 L609.72 212.4 L610.65 212.4 L611.57 212.4 L612.5 212.4 L613.43 212.4 L614.36 212.4 L615.28 212.4 L616.21 212.4 L617.14 212.4 L618.07 212.4 L619 212.4 L619.92 212.4 L620.85 212.4 L621.78 212.4 L622.71 212.4 L623.63 212.4 L624.56 212.4 L625.49 212.4 L626.42 212.4 L627.35 212.4 L628.27 212.4 L629.2 212.4 L630.13 212.4 L631.06 212.4 L631.98 212.4 L632.91 212.4 L633.84 212.4 L634.77 212.4 L635.7 212.4 L636.62 212.4 L637.55 212.4 L638.48 212.4 L639.41 212.4 L640.33 212.4 L641.26 212.4 L642.19 212.4 L643.12 212.4 L644.05 212.4 L644.97 212.4 L645.9 212.4 L646.83 212.4 L647.76 212.4 L648.68 212.4 L649.61 212.4 L650.54 212.4 L651.47 212.4 L652.39 212.4 L653.32 212.4 L654.25 212.4 L655.18 212.4 L656.11 212.4 L657.03 212.4 L657.96 212.4 L658.89 212.4 L659.82 212.4 L660.74 212.4 L661.67 212.4 L662.6 212.4 L663.53 212.4 L664.46 212.4 L665.38 212.4 L666.31 212.4 L667.24 212.4 L668.17 212.4 L669.09 212.4 L670.02 212.4 L670.95 212.4 L671.88 212.4 L672.81 212.4 L673.73 212.4 L674.66 212.4 L675.59 212.4 L676.52 212.4 L677.44 212.4 L678.37 212.4 L679.3 212.4" fill="none" stroke="#e08738" stroke-width="1.0" stroke-linejoin="round"/>
<path d="M401.9 211.8 L402.83 211.8 L403.76 211.8 L404.68 211.8 L405.61 211.8 L406.54 211.8 L407.47 211.8 L408.39 211.8 L409.32 211.8 L410.25 211.8 L411.18 211.8 L412.11 211.8 L413.03 211.8 L413.96 211.8 L414.89 211.8 L415.82 211.8 L416.74 211.8 L417.67 211.8 L418.6 211.8 L419.53 211.8 L420.46 211.8 L421.38 211.8 L422.31 211.8 L423.24 211.8 L424.17 211.8 L425.09 211.8 L426.02 211.8 L426.95 211.8 L427.88 211.8 L428.81 211.8 L429.73 211.8 L430.66 211.8 L431.59 211.8 L432.52 211.8 L433.44 211.8 L434.37 211.8 L435.3 211.8 L436.23 211.8 L437.15 211.8 L438.08 211.8 L439.01 211.8 L439.94 211.8 L440.87 211.8 L441.79 211.8 L442.72 211.8 L443.65 211.8 L444.58 211.8 L445.5 211.8 L446.43 211.8 L447.36 211.8 L448.29 211.8 L449.22 211.8 L450.14 211.8 L451.07 211.8 L452 211.8 L452.93 211.8 L453.85 211.8 L454.78 211.8 L455.71 211.8 L456.64 211.8 L457.57 211.8 L458.49 211.8 L459.42 211.8 L460.35 211.8 L461.28 211.8 L462.2 211.8 L463.13 211.8 L464.06 211.8 L464.99 211.8 L465.92 211.8 L466.84 211.8 L467.77 211.8 L468.7 211.8 L469.63 211.8 L470.55 211.8 L471.48 211.8 L472.41 211.8 L473.34 211.8 L474.27 211.8 L475.19 211.8 L476.12 211.8 L477.05 211.8 L477.98 211.8 L478.9 211.8 L479.83 211.8 L480.76 211.8 L481.69 211.8 L482.62 211.8 L483.54 211.8 L484.47 211.8 L485.4 211.8 L486.33 211.8 L487.25 211.8 L488.18 211.8 L489.11 211.8 L490.04 211.8 L490.96 211.8 L491.89 211.8 L492.82 211.8 L493.75 211.8 L494.68 211.8 L495.6 211.8 L496.53 211.8 L497.46 211.8 L498.39 211.8 L499.31 211.8 L500.24 211.8 L501.17 211.8 L502.1 211.8 L503.03 211.8 L503.95 211.8 L504.88 211.8 L505.81 211.8 L506.74 211.8 L507.66 211.8 L508.59 211.8 L509.52 211.8 L510.45 211.8 L511.38 211.8 L512.3 211.8 L513.23 211.8 L514.16 211.8 L515.09 211.8 L516.01 211.8 L516.94 211.8 L517.87 211.8 L518.8 211.8 L519.73 211.8 L520.65 211.8 L521.58 211.8 L522.51 211.8 L523.44 211.8 L524.36 211.8 L525.29 211.8 L526.22 211.8 L527.15 211.8 L528.08 211.8 L529 211.8 L529.93 211.8 L530.86 211.8 L531.79 211.8 L532.71 211.8 L533.64 211.8 L534.57 211.8 L535.5 211.8 L536.43 211.8 L537.35 211.8 L538.28 211.8 L539.21 211.8 L540.14 211.8 L541.06 211.8 L541.99 211.8 L542.92 211.8 L543.85 211.8 L544.77 211.8 L545.7 211.8 L546.63 211.8 L547.56 211.8 L548.49 211.8 L549.41 211.8 L550.34 211.8 L551.27 211.8 L552.2 211.8 L553.12 211.8 L554.05 211.8 L554.98 211.8 L555.91 211.8 L556.84 211.8 L557.76 211.8 L558.69 211.8 L559.62 211.8 L560.55 211.8 L561.47 211.8 L562.4 211.8 L563.33 211.8 L564.26 211.8 L565.19 211.8 L566.11 211.8 L567.04 211.8 L567.97 211.8 L568.9 211.8 L569.82 211.8 L570.75 211.8 L571.68 211.8 L572.61 211.8 L573.54 211.8 L574.46 211.8 L575.39 211.8 L576.32 211.8 L577.25 211.8 L578.17 211.8 L579.1 211.8 L580.03 211.8 L580.96 211.8 L581.89 211.8 L582.81 211.8 L583.74 211.8 L584.67 211.8 L585.6 211.8 L586.52 211.8 L587.45 211.8 L588.38 211.8 L589.31 211.8 L590.24 211.8 L591.16 211.8 L592.09 211.8 L593.02 211.8 L593.95 211.8 L594.87 211.8 L595.8 211.8 L596.73 211.8 L597.66 211.8 L598.58 211.8 L599.51 211.8 L600.44 211.8 L601.37 211.8 L602.3 211.8 L603.22 211.8 L604.15 211.8 L605.08 211.8 L606.01 211.8 L606.93 211.8 L607.86 211.8 L608.79 211.8 L609.72 211.8 L610.65 211.8 L611.57 211.8 L612.5 211.8 L613.43 211.8 L614.36 211.8 L615.28 211.8 L616.21 211.8 L617.14 211.8 L618.07 211.8 L619 211.8 L619.92 211.8 L620.85 211.8 L621.78 211.8 L622.71 211.8 L623.63 211.8 L624.56 211.8 L625.49 211.8 L626.42 211.8 L627.35 211.8 L628.27 211.8 L629.2 211.8 L630.13 211.8 L631.06 211.8 L631.98 211.8 L632.91 211.8 L633.84 211.8 L634.77 211.8 L635.7 211.8 L636.62 211.8 L637.55 211.8 L638.48 211.8 L639.41 211.8 L640.33 211.8 L641.26 211.8 L642.19 211.8 L643.12 211.8 L644.05 211.8 L644.97 211.8 L645.9 211.8 L646.83 211.8 L647.76 211.8 L648.68 211.8 L649.61 211.8 L650.54 211.8 L651.47 211.8 L652.39 211.8 L653.32 211.8 L654.25 211.8 L655.18 211.8 L656.11 211.8 L657.03 211.8 L657.96 211.8 L658.89 211.8 L659.82 211.8 L660.74 211.8 L661.67 211.8 L662.6 211.8 L663.53 211.8 L664.46 211.8 L665.38 211.8 L666.31 211.8 L667.24 211.8 L668.17 211.8 L669.09 211.8 L670.02 211.8 L670.95 211.8 L671.88 211.8 L672.81 211.8 L673.73 211.8 L674.66 211.8 L675.59 211.8 L676.52 211.8 L677.44 211.8 L678.37 211.8 L679.3 211.8" fill="none" stroke="#409240" stroke-width="1.0" stroke-linejoin="round"/>
<path d="M401.9 211.73 L402.83 211.74 L403.76 211.75 L404.68 211.76 L405.61 211.77 L406.54 211.78 L407.47 211.78 L408.39 211.79 L409.32 211.79 L410.25 211.8 L411.18 211.8 L412.11 211.8 L413.03 211.8 L413.96 211.8 L414.89 211.8 L415.82 211.8 L416.74 211.79 L417.67 211.79 L418.6 211.78 L419.53 211.77 L420.46 211.76 L421.38 211.74 L422.31 211.73 L423.24 211.71 L424.17 211.69 L425.09 211.67 L426.02 211.65 L426.95 211.62 L427.88 211.6 L428.81 211.57 L429.73 211.53 L430.66 211.5 L431.59 211.46 L432.52 211.42 L433.44 211.38 L434.37 211.33 L435.3 211.29 L436.23 211.24 L437.15 211.18 L438.08 211.13 L439.01 211.07 L439.94 211 L440.87 210.94 L441.79 210.87 L442.72 210.8 L443.65 210.72 L444.58 210.64 L445.5 210.56 L446.43 210.47 L447.36 210.39 L448.29 210.29 L449.22 210.19 L450.14 210.09 L451.07 209.99 L452 209.88 L452.93 209.77 L453.85 209.65 L454.78 209.53 L455.71 209.4 L456.64 209.28 L457.57 209.14 L458.49 209 L459.42 208.86 L460.35 208.71 L461.28 208.56 L462.2 208.4 L463.13 208.24 L464.06 208.07 L464.99 207.9 L465.92 207.73 L466.84 207.54 L467.77 207.36 L468.7 207.16 L469.63 206.97 L470.55 206.76 L471.48 206.55 L472.41 206.34 L473.34 206.12 L474.27 205.89 L475.19 205.66 L476.12 205.42 L477.05 205.18 L477.98 204.93 L478.9 204.67 L479.83 204.41 L480.76 204.14 L481.69 203.86 L482.62 203.58 L483.54 203.29 L484.47 202.99 L485.4 202.69 L486.33 202.38 L487.25 202.07 L488.18 201.75 L489.11 201.42 L490.04 201.1 L490.96 200.76 L491.89 200.42 L492.82 200.08 L493.75 199.73 L494.68 199.39 L495.6 199.03 L496.53 198.68 L497.46 198.32 L498.39 197.96 L499.31 197.6 L500.24 197.23 L501.17 196.87 L502.1 196.5 L503.03 196.13 L503.95 195.77 L504.88 195.4 L505.81 195.03 L506.74 194.66 L507.66 194.29 L508.59 193.93 L509.52 193.56 L510.45 193.2 L511.38 192.84 L512.3 192.48 L513.23 192.13 L514.16 191.77 L515.09 191.42 L516.01 191.08 L516.94 190.73 L517.87 190.39 L518.8 190.06 L519.73 189.73 L520.65 189.4 L521.58 189.08 L522.51 188.77 L523.44 188.46 L524.36 188.16 L525.29 187.87 L526.22 187.58 L527.15 187.3 L528.08 187.02 L529 186.76 L529.93 186.5 L530.86 186.25 L531.79 186.01 L532.71 185.77 L533.64 185.55 L534.57 185.34 L535.5 185.13 L536.43 184.94 L537.35 184.75 L538.28 184.58 L539.21 184.42 L540.14 184.27 L541.06 184.13 L541.99 184 L542.92 183.88 L543.85 183.78 L544.77 183.69 L545.7 183.61 L546.63 183.54 L547.56 183.48 L548.49 183.44 L549.41 183.41 L550.34 183.39 L551.27 183.38 L552.2 183.38 L553.12 183.39 L554.05 183.41 L554.98 183.45 L555.91 183.49 L556.84 183.54 L557.76 183.6 L558.69 183.67 L559.62 183.75 L560.55 183.84 L561.47 183.94 L562.4 184.04 L563.33 184.16 L564.26 184.28 L565.19 184.41 L566.11 184.55 L567.04 184.69 L567.97 184.84 L568.9 185 L569.82 185.17 L570.75 185.34 L571.68 185.52 L572.61 185.71 L573.54 185.9 L574.46 186.1 L575.39 186.3 L576.32 186.51 L577.25 186.72 L578.17 186.94 L579.1 187.17 L580.03 187.4 L580.96 187.63 L581.89 187.87 L582.81 188.11 L583.74 188.36 L584.67 188.61 L585.6 188.86 L586.52 189.11 L587.45 189.37 L588.38 189.64 L589.31 189.9 L590.24 190.17 L591.16 190.44 L592.09 190.71 L593.02 190.99 L593.95 191.27 L594.87 191.54 L595.8 191.82 L596.73 192.11 L597.66 192.39 L598.58 192.67 L599.51 192.95 L600.44 193.24 L601.37 193.53 L602.3 193.81 L603.22 194.1 L604.15 194.38 L605.08 194.67 L606.01 194.96 L606.93 195.25 L607.86 195.53 L608.79 195.82 L609.72 196.11 L610.65 196.39 L611.57 196.68 L612.5 196.96 L613.43 197.24 L614.36 197.52 L615.28 197.81 L616.21 198.09 L617.14 198.36 L618.07 198.64 L619 198.92 L619.92 199.19 L620.85 199.46 L621.78 199.73 L622.71 200 L623.63 200.27 L624.56 200.53 L625.49 200.79 L626.42 201.05 L627.35 201.3 L628.27 201.56 L629.2 201.81 L630.13 202.05 L631.06 202.3 L631.98 202.54 L632.91 202.78 L633.84 203.01 L634.77 203.24 L635.7 203.47 L636.62 203.69 L637.55 203.91 L638.48 204.13 L639.41 204.34 L640.33 204.55 L641.26 204.75 L642.19 204.95 L643.12 205.14 L644.05 205.33 L644.97 205.52 L645.9 205.7 L646.83 205.87 L647.76 206.04 L648.68 206.21 L649.61 206.37 L650.54 206.52 L651.47 206.67 L652.39 206.82 L653.32 206.95 L654.25 207.09 L655.18 207.21 L656.11 207.34 L657.03 207.45 L657.96 207.56 L658.89 207.67 L659.82 207.76 L660.74 207.85 L661.67 207.94 L662.6 208.02 L663.53 208.09 L664.46 208.15 L665.38 208.21 L666.31 208.27 L667.24 208.31 L668.17 208.35 L669.09 208.38 L670.02 208.41 L670.95 208.42 L671.88 208.43 L672.81 208.44 L673.73 208.43 L674.66 208.42 L675.59 208.4 L676.52 208.38 L677.44 208.34 L678.37 208.39 L679.3 208.45" fill="none" stroke="#b13737" stroke-width="1.0" stroke-linejoin="round"/>
<path d="M401.9 211.19 L402.83 211.12 L403.76 211.06 L404.68 210.99 L405.61 210.93 L406.54 210.87 L407.47 210.81 L408.39 210.75 L409.32 210.69 L410.25 210.62 L411.18 210.56 L412.11 210.5 L413.03 210.44 L413.96 210.37 L414.89 210.31 L415.82 210.24 L416.74 210.18 L417.67 210.11 L418.6 210.04 L419.53 209.97 L420.46 209.89 L421.38 209.82 L422.31 209.74 L423.24 209.66 L424.17 209.57 L425.09 209.49 L426.02 209.4 L426.95 209.3 L427.88 209.21 L428.81 209.11 L429.73 209 L430.66 208.9 L431.59 208.79 L432.52 208.67 L433.44 208.55 L434.37 208.43 L435.3 208.3 L436.23 208.17 L437.15 208.03 L438.08 207.88 L439.01 207.73 L439.94 207.58 L440.87 207.42 L441.79 207.25 L442.72 207.08 L443.65 206.9 L444.58 206.71 L445.5 206.51 L446.43 206.31 L447.36 206.1 L448.29 205.88 L449.22 205.66 L450.14 205.42 L451.07 205.18 L452 204.92 L452.93 204.66 L453.85 204.38 L454.78 204.1 L455.71 203.8 L456.64 203.5 L457.57 203.18 L458.49 202.85 L459.42 202.5 L460.35 202.14 L461.28 201.77 L462.2 201.38 L463.13 200.98 L464.06 200.56 L464.99 200.13 L465.92 199.68 L466.84 199.22 L467.77 198.74 L468.7 198.24 L469.63 197.72 L470.55 197.18 L471.48 196.63 L472.41 196.06 L473.34 195.46 L474.27 194.85 L475.19 194.21 L476.12 193.56 L477.05 192.88 L477.98 192.18 L478.9 191.45 L479.83 190.7 L480.76 189.92 L481.69 189.12 L482.62 188.29 L483.54 187.43 L484.47 186.54 L485.4 185.61 L486.33 184.66 L487.25 183.67 L488.18 182.65 L489.11 181.59 L490.04 180.49 L490.96 179.35 L491.89 178.16 L492.82 176.93 L493.75 175.66 L494.68 174.33 L495.6 172.94 L496.53 171.5 L497.46 170 L498.39 168.42 L499.31 166.78 L500.24 165.07 L501.17 163.3 L502.1 161.5 L503.03 159.7 L503.95 157.92 L504.88 156.17 L505.81 154.5 L506.74 152.89 L507.66 151.38 L508.59 149.96 L509.52 148.64 L510.45 147.41 L511.38 146.28 L512.3 145.23 L513.23 144.28 L514.16 143.4 L515.09 142.6 L516.01 141.87 L516.94 141.2 L517.87 140.59 L518.8 140.03 L519.73 139.52 L520.65 139.06 L521.58 138.63 L522.51 138.26 L523.44 137.92 L524.36 137.63 L525.29 137.37 L526.22 137.16 L527.15 137 L528.08 136.88 L529 136.8 L529.93 136.77 L530.86 136.8 L531.79 136.88 L532.71 137.03 L533.64 137.24 L534.57 137.51 L535.5 137.84 L536.43 138.24 L537.35 138.7 L538.28 139.22 L539.21 139.79 L540.14 140.43 L541.06 141.12 L541.99 141.85 L542.92 142.63 L543.85 143.44 L544.77 144.28 L545.7 145.15 L546.63 146.03 L547.56 146.92 L548.49 147.81 L549.41 148.69 L550.34 149.57 L551.27 150.44 L552.2 151.31 L553.12 152.17 L554.05 153.02 L554.98 153.87 L555.91 154.71 L556.84 155.55 L557.76 156.38 L558.69 157.2 L559.62 158.02 L560.55 158.83 L561.47 159.64 L562.4 160.43 L563.33 161.23 L564.26 162.01 L565.19 162.79 L566.11 163.56 L567.04 164.33 L567.97 165.09 L568.9 165.84 L569.82 166.59 L570.75 167.33 L571.68 168.06 L572.61 168.78 L573.54 169.5 L574.46 170.22 L575.39 170.92 L576.32 171.62 L577.25 172.31 L578.17 173 L579.1 173.68 L580.03 174.35 L580.96 175.01 L581.89 175.67 L582.81 176.32 L583.74 176.97 L584.67 177.61 L585.6 178.24 L586.52 178.86 L587.45 179.48 L588.38 180.09 L589.31 180.69 L590.24 181.29 L591.16 181.88 L592.09 182.46 L593.02 183.03 L593.95 183.6 L594.87 184.16 L595.8 184.72 L596.73 185.27 L597.66 185.81 L598.58 186.34 L599.51 186.87 L600.44 187.39 L601.37 187.9 L602.3 188.41 L603.22 188.91 L604.15 189.4 L605.08 189.88 L606.01 190.36 L606.93 190.83 L607.86 191.3 L608.79 191.76 L609.72 192.21 L610.65 192.65 L611.57 193.09 L612.5 193.52 L613.43 193.94 L614.36 194.36 L615.28 194.77 L616.21 195.17 L617.14 195.57 L618.07 195.96 L619 196.34 L619.92 196.72 L620.85 197.09 L621.78 197.45 L622.71 197.8 L623.63 198.15 L624.56 198.49 L625.49 198.83 L626.42 199.16 L627.35 199.48 L628.27 199.8 L629.2 200.11 L630.13 200.41 L631.06 200.7 L631.98 200.99 L632.91 201.27 L633.84 201.55 L634.77 201.82 L635.7 202.08 L636.62 202.34 L637.55 202.59 L638.48 202.83 L639.41 203.07 L640.33 203.3 L641.26 203.52 L642.19 203.74 L643.12 203.95 L644.05 204.15 L644.97 204.35 L645.9 204.54 L646.83 204.73 L647.76 204.9 L648.68 205.08 L649.61 205.24 L650.54 205.4 L651.47 205.55 L652.39 205.7 L653.32 205.84 L654.25 205.98 L655.18 206.1 L656.11 206.23 L657.03 206.34 L657.96 206.45 L658.89 206.56 L659.82 206.65 L660.74 206.74 L661.67 206.83 L662.6 206.91 L663.53 206.98 L664.46 207.05 L665.38 207.11 L666.31 207.16 L667.24 207.21 L668.17 207.25 L669.09 207.29 L670.02 207.32 L670.95 207.34 L671.88 207.36 L672.81 207.37 L673.73 207.38 L674.66 207.38 L675.59 207.38 L676.52 207.37 L677.44 207.35 L678.37 207.33 L679.3 207.4" fill="none" stroke="#976abe" stroke-width="1.0" stroke-linejoin="round"/>
<path d="M401.9 210.02 L402.83 210.01 L403.76 210.09 L404.68 210.15 L405.61 210.19 L406.54 210.22 L407.47 210.23 L408.39 210.23 L409.32 210.22 L410.25 210.19 L411.18 210.14 L412.11 210.08 L413.03 210 L413.96 209.91 L414.89 209.81 L415.82 209.68 L416.74 209.54 L417.67 209.39 L418.6 209.22 L419.53 209.03 L420.46 208.83 L421.38 208.61 L422.31 208.38 L423.24 208.12 L424.17 207.85 L425.09 207.57 L426.02 207.26 L426.95 206.94 L427.88 206.61 L428.81 206.25 L429.73 205.88 L430.66 205.48 L431.59 205.07 L432.52 204.64 L433.44 204.2 L434.37 203.73 L435.3 203.24 L436.23 202.74 L437.15 202.21 L438.08 201.67 L439.01 201.1 L439.94 200.51 L440.87 199.9 L441.79 199.27 L442.72 198.62 L443.65 197.95 L444.58 197.25 L445.5 196.52 L446.43 195.78 L447.36 195.01 L448.29 194.21 L449.22 193.39 L450.14 192.54 L451.07 191.67 L452 190.76 L452.93 189.83 L453.85 188.86 L454.78 187.87 L455.71 186.84 L456.64 185.78 L457.57 184.68 L458.49 183.55 L459.42 182.38 L460.35 181.17 L461.28 179.92 L462.2 178.62 L463.13 177.28 L464.06 175.89 L464.99 174.44 L465.92 172.93 L466.84 171.37 L467.77 169.73 L468.7 168.02 L469.63 166.24 L470.55 164.36 L471.48 162.4 L472.41 160.35 L473.34 158.21 L474.27 155.97 L475.19 153.65 L476.12 151.23 L477.05 148.73 L477.98 146.16 L478.9 143.52 L479.83 140.85 L480.76 138.16 L481.69 135.46 L482.62 132.78 L483.54 130.14 L484.47 127.56 L485.4 125.04 L486.33 122.6 L487.25 120.25 L488.18 117.99 L489.11 115.82 L490.04 113.74 L490.96 111.75 L491.89 109.85 L492.82 108.03 L493.75 106.29 L494.68 104.63 L495.6 103.03 L496.53 101.5 L497.46 100.04 L498.39 98.63 L499.31 97.3 L500.24 96.05 L501.17 94.89 L502.1 93.84 L503.03 92.9 L503.95 92.07 L504.88 91.36 L505.81 90.77 L506.74 90.29 L507.66 89.93 L508.59 89.68 L509.52 89.53 L510.45 89.47 L511.38 89.5 L512.3 89.6 L513.23 89.77 L514.16 90.01 L515.09 90.31 L516.01 90.69 L516.94 91.13 L517.87 91.64 L518.8 92.23 L519.73 92.88 L520.65 93.61 L521.58 94.42 L522.51 95.3 L523.44 96.26 L524.36 97.29 L525.29 98.41 L526.22 99.6 L527.15 100.86 L528.08 102.2 L529 103.6 L529.93 105.06 L530.86 106.58 L531.79 108.15 L532.71 109.76 L533.64 111.39 L534.57 113.03 L535.5 114.67 L536.43 116.3 L537.35 117.89 L538.28 119.44 L539.21 120.92 L540.14 122.34 L541.06 123.69 L541.99 125 L542.92 126.26 L543.85 127.49 L544.77 128.7 L545.7 129.88 L546.63 131.06 L547.56 132.24 L548.49 133.42 L549.41 134.61 L550.34 135.82 L551.27 137.04 L552.2 138.28 L553.12 139.51 L554.05 140.75 L554.98 141.99 L555.91 143.23 L556.84 144.46 L557.76 145.67 L558.69 146.88 L559.62 148.07 L560.55 149.24 L561.47 150.4 L562.4 151.53 L563.33 152.65 L564.26 153.75 L565.19 154.83 L566.11 155.9 L567.04 156.94 L567.97 157.97 L568.9 158.98 L569.82 159.98 L570.75 160.95 L571.68 161.91 L572.61 162.85 L573.54 163.78 L574.46 164.69 L575.39 165.58 L576.32 166.45 L577.25 167.31 L578.17 168.16 L579.1 168.99 L580.03 169.8 L580.96 170.6 L581.89 171.38 L582.81 172.15 L583.74 172.91 L584.67 173.65 L585.6 174.37 L586.52 175.09 L587.45 175.79 L588.38 176.47 L589.31 177.15 L590.24 177.81 L591.16 178.47 L592.09 179.11 L593.02 179.74 L593.95 180.36 L594.87 180.96 L595.8 181.56 L596.73 182.15 L597.66 182.73 L598.58 183.3 L599.51 183.86 L600.44 184.4 L601.37 184.94 L602.3 185.48 L603.22 186 L604.15 186.51 L605.08 187.02 L606.01 187.51 L606.93 188 L607.86 188.48 L608.79 188.96 L609.72 189.42 L610.65 189.88 L611.57 190.33 L612.5 190.77 L613.43 191.2 L614.36 191.63 L615.28 192.05 L616.21 192.46 L617.14 192.87 L618.07 193.26 L619 193.65 L619.92 194.04 L620.85 194.42 L621.78 194.79 L622.71 195.15 L623.63 195.51 L624.56 195.86 L625.49 196.21 L626.42 196.55 L627.35 196.88 L628.27 197.2 L629.2 197.52 L630.13 197.84 L631.06 198.15 L631.98 198.45 L632.91 198.74 L633.84 199.03 L634.77 199.32 L635.7 199.59 L636.62 199.87 L637.55 200.13 L638.48 200.39 L639.41 200.65 L640.33 200.9 L641.26 201.14 L642.19 201.38 L643.12 201.61 L644.05 201.84 L644.97 202.06 L645.9 202.28 L646.83 202.49 L647.76 202.69 L648.68 202.89 L649.61 203.08 L650.54 203.27 L651.47 203.46 L652.39 203.63 L653.32 203.81 L654.25 203.97 L655.18 204.14 L656.11 204.29 L657.03 204.44 L657.96 204.59 L658.89 204.73 L659.82 204.87 L660.74 205 L661.67 205.12 L662.6 205.24 L663.53 205.36 L664.46 205.47 L665.38 205.57 L666.31 205.67 L667.24 205.77 L668.17 205.85 L669.09 205.94 L670.02 206.02 L670.95 206.09 L671.88 206.16 L672.81 206.22 L673.73 206.28 L674.66 206.33 L675.59 206.38 L676.52 206.42 L677.44 206.46 L678.37 206.53 L679.3 206.62" fill="none" stroke="#805a53" stroke-width="1.0" stroke-linejoin="round"/>
<path d="M401.9 209.59 L402.83 209.57 L403.76 209.58 L404.68 209.57 L405.61 209.54 L406.54 209.49 L407.47 209.42 L408.39 209.33 L409.32 209.22 L410.25 209.09 L411.18 208.94 L412.11 208.77 L413.03 208.57 L413.96 208.35 L414.89 208.11 L415.82 207.85 L416.74 207.56 L417.67 207.25 L418.6 206.92 L419.53 206.56 L420.46 206.18 L421.38 205.77 L422.31 205.33 L423.24 204.87 L424.17 204.39 L425.09 203.87 L426.02 203.33 L426.95 202.76 L427.88 202.16 L428.81 201.53 L429.73 200.87 L430.66 200.19 L431.59 199.47 L432.52 198.72 L433.44 197.93 L434.37 197.12 L435.3 196.27 L436.23 195.39 L437.15 194.47 L438.08 193.52 L439.01 192.53 L439.94 191.5 L440.87 190.44 L441.79 189.33 L442.72 188.19 L443.65 187.01 L444.58 185.78 L445.5 184.51 L446.43 183.2 L447.36 181.85 L448.29 180.45 L449.22 179.01 L450.14 177.52 L451.07 175.98 L452 174.39 L452.93 172.75 L453.85 171.06 L454.78 169.31 L455.71 167.5 L456.64 165.63 L457.57 163.69 L458.49 161.68 L459.42 159.59 L460.35 157.43 L461.28 155.18 L462.2 152.85 L463.13 150.42 L464.06 147.89 L464.99 145.27 L465.92 142.54 L466.84 139.71 L467.77 136.77 L468.7 133.74 L469.63 130.6 L470.55 127.38 L471.48 124.07 L472.41 120.71 L473.34 117.31 L474.27 113.88 L475.19 110.45 L476.12 107.05 L477.05 103.7 L477.98 100.41 L478.9 97.2 L479.83 94.07 L480.76 91.04 L481.69 88.1 L482.62 85.24 L483.54 82.47 L484.47 79.76 L485.4 77.13 L486.33 74.59 L487.25 72.24 L488.18 70.12 L489.11 68.24 L490.04 66.62 L490.96 65.22 L491.89 64.03 L492.82 63.04 L493.75 62.21 L494.68 61.53 L495.6 60.98 L496.53 60.53 L497.46 60.18 L498.39 59.92 L499.31 59.73 L500.24 59.62 L501.17 59.59 L502.1 59.64 L503.03 59.75 L503.95 59.95 L504.88 60.23 L505.81 60.6 L506.74 61.05 L507.66 61.6 L508.59 62.23 L509.52 62.96 L510.45 63.79 L511.38 64.72 L512.3 65.76 L513.23 66.91 L514.16 68.19 L515.09 69.58 L516.01 71.09 L516.94 72.72 L517.87 74.43 L518.8 76.23 L519.73 78.07 L520.65 79.93 L521.58 81.8 L522.51 83.67 L523.44 85.55 L524.36 87.44 L525.29 89.33 L526.22 91.22 L527.15 93.12 L528.08 95.01 L529 96.9 L529.93 98.78 L530.86 100.65 L531.79 102.52 L532.71 104.37 L533.64 106.22 L534.57 108.05 L535.5 109.86 L536.43 111.66 L537.35 113.44 L538.28 115.21 L539.21 116.95 L540.14 118.67 L541.06 120.36 L541.99 122.04 L542.92 123.69 L543.85 125.32 L544.77 126.92 L545.7 128.49 L546.63 130.04 L547.56 131.57 L548.49 133.07 L549.41 134.54 L550.34 135.99 L551.27 137.41 L552.2 138.8 L553.12 140.17 L554.05 141.52 L554.98 142.84 L555.91 144.13 L556.84 145.4 L557.76 146.65 L558.69 147.87 L559.62 149.07 L560.55 150.24 L561.47 151.4 L562.4 152.53 L563.33 153.64 L564.26 154.73 L565.19 155.79 L566.11 156.84 L567.04 157.87 L567.97 158.88 L568.9 159.88 L569.82 160.86 L570.75 161.83 L571.68 162.78 L572.61 163.72 L573.54 164.64 L574.46 165.56 L575.39 166.46 L576.32 167.35 L577.25 168.23 L578.17 169.1 L579.1 169.96 L580.03 170.81 L580.96 171.64 L581.89 172.46 L582.81 173.27 L583.74 174.07 L584.67 174.85 L585.6 175.62 L586.52 176.38 L587.45 177.12 L588.38 177.85 L589.31 178.56 L590.24 179.26 L591.16 179.94 L592.09 180.61 L593.02 181.27 L593.95 181.91 L594.87 182.54 L595.8 183.15 L596.73 183.75 L597.66 184.35 L598.58 184.92 L599.51 185.49 L600.44 186.05 L601.37 186.59 L602.3 187.13 L603.22 187.65 L604.15 188.17 L605.08 188.68 L606.01 189.17 L606.93 189.66 L607.86 190.14 L608.79 190.61 L609.72 191.07 L610.65 191.52 L611.57 191.96 L612.5 192.4 L613.43 192.83 L614.36 193.25 L615.28 193.66 L616.21 194.07 L617.14 194.46 L618.07 194.85 L619 195.24 L619.92 195.61 L620.85 195.98 L621.78 196.34 L622.71 196.7 L623.63 197.05 L624.56 197.39 L625.49 197.73 L626.42 198.06 L627.35 198.38 L628.27 198.7 L629.2 199.01 L630.13 199.31 L631.06 199.61 L631.98 199.9 L632.91 200.18 L633.84 200.46 L634.77 200.74 L635.7 201.01 L636.62 201.27 L637.55 201.52 L638.48 201.77 L639.41 202.02 L640.33 202.26 L641.26 202.49 L642.19 202.72 L643.12 202.94 L644.05 203.16 L644.97 203.37 L645.9 203.57 L646.83 203.77 L647.76 203.96 L648.68 204.15 L649.61 204.33 L650.54 204.51 L651.47 204.68 L652.39 204.85 L653.32 205.01 L654.25 205.16 L655.18 205.31 L656.11 205.45 L657.03 205.59 L657.96 205.72 L658.89 205.85 L659.82 205.97 L660.74 206.09 L661.67 206.2 L662.6 206.3 L663.53 206.4 L664.46 206.49 L665.38 206.58 L666.31 206.66 L667.24 206.73 L668.17 206.8 L669.09 206.86 L670.02 206.92 L670.95 206.97 L671.88 207.02 L672.81 207.06 L673.73 207.09 L674.66 207.12 L675.59 207.14 L676.52 207.15 L677.44 207.16 L678.37 207.23 L679.3 207.3" fill="none" stroke="#cf83b8" stroke-width="1.0" stroke-linejoin="round"/>
<path d="M401.9 208.72 L402.83 208.68 L403.76 208.53 L404.68 208.35 L405.61 208.16 L406.54 207.95 L407.47 207.72 L408.39 207.46 L409.32 207.18 L410.25 206.88 L411.18 206.55 L412.11 206.2 L413.03 205.82 L413.96 205.42 L414.89 204.99 L415.82 204.53 L416.74 204.05 L417.67 203.54 L418.6 203 L419.53 202.43 L420.46 201.83 L421.38 201.19 L422.31 200.53 L423.24 199.83 L424.17 199.1 L425.09 198.33 L426.02 197.52 L426.95 196.68 L427.88 195.81 L428.81 194.89 L429.73 193.93 L430.66 192.93 L431.59 191.89 L432.52 190.81 L433.44 189.68 L434.37 188.51 L435.3 187.29 L436.23 186.03 L437.15 184.71 L438.08 183.35 L439.01 181.94 L439.94 180.48 L440.87 178.97 L441.79 177.41 L442.72 175.8 L443.65 174.13 L444.58 172.41 L445.5 170.63 L446.43 168.79 L447.36 166.89 L448.29 164.92 L449.22 162.87 L450.14 160.76 L451.07 158.56 L452 156.28 L452.93 153.92 L453.85 151.46 L454.78 148.92 L455.71 146.27 L456.64 143.54 L457.57 140.7 L458.49 137.77 L459.42 134.75 L460.35 131.63 L461.28 128.43 L462.2 125.15 L463.13 121.81 L464.06 118.41 L464.99 114.97 L465.92 111.5 L466.84 108 L467.77 104.5 L468.7 101 L469.63 97.52 L470.55 94.06 L471.48 90.65 L472.41 87.29 L473.34 83.99 L474.27 80.75 L475.19 77.59 L476.12 74.51 L477.05 71.51 L477.98 68.59 L478.9 65.75 L479.83 63 L480.76 60.33 L481.69 57.73 L482.62 55.22 L483.54 52.83 L484.47 50.72 L485.4 48.94 L486.33 47.5 L487.25 46.36 L488.18 45.48 L489.11 44.82 L490.04 44.34 L490.96 44.01 L491.89 43.82 L492.82 43.72 L493.75 43.72 L494.68 43.8 L495.6 43.97 L496.53 44.21 L497.46 44.54 L498.39 44.96 L499.31 45.49 L500.24 46.16 L501.17 46.98 L502.1 48 L503.03 49.23 L503.95 50.71 L504.88 52.45 L505.81 54.46 L506.74 56.67 L507.66 58.97 L508.59 61.13 L509.52 63.06 L510.45 64.81 L511.38 66.46 L512.3 68.05 L513.23 69.62 L514.16 71.21 L515.09 72.83 L516.01 74.49 L516.94 76.24 L517.87 78.08 L518.8 80.08 L519.73 82.3 L520.65 84.93 L521.58 88.13 L522.51 91.6 L523.44 94.12 L524.36 95.32 L525.29 96.38 L526.22 98.31 L527.15 101.46 L528.08 104.06 L529 106.47 L529.93 108.76 L530.86 110.96 L531.79 113.09 L532.71 115.14 L533.64 117.12 L534.57 119.05 L535.5 120.91 L536.43 122.73 L537.35 124.5 L538.28 126.23 L539.21 127.92 L540.14 129.58 L541.06 131.2 L541.99 132.81 L542.92 134.38 L543.85 135.94 L544.77 137.47 L545.7 138.99 L546.63 140.48 L547.56 141.94 L548.49 143.39 L549.41 144.81 L550.34 146.21 L551.27 147.58 L552.2 148.93 L553.12 150.25 L554.05 151.55 L554.98 152.83 L555.91 154.08 L556.84 155.31 L557.76 156.52 L558.69 157.7 L559.62 158.86 L560.55 159.99 L561.47 161.1 L562.4 162.19 L563.33 163.26 L564.26 164.3 L565.19 165.32 L566.11 166.32 L567.04 167.29 L567.97 168.25 L568.9 169.18 L569.82 170.1 L570.75 170.99 L571.68 171.86 L572.61 172.71 L573.54 173.54 L574.46 174.36 L575.39 175.15 L576.32 175.92 L577.25 176.68 L578.17 177.42 L579.1 178.14 L580.03 178.85 L580.96 179.54 L581.89 180.22 L582.81 180.88 L583.74 181.52 L584.67 182.16 L585.6 182.78 L586.52 183.39 L587.45 183.98 L588.38 184.57 L589.31 185.14 L590.24 185.7 L591.16 186.25 L592.09 186.79 L593.02 187.32 L593.95 187.83 L594.87 188.34 L595.8 188.84 L596.73 189.33 L597.66 189.81 L598.58 190.28 L599.51 190.74 L600.44 191.19 L601.37 191.64 L602.3 192.07 L603.22 192.5 L604.15 192.92 L605.08 193.33 L606.01 193.74 L606.93 194.14 L607.86 194.53 L608.79 194.91 L609.72 195.28 L610.65 195.65 L611.57 196.02 L612.5 196.37 L613.43 196.72 L614.36 197.06 L615.28 197.4 L616.21 197.73 L617.14 198.05 L618.07 198.37 L619 198.68 L619.92 198.98 L620.85 199.28 L621.78 199.58 L622.71 199.87 L623.63 200.15 L624.56 200.43 L625.49 200.7 L626.42 200.96 L627.35 201.23 L628.27 201.48 L629.2 201.73 L630.13 201.98 L631.06 202.22 L631.98 202.46 L632.91 202.69 L633.84 202.92 L634.77 203.14 L635.7 203.36 L636.62 203.57 L637.55 203.78 L638.48 203.98 L639.41 204.18 L640.33 204.38 L641.26 204.57 L642.19 204.76 L643.12 204.94 L644.05 205.12 L644.97 205.29 L645.9 205.46 L646.83 205.62 L647.76 205.79 L648.68 205.94 L649.61 206.1 L650.54 206.25 L651.47 206.39 L652.39 206.53 L653.32 206.67 L654.25 206.81 L655.18 206.94 L656.11 207.06 L657.03 207.19 L657.96 207.31 L658.89 207.42 L659.82 207.53 L660.74 207.64 L661.67 207.75 L662.6 207.85 L663.53 207.95 L664.46 208.04 L665.38 208.13 L666.31 208.22 L667.24 208.3 L668.17 208.38 L669.09 208.46 L670.02 208.53 L670.95 208.6 L671.88 208.67 L672.81 208.73 L673.73 208.79 L674.66 208.85 L675.59 208.9 L676.52 208.95 L677.44 209 L678.37 209.04 L679.3 209.09" fill="none" stroke="#b7b84b" stroke-width="1.0" stroke-linejoin="round"/>
<path d="M401.9 208.4 L402.83 208.24 L403.76 207.93 L404.68 207.6 L405.61 207.25 L406.54 206.87 L407.47 206.47 L408.39 206.04 L409.32 205.58 L410.25 205.09 L411.18 204.56 L412.11 204.01 L413.03 203.41 L413.96 202.78 L414.89 202.11 L415.82 201.4 L416.74 200.64 L417.67 199.83 L418.6 198.97 L419.53 198.05 L420.46 197.08 L421.38 196.05 L422.31 194.95 L423.24 193.79 L424.17 192.56 L425.09 191.25 L426.02 189.88 L426.95 188.43 L427.88 186.92 L428.81 185.34 L429.73 183.7 L430.66 182.01 L431.59 180.25 L432.52 178.44 L433.44 176.55 L434.37 174.59 L435.3 172.56 L436.23 170.45 L437.15 168.25 L438.08 165.97 L439.01 163.6 L439.94 161.14 L440.87 158.58 L441.79 155.92 L442.72 153.17 L443.65 150.31 L444.58 147.36 L445.5 144.32 L446.43 141.18 L447.36 137.96 L448.29 134.66 L449.22 131.28 L450.14 127.82 L451.07 124.28 L452 120.65 L452.93 116.9 L453.85 113.01 L454.78 109.54 L455.71 109.47 L456.64 105.86 L457.57 101.16 L458.49 96.25 L459.42 91.51 L460.35 87.19 L461.28 83.23 L462.2 79.48 L463.13 75.84 L464.06 72.14 L464.99 68.31 L465.92 64.37 L466.84 60.4 L467.77 56.48 L468.7 52.65 L469.63 48.96 L470.55 45.39 L471.48 41.95 L472.41 38.62 L473.34 35.49 L474.27 32.76 L475.19 30.51 L476.12 28.74 L477.05 27.44 L477.98 26.56 L478.9 26.06 L479.83 25.87 L480.76 25.91 L481.69 26.13 L482.62 26.5 L483.54 27 L484.47 27.6 L485.4 28.28 L486.33 29.04 L487.25 29.86 L488.18 30.73 L489.11 31.66 L490.04 32.63 L490.96 33.67 L491.89 34.76 L492.82 35.92 L493.75 37.16 L494.68 38.47 L495.6 39.86 L496.53 41.33 L497.46 42.9 L498.39 44.56 L499.31 46.32 L500.24 48.17 L501.17 50.13 L502.1 52.17 L503.03 54.3 L503.95 56.51 L504.88 58.77 L505.81 61.07 L506.74 63.39 L507.66 65.75 L508.59 68.12 L509.52 70.52 L510.45 72.93 L511.38 75.36 L512.3 77.79 L513.23 80.22 L514.16 82.65 L515.09 85.08 L516.01 87.5 L516.94 89.91 L517.87 92.3 L518.8 94.67 L519.73 97.02 L520.65 99.35 L521.58 101.64 L522.51 103.91 L523.44 106.14 L524.36 108.33 L525.29 110.49 L526.22 112.62 L527.15 114.7 L528.08 116.75 L529 118.75 L529.93 120.72 L530.86 122.65 L531.79 124.53 L532.71 126.37 L533.64 128.18 L534.57 129.94 L535.5 131.67 L536.43 133.35 L537.35 135 L538.28 136.61 L539.21 138.18 L540.14 139.72 L541.06 141.22 L541.99 142.68 L542.92 144.11 L543.85 145.51 L544.77 146.87 L545.7 148.2 L546.63 149.5 L547.56 150.77 L548.49 152.01 L549.41 153.22 L550.34 154.4 L551.27 155.55 L552.2 156.68 L553.12 157.78 L554.05 158.85 L554.98 159.91 L555.91 160.94 L556.84 161.94 L557.76 162.93 L558.69 163.9 L559.62 164.85 L560.55 165.78 L561.47 166.69 L562.4 167.58 L563.33 168.46 L564.26 169.32 L565.19 170.17 L566.11 171 L567.04 171.81 L567.97 172.62 L568.9 173.4 L569.82 174.17 L570.75 174.93 L571.68 175.68 L572.61 176.41 L573.54 177.14 L574.46 177.85 L575.39 178.54 L576.32 179.23 L577.25 179.9 L578.17 180.57 L579.1 181.22 L580.03 181.86 L580.96 182.49 L581.89 183.11 L582.81 183.72 L583.74 184.32 L584.67 184.92 L585.6 185.5 L586.52 186.07 L587.45 186.64 L588.38 187.19 L589.31 187.74 L590.24 188.27 L591.16 188.8 L592.09 189.32 L593.02 189.83 L593.95 190.34 L594.87 190.83 L595.8 191.32 L596.73 191.8 L597.66 192.27 L598.58 192.73 L599.51 193.19 L600.44 193.64 L601.37 194.08 L602.3 194.52 L603.22 194.94 L604.15 195.36 L605.08 195.78 L606.01 196.18 L606.93 196.58 L607.86 196.97 L608.79 197.36 L609.72 197.74 L610.65 198.11 L611.57 198.48 L612.5 198.84 L613.43 199.19 L614.36 199.54 L615.28 199.88 L616.21 200.21 L617.14 200.54 L618.07 200.86 L619 201.18 L619.92 201.49 L620.85 201.79 L621.78 202.09 L622.71 202.38 L623.63 202.67 L624.56 202.95 L625.49 203.22 L626.42 203.49 L627.35 203.76 L628.27 204.01 L629.2 204.27 L630.13 204.51 L631.06 204.75 L631.98 204.99 L632.91 205.22 L633.84 205.44 L634.77 205.66 L635.7 205.87 L636.62 206.08 L637.55 206.29 L638.48 206.48 L639.41 206.67 L640.33 206.86 L641.26 207.04 L642.19 207.22 L643.12 207.39 L644.05 207.56 L644.97 207.72 L645.9 207.87 L646.83 208.02 L647.76 208.17 L648.68 208.31 L649.61 208.44 L650.54 208.57 L651.47 208.7 L652.39 208.82 L653.32 208.93 L654.25 209.04 L655.18 209.14 L656.11 209.24 L657.03 209.34 L657.96 209.43 L658.89 209.51 L659.82 209.59 L660.74 209.66 L661.67 209.73 L662.6 209.8 L663.53 209.86 L664.46 209.91 L665.38 209.96 L666.31 210 L667.24 210.04 L668.17 210.08 L669.09 210.11 L670.02 210.13 L670.95 210.15 L671.88 210.16 L672.81 210.17 L673.73 210.18 L674.66 210.18 L675.59 210.17 L676.52 210.16 L677.44 210.14 L678.37 210.16 L679.3 210.21" fill="none" stroke="#3bb0bc" stroke-width="1.0" stroke-linejoin="round"/>
</g>
<rect x="401.9" y="15.6" width="277.4" height="206.4" fill="none" stroke="#555" stroke-width="1"/>
<line x1="409" y1="222" x2="409" y2="225" stroke="#555" stroke-width="1"/>
<text x="409.2" y="234.8" font-size="8.7" text-anchor="middle" fill="#000">2.5</text>
<line x1="443.68" y1="222" x2="443.68" y2="225" stroke="#555" stroke-width="1"/>
<text x="445" y="234.8" font-size="8.7" text-anchor="middle" fill="#000">5.0</text>
<line x1="478.35" y1="222" x2="478.35" y2="225" stroke="#555" stroke-width="1"/>
<text x="477.6" y="234.8" font-size="8.7" text-anchor="middle" fill="#000">7.5</text>
<line x1="513.02" y1="222" x2="513.02" y2="225" stroke="#555" stroke-width="1"/>
<text x="514" y="234.8" font-size="8.7" text-anchor="middle" fill="#000">10.0</text>
<line x1="547.7" y1="222" x2="547.7" y2="225" stroke="#555" stroke-width="1"/>
<text x="550" y="234.8" font-size="8.7" text-anchor="middle" fill="#000">12.5</text>
<line x1="582.38" y1="222" x2="582.38" y2="225" stroke="#555" stroke-width="1"/>
<text x="584.5" y="234.8" font-size="8.7" text-anchor="middle" fill="#000">15.0</text>
<line x1="617.05" y1="222" x2="617.05" y2="225" stroke="#555" stroke-width="1"/>
<text x="619.9" y="234.8" font-size="8.7" text-anchor="middle" fill="#000">17.5</text>
<line x1="651.73" y1="222" x2="651.73" y2="225" stroke="#555" stroke-width="1"/>
<text x="653.3" y="234.8" font-size="8.7" text-anchor="middle" fill="#000">20.0</text>
<line x1="398.9" y1="217.5" x2="401.9" y2="217.5" stroke="#555" stroke-width="1"/>
<text x="397.4" y="220.45" font-size="8.7" text-anchor="end" fill="#000">0</text>
<line x1="398.9" y1="172.3" x2="401.9" y2="172.3" stroke="#555" stroke-width="1"/>
<text x="397.4" y="175.25" font-size="8.7" text-anchor="end" fill="#000">1000</text>
<line x1="398.9" y1="127.1" x2="401.9" y2="127.1" stroke="#555" stroke-width="1"/>
<text x="397.4" y="130.05" font-size="8.7" text-anchor="end" fill="#000">2000</text>
<line x1="398.9" y1="81.9" x2="401.9" y2="81.9" stroke="#555" stroke-width="1"/>
<text x="397.4" y="84.85" font-size="8.7" text-anchor="end" fill="#000">3000</text>
<line x1="398.9" y1="36.7" x2="401.9" y2="36.7" stroke="#555" stroke-width="1"/>
<text x="397.4" y="39.65" font-size="8.7" text-anchor="end" fill="#000">4000</text>
<text x="546.6" y="248.3" font-size="11.7" text-anchor="middle" fill="#000">Time (ps)</text>
<text x="374" y="120.5" font-size="11.7" text-anchor="middle" fill="#000" transform="rotate(-90 374 120.5)">Response PL intensity R(t)&#160; (a.u.)</text>
<line x1="617.2" y1="25.25" x2="633.3" y2="25.25" stroke="#34719c" stroke-width="1.0"/>
<text x="637.8" y="28.85" font-size="8.9" text-anchor="start" fill="#000">0.35 μW</text>
<line x1="617.2" y1="39.38" x2="633.3" y2="39.38" stroke="#e08738" stroke-width="1.0"/>
<text x="637.8" y="42.98" font-size="8.9" text-anchor="start" fill="#000">0.40 μW</text>
<line x1="617.2" y1="53.51" x2="633.3" y2="53.51" stroke="#409240" stroke-width="1.0"/>
<text x="637.8" y="57.11" font-size="8.9" text-anchor="start" fill="#000">0.45 μW</text>
<line x1="617.2" y1="67.64" x2="633.3" y2="67.64" stroke="#b13737" stroke-width="1.0"/>
<text x="637.8" y="71.24" font-size="8.9" text-anchor="start" fill="#000">0.49 μW</text>
<line x1="617.2" y1="81.77" x2="633.3" y2="81.77" stroke="#976abe" stroke-width="1.0"/>
<text x="637.8" y="85.37" font-size="8.9" text-anchor="start" fill="#000">0.55 μW</text>
<line x1="617.2" y1="95.9" x2="633.3" y2="95.9" stroke="#805a53" stroke-width="1.0"/>
<text x="637.8" y="99.5" font-size="8.9" text-anchor="start" fill="#000">0.60 μW</text>
<line x1="617.2" y1="110.03" x2="633.3" y2="110.03" stroke="#cf83b8" stroke-width="1.0"/>
<text x="637.8" y="113.63" font-size="8.9" text-anchor="start" fill="#000">0.63 μW</text>
<line x1="617.2" y1="124.16" x2="633.3" y2="124.16" stroke="#b7b84b" stroke-width="1.0"/>
<text x="637.8" y="127.76" font-size="8.9" text-anchor="start" fill="#000">0.70 μW</text>
<line x1="617.2" y1="138.29" x2="633.3" y2="138.29" stroke="#3bb0bc" stroke-width="1.0"/>
<text x="637.8" y="141.89" font-size="8.9" text-anchor="start" fill="#000">0.78 μW</text>
<text x="0.6" y="275" font-size="16.3" text-anchor="start" fill="#000">c</text>
<line x1="51.9" y1="291.55" x2="51.9" y2="339.55" stroke="#f29a90" stroke-width="1.1"/>
<line x1="48.1" y1="291.55" x2="55.7" y2="291.55" stroke="#f29a90" stroke-width="1.1"/>
<line x1="48.1" y1="339.55" x2="55.7" y2="339.55" stroke="#f29a90" stroke-width="1.1"/>
<line x1="85.04" y1="278.9" x2="85.04" y2="309.2" stroke="#f29a90" stroke-width="1.1"/>
<line x1="81.24" y1="278.9" x2="88.84" y2="278.9" stroke="#f29a90" stroke-width="1.1"/>
<line x1="81.24" y1="309.2" x2="88.84" y2="309.2" stroke="#f29a90" stroke-width="1.1"/>
<line x1="111.55" y1="310.6" x2="111.55" y2="320" stroke="#f29a90" stroke-width="1.1"/>
<line x1="107.75" y1="310.6" x2="115.35" y2="310.6" stroke="#f29a90" stroke-width="1.1"/>
<line x1="107.75" y1="320" x2="115.35" y2="320" stroke="#f29a90" stroke-width="1.1"/>
<line x1="151.32" y1="355.1" x2="151.32" y2="359.9" stroke="#f29a90" stroke-width="1.1"/>
<line x1="147.52" y1="355.1" x2="155.12" y2="355.1" stroke="#f29a90" stroke-width="1.1"/>
<line x1="147.52" y1="359.9" x2="155.12" y2="359.9" stroke="#f29a90" stroke-width="1.1"/>
<line x1="184.46" y1="393.7" x2="184.46" y2="396.7" stroke="#f29a90" stroke-width="1.1"/>
<line x1="180.66" y1="393.7" x2="188.26" y2="393.7" stroke="#f29a90" stroke-width="1.1"/>
<line x1="180.66" y1="396.7" x2="188.26" y2="396.7" stroke="#f29a90" stroke-width="1.1"/>
<line x1="204.34" y1="411" x2="204.34" y2="413.4" stroke="#f29a90" stroke-width="1.1"/>
<line x1="200.54" y1="411" x2="208.14" y2="411" stroke="#f29a90" stroke-width="1.1"/>
<line x1="200.54" y1="413.4" x2="208.14" y2="413.4" stroke="#f29a90" stroke-width="1.1"/>
<line x1="250.74" y1="426" x2="250.74" y2="428.2" stroke="#f29a90" stroke-width="1.1"/>
<line x1="246.94" y1="426" x2="254.54" y2="426" stroke="#f29a90" stroke-width="1.1"/>
<line x1="246.94" y1="428.2" x2="254.54" y2="428.2" stroke="#f29a90" stroke-width="1.1"/>
<line x1="303.76" y1="444.2" x2="303.76" y2="447.2" stroke="#f29a90" stroke-width="1.1"/>
<line x1="299.96" y1="444.2" x2="307.56" y2="444.2" stroke="#f29a90" stroke-width="1.1"/>
<line x1="299.96" y1="447.2" x2="307.56" y2="447.2" stroke="#f29a90" stroke-width="1.1"/>
<path d="M51.9 315.55 L85.04 294.05 L111.55 315.3 L151.32 357.5 L184.46 395.2 L204.34 412.2 L250.74 427.1 L303.76 445.7" fill="none" stroke="#e53e2e" stroke-width="1.1" stroke-linejoin="round"/>
<circle cx="51.9" cy="315.55" r="2.95" fill="#e53e2e"/>
<circle cx="85.04" cy="294.05" r="2.95" fill="#e53e2e"/>
<circle cx="111.55" cy="315.3" r="2.95" fill="#e53e2e"/>
<circle cx="151.32" cy="357.5" r="2.95" fill="#e53e2e"/>
<circle cx="184.46" cy="395.2" r="2.95" fill="#e53e2e"/>
<circle cx="204.34" cy="412.2" r="2.95" fill="#e53e2e"/>
<circle cx="250.74" cy="427.1" r="2.95" fill="#e53e2e"/>
<circle cx="303.76" cy="445.7" r="2.95" fill="#e53e2e"/>
<line x1="51.9" y1="466.5" x2="51.9" y2="468.5" stroke="#7b8fd0" stroke-width="1.1"/>
<line x1="48.1" y1="466.5" x2="55.7" y2="466.5" stroke="#7b8fd0" stroke-width="1.1"/>
<line x1="48.1" y1="468.5" x2="55.7" y2="468.5" stroke="#7b8fd0" stroke-width="1.1"/>
<line x1="85.04" y1="461.3" x2="85.04" y2="472.2" stroke="#7b8fd0" stroke-width="1.1"/>
<line x1="81.24" y1="461.3" x2="88.84" y2="461.3" stroke="#7b8fd0" stroke-width="1.1"/>
<line x1="81.24" y1="472.2" x2="88.84" y2="472.2" stroke="#7b8fd0" stroke-width="1.1"/>
<line x1="111.55" y1="415.8" x2="111.55" y2="464.3" stroke="#7b8fd0" stroke-width="1.1"/>
<line x1="107.75" y1="415.8" x2="115.35" y2="415.8" stroke="#7b8fd0" stroke-width="1.1"/>
<line x1="107.75" y1="464.3" x2="115.35" y2="464.3" stroke="#7b8fd0" stroke-width="1.1"/>
<line x1="151.32" y1="369.6" x2="151.32" y2="430.3" stroke="#7b8fd0" stroke-width="1.1"/>
<line x1="147.52" y1="369.6" x2="155.12" y2="369.6" stroke="#7b8fd0" stroke-width="1.1"/>
<line x1="147.52" y1="430.3" x2="155.12" y2="430.3" stroke="#7b8fd0" stroke-width="1.1"/>
<line x1="184.46" y1="338.5" x2="184.46" y2="370.7" stroke="#7b8fd0" stroke-width="1.1"/>
<line x1="180.66" y1="338.5" x2="188.26" y2="338.5" stroke="#7b8fd0" stroke-width="1.1"/>
<line x1="180.66" y1="370.7" x2="188.26" y2="370.7" stroke="#7b8fd0" stroke-width="1.1"/>
<line x1="204.34" y1="317.2" x2="204.34" y2="334.6" stroke="#7b8fd0" stroke-width="1.1"/>
<line x1="200.54" y1="317.2" x2="208.14" y2="317.2" stroke="#7b8fd0" stroke-width="1.1"/>
<line x1="200.54" y1="334.6" x2="208.14" y2="334.6" stroke="#7b8fd0" stroke-width="1.1"/>
<line x1="250.74" y1="303.9" x2="250.74" y2="320.9" stroke="#7b8fd0" stroke-width="1.1"/>
<line x1="246.94" y1="303.9" x2="254.54" y2="303.9" stroke="#7b8fd0" stroke-width="1.1"/>
<line x1="246.94" y1="320.9" x2="254.54" y2="320.9" stroke="#7b8fd0" stroke-width="1.1"/>
<line x1="303.76" y1="284.6" x2="303.76" y2="303.1" stroke="#7b8fd0" stroke-width="1.1"/>
<line x1="299.96" y1="284.6" x2="307.56" y2="284.6" stroke="#7b8fd0" stroke-width="1.1"/>
<line x1="299.96" y1="303.1" x2="307.56" y2="303.1" stroke="#7b8fd0" stroke-width="1.1"/>
<path d="M51.9 467.5 L85.04 466.75 L111.55 440.05 L151.32 399.95 L184.46 354.6 L204.34 325.9 L250.74 312.4 L303.76 293.85" fill="none" stroke="#3553b5" stroke-width="1.1" stroke-linejoin="round"/>
<circle cx="51.9" cy="467.5" r="2.95" fill="#3553b5"/>
<circle cx="85.04" cy="466.75" r="2.95" fill="#3553b5"/>
<circle cx="111.55" cy="440.05" r="2.95" fill="#3553b5"/>
<circle cx="151.32" cy="399.95" r="2.95" fill="#3553b5"/>
<circle cx="184.46" cy="354.6" r="2.95" fill="#3553b5"/>
<circle cx="204.34" cy="325.9" r="2.95" fill="#3553b5"/>
<circle cx="250.74" cy="312.4" r="2.95" fill="#3553b5"/>
<circle cx="303.76" cy="293.85" r="2.95" fill="#3553b5"/>
<line x1="39.4" y1="275.4" x2="316.8" y2="275.4" stroke="#111" stroke-width="1"/>
<line x1="39.4" y1="481.1" x2="316.8" y2="481.1" stroke="#333" stroke-width="1"/>
<line x1="39.4" y1="275.4" x2="39.4" y2="481.1" stroke="#3c3c9c" stroke-width="1"/>
<line x1="316.8" y1="275.4" x2="316.8" y2="481.1" stroke="#e04a3a" stroke-width="1"/>
<line x1="51.9" y1="481.1" x2="51.9" y2="484.1" stroke="#333" stroke-width="1"/>
<text x="47.2" y="494.3" font-size="8.7" text-anchor="middle" fill="#000">0.40</text>
<line x1="85.04" y1="481.1" x2="85.04" y2="484.1" stroke="#333" stroke-width="1"/>
<text x="83.3" y="494.3" font-size="8.7" text-anchor="middle" fill="#000">0.45</text>
<line x1="118.18" y1="481.1" x2="118.18" y2="484.1" stroke="#333" stroke-width="1"/>
<text x="115.7" y="494.3" font-size="8.7" text-anchor="middle" fill="#000">0.50</text>
<line x1="151.32" y1="481.1" x2="151.32" y2="484.1" stroke="#333" stroke-width="1"/>
<text x="148.9" y="494.3" font-size="8.7" text-anchor="middle" fill="#000">0.55</text>
<line x1="184.46" y1="481.1" x2="184.46" y2="484.1" stroke="#333" stroke-width="1"/>
<text x="185.3" y="494.3" font-size="8.7" text-anchor="middle" fill="#000">0.60</text>
<line x1="217.6" y1="481.1" x2="217.6" y2="484.1" stroke="#333" stroke-width="1"/>
<text x="219.3" y="494.3" font-size="8.7" text-anchor="middle" fill="#000">0.65</text>
<line x1="250.74" y1="481.1" x2="250.74" y2="484.1" stroke="#333" stroke-width="1"/>
<text x="252.4" y="494.3" font-size="8.7" text-anchor="middle" fill="#000">0.70</text>
<line x1="283.88" y1="481.1" x2="283.88" y2="484.1" stroke="#333" stroke-width="1"/>
<text x="287.2" y="494.3" font-size="8.7" text-anchor="middle" fill="#000">0.75</text>
<line x1="36.4" y1="467.8" x2="39.4" y2="467.8" stroke="#3c3c9c" stroke-width="1"/>
<text x="33.9" y="470.75" font-size="8.7" text-anchor="end" fill="#3c3c9c">0</text>
<line x1="36.4" y1="426.58" x2="39.4" y2="426.58" stroke="#3c3c9c" stroke-width="1"/>
<text x="33.9" y="429.53" font-size="8.7" text-anchor="end" fill="#3c3c9c">1000</text>
<line x1="36.4" y1="385.36" x2="39.4" y2="385.36" stroke="#3c3c9c" stroke-width="1"/>
<text x="33.9" y="388.31" font-size="8.7" text-anchor="end" fill="#3c3c9c">2000</text>
<line x1="36.4" y1="344.14" x2="39.4" y2="344.14" stroke="#3c3c9c" stroke-width="1"/>
<text x="33.9" y="347.09" font-size="8.7" text-anchor="end" fill="#3c3c9c">3000</text>
<line x1="36.4" y1="302.92" x2="39.4" y2="302.92" stroke="#3c3c9c" stroke-width="1"/>
<text x="33.9" y="305.87" font-size="8.7" text-anchor="end" fill="#3c3c9c">4000</text>
<line x1="316.8" y1="468.72" x2="319.8" y2="468.72" stroke="#e04a3a" stroke-width="1"/>
<text x="320.3" y="471.22" font-size="8.7" text-anchor="start" fill="#e04a3a">7</text>
<line x1="316.8" y1="442.86" x2="319.8" y2="442.86" stroke="#e04a3a" stroke-width="1"/>
<text x="320.3" y="445.36" font-size="8.7" text-anchor="start" fill="#e04a3a">8</text>
<line x1="316.8" y1="417" x2="319.8" y2="417" stroke="#e04a3a" stroke-width="1"/>
<text x="320.3" y="419.5" font-size="8.7" text-anchor="start" fill="#e04a3a">9</text>
<line x1="316.8" y1="391.14" x2="319.8" y2="391.14" stroke="#e04a3a" stroke-width="1"/>
<text x="320.3" y="393.64" font-size="8.7" text-anchor="start" fill="#e04a3a">10</text>
<line x1="316.8" y1="365.28" x2="319.8" y2="365.28" stroke="#e04a3a" stroke-width="1"/>
<text x="320.3" y="367.78" font-size="8.7" text-anchor="start" fill="#e04a3a">11</text>
<line x1="316.8" y1="339.42" x2="319.8" y2="339.42" stroke="#e04a3a" stroke-width="1"/>
<text x="320.3" y="341.92" font-size="8.7" text-anchor="start" fill="#e04a3a">12</text>
<line x1="316.8" y1="313.56" x2="319.8" y2="313.56" stroke="#e04a3a" stroke-width="1"/>
<text x="320.3" y="316.06" font-size="8.7" text-anchor="start" fill="#e04a3a">13</text>
<line x1="316.8" y1="287.7" x2="319.8" y2="287.7" stroke="#e04a3a" stroke-width="1"/>
<text x="320.3" y="290.2" font-size="8.7" text-anchor="start" fill="#e04a3a">14</text>
<text x="178.7" y="508.9" font-size="11.7" text-anchor="middle" fill="#000">Pump power (μW)</text>
<text x="8.4" y="379" font-size="11.7" text-anchor="middle" fill="#3c3c9c" transform="rotate(-90 8.4 379)">Maximum intensity (a.u.)</text>
<text x="340.1" y="375.8" font-size="11.7" text-anchor="middle" fill="#e04a3a" transform="rotate(-90 340.1 375.8)">peak position (ps)</text>
<text x="355.8" y="275.5" font-size="16.3" text-anchor="start" fill="#000">d</text>
<g clip-path="url(#cd)">
<line x1="419" y1="472" x2="562.7" y2="472" stroke="#66a63c" stroke-width="2.0"/>
<path d="M420.31 466 L420.19 465.22 L420.12 464.42 L420.08 463.61 L420.09 462.79 L420.12 461.97 L420.19 461.14 L420.3 460.3 L420.44 459.47 L420.61 458.63 L420.81 457.8 L421.05 456.97 L421.31 456.14 L421.6 455.33 L421.92 454.52 L422.27 453.73 L422.65 452.95 L423.05 452.18 L423.47 451.43 L423.92 450.71 L424.4 450 L424.89 449.32 L425.41 448.66 L425.94 448.03 L426.5 447.43 L427.08 446.86 L427.67 446.32 L428.28 445.82 L428.91 445.35 L429.55 444.92 L430.21 444.53 L430.89 444.18 L431.57 443.86 L432.27 443.57 L432.99 443.31 L433.71 443.09 L434.45 442.89 L435.2 442.72 L435.96 442.58 L436.73 442.47 L437.5 442.38 L438.29 442.31 L439.09 442.26 L439.89 442.23 L440.7 442.22 L441.52 442.23 L442.35 442.26 L443.18 442.3 L444.01 442.36 L444.85 442.42 L445.7 442.5 L446.54 442.59 L447.39 442.69 L448.24 442.8 L449.1 442.91 L449.95 443.02 L450.81 443.14 L451.67 443.27 L452.52 443.39 L453.38 443.52 L454.23 443.64 L455.08 443.76 L455.93 443.88 L456.78 443.99 L457.63 444.11 L458.47 444.22 L459.32 444.33 L460.16 444.44 L461 444.55 L461.83 444.65 L462.67 444.75 L463.51 444.86 L464.34 444.95 L465.17 445.05 L466 445.15 L466.83 445.24 L467.66 445.34 L468.49 445.43 L469.32 445.52 L470.14 445.61 L470.96 445.7 L471.79 445.78 L472.61 445.87 L473.43 445.95 L474.25 446.04 L475.07 446.12 L475.89 446.2 L476.7 446.28 L477.52 446.36 L478.33 446.44 L479.15 446.52 L479.96 446.59 L480.78 446.67 L481.59 446.74 L482.4 446.82 L483.21 446.89 L484.02 446.97 L484.83 447.04 L485.64 447.11 L486.45 447.18 L487.26 447.25 L488.07 447.33 L488.88 447.4 L489.69 447.47 L490.49 447.54 L491.3 447.61 L492.11 447.68 L492.92 447.75 L493.73 447.82 L494.53 447.89 L495.34 447.96 L496.15 448.03 L496.96 448.1 L497.76 448.17 L498.57 448.24 L499.38 448.32 L500.19 448.39 L501 448.46 L501.81 448.53 L502.62 448.61 L503.43 448.68 L504.24 448.75 L505.05 448.83 L505.86 448.91 L506.67 448.98 L507.48 449.06 L508.3 449.14 L509.11 449.22 L509.92 449.3 L510.74 449.38 L511.55 449.46 L512.37 449.54 L513.19 449.63 L514.01 449.71 L514.83 449.8 L515.65 449.89 L516.47 449.97 L517.29 450.06 L518.11 450.16 L518.94 450.25 L519.76 450.34 L520.59 450.44 L521.42 450.53 L522.24 450.63 L523.07 450.73 L523.9 450.83 L524.72 450.93 L525.55 451.03 L526.38 451.13 L527.21 451.23 L528.03 451.33 L528.86 451.44 L529.68 451.54 L530.51 451.64 L531.33 451.74 L532.16 451.85 L532.98 451.95 L533.8 452.05 L534.62 452.16 L535.44 452.26 L536.25 452.36 L537.07 452.46 L537.88 452.57 L538.69 452.67 L539.5 452.77 L540.31 452.87 L541.11 452.97 L541.91 453.06 L542.71 453.16 L543.51 453.26 L544.3 453.35 L545.1 453.45 L545.88 453.54 L546.67 453.63 L547.45 453.72 L548.23 453.81 L549.01 453.9 L549.78 453.98 L550.55 454.07 L551.31 454.15 L552.07 454.23 L552.83 454.31 L553.59 454.39 L554.35 454.47 L555.12 454.54 L555.89 454.62 L556.67 454.7 L557.45 454.77 L558.25 454.85 L559.06 454.93 L559.88 455.01 L560.72 455.09 L561.57 455.17 L562.45 455.25 L563.34 455.34 L564.26 455.43 L565.21 455.52 L566.17 455.61 L567.17 455.71 L568.2 455.81 L569.26 455.92 L570.33 456.02 L571.4 456.14 L572.42 456.26 L573.36 456.4 L574.19 456.54 L574.88 456.71 L575.39 456.88 L575.69 457.08 L575.75 457.29 L575.54 457.53 L575.11 457.78 L574.48 458.04 L573.72 458.3 L572.85 458.57 L571.92 458.84 L570.96 459.09 L570.02 459.33 L569.09 459.56 L568.17 459.77 L567.25 459.98 L566.35 460.17 L565.46 460.35 L564.58 460.52 L563.7 460.68 L562.84 460.83 L561.98 460.97 L561.13 461.1 L560.28 461.23 L559.45 461.34 L558.62 461.45 L557.79 461.55 L556.97 461.64 L556.16 461.72 L555.35 461.8 L554.55 461.88 L553.75 461.94 L552.95 462.01 L552.16 462.07 L551.37 462.12 L550.58 462.17 L549.8 462.22 L549.02 462.27 L548.23 462.31 L547.45 462.35 L546.68 462.39 L545.9 462.43 L545.12 462.46 L544.34 462.5 L543.56 462.54 L542.78 462.58 L541.99 462.61 L541.21 462.66 L540.42 462.7 L539.63 462.74 L538.84 462.79 L538.04 462.84 L537.24 462.89 L536.44 462.95 L535.63 463 L534.82 463.06 L534.01 463.13 L533.19 463.19 L532.38 463.25 L531.56 463.32 L530.74 463.39 L529.91 463.46 L529.09 463.53 L528.27 463.6 L527.44 463.67 L526.61 463.74 L525.78 463.81 L524.95 463.88 L524.12 463.95 L523.29 464.01 L522.46 464.08 L521.63 464.15 L520.8 464.21 L519.97 464.27 L519.14 464.33 L518.31 464.39 L517.48 464.45 L516.65 464.51 L515.83 464.56 L515 464.62 L514.17 464.67 L513.34 464.72 L512.51 464.77 L511.68 464.82 L510.86 464.87 L510.03 464.92 L509.2 464.96 L508.37 465.01 L507.55 465.05 L506.72 465.09 L505.89 465.14 L505.07 465.18 L504.24 465.22 L503.41 465.26 L502.59 465.3 L501.76 465.34 L500.94 465.37 L500.11 465.41 L499.29 465.45 L498.46 465.48 L497.64 465.52 L496.81 465.55 L495.99 465.59 L495.16 465.62 L494.34 465.65 L493.51 465.69 L492.69 465.72 L491.87 465.75 L491.04 465.79 L490.22 465.82 L489.4 465.85 L488.57 465.88 L487.75 465.91 L486.93 465.95 L486.1 465.98 L485.28 466.01 L484.46 466.04 L483.64 466.07 L482.81 466.11 L481.99 466.14 L481.17 466.17 L480.35 466.2 L479.53 466.24 L478.7 466.27 L477.88 466.3 L477.06 466.34 L476.24 466.37 L475.42 466.41 L474.6 466.44 L473.78 466.48 L472.96 466.52 L472.14 466.55 L471.32 466.59 L470.5 466.63 L469.67 466.67 L468.85 466.71 L468.03 466.75 L467.21 466.8 L466.39 466.84 L465.57 466.88 L464.76 466.93 L463.94 466.97 L463.12 467.02 L462.3 467.07 L461.48 467.12 L460.66 467.17 L459.84 467.22 L459.02 467.27 L458.2 467.32 L457.38 467.38 L456.56 467.44 L455.75 467.49 L454.93 467.55 L454.11 467.61 L453.29 467.68 L452.47 467.74 L451.65 467.8 L450.83 467.87 L450.02 467.94 L449.2 468.01 L448.38 468.08 L447.56 468.16 L446.74 468.23 L445.93 468.31 L445.11 468.39 L444.29 468.47 L443.47 468.55 L442.66 468.64 L441.84 468.72 L441.02 468.81 L440.2 468.9 L439.39 469 L438.57 469.09 L437.75 469.19 L436.94 469.29 L436.12 469.39 L435.3 469.49 L434.48 469.6 L433.67 469.71 L432.85 469.82 L432.03 469.94 L431.22 470.05 L430.4 470.17 L429.58 470.29 L428.77 470.42 L427.95 470.54 L427.13 470.67 L426.32 470.8 L425.5 470.94 L424.68 471.08 L423.87 471.22 L423.05 471.36 L422.23 471.5 L421.42 471.65 L420.6 471.81" fill="none" stroke="#b13737" stroke-width="1.0" stroke-linejoin="round"/>
<path d="M419.99 464.29 L420.28 463.41 L420.56 462.51 L420.82 461.61 L421.09 460.68 L421.34 459.75 L421.59 458.8 L421.83 457.85 L422.07 456.88 L422.3 455.9 L422.53 454.91 L422.75 453.92 L422.98 452.92 L423.21 451.91 L423.43 450.9 L423.66 449.89 L423.89 448.87 L424.12 447.85 L424.36 446.83 L424.6 445.8 L424.85 444.78 L425.11 443.76 L425.37 442.74 L425.64 441.72 L425.92 440.71 L426.21 439.71 L426.51 438.7 L426.82 437.71 L427.15 436.72 L427.49 435.74 L427.84 434.77 L428.21 433.81 L428.6 432.86 L429.01 431.92 L429.43 431 L429.87 430.09 L430.33 429.19 L430.81 428.31 L431.3 427.43 L431.81 426.58 L432.34 425.73 L432.89 424.9 L433.45 424.08 L434.03 423.28 L434.62 422.48 L435.23 421.7 L435.86 420.94 L436.5 420.19 L437.15 419.45 L437.82 418.72 L438.5 418.01 L439.19 417.31 L439.9 416.63 L440.62 415.96 L441.35 415.3 L442.1 414.66 L442.86 414.03 L443.63 413.41 L444.41 412.8 L445.2 412.21 L446 411.64 L446.81 411.07 L447.63 410.52 L448.46 409.99 L449.3 409.46 L450.15 408.95 L451 408.46 L451.87 407.98 L452.74 407.51 L453.62 407.05 L454.51 406.61 L455.41 406.18 L456.31 405.77 L457.22 405.37 L458.13 404.98 L459.05 404.61 L459.97 404.25 L460.9 403.9 L461.84 403.57 L462.78 403.25 L463.72 402.94 L464.67 402.65 L465.62 402.37 L466.58 402.1 L467.54 401.84 L468.5 401.6 L469.47 401.37 L470.44 401.15 L471.42 400.94 L472.4 400.74 L473.38 400.55 L474.37 400.38 L475.36 400.21 L476.35 400.06 L477.35 399.91 L478.35 399.78 L479.35 399.65 L480.35 399.54 L481.36 399.43 L482.37 399.34 L483.38 399.25 L484.39 399.17 L485.4 399.1 L486.42 399.04 L487.44 398.99 L488.46 398.94 L489.48 398.9 L490.5 398.87 L491.53 398.85 L492.55 398.83 L493.58 398.83 L494.61 398.82 L495.64 398.83 L496.67 398.84 L497.7 398.86 L498.73 398.88 L499.76 398.91 L500.79 398.95 L501.82 398.99 L502.85 399.03 L503.88 399.08 L504.91 399.14 L505.94 399.2 L506.97 399.26 L508 399.33 L509.03 399.4 L510.05 399.48 L511.08 399.56 L512.11 399.64 L513.13 399.72 L514.15 399.81 L515.17 399.9 L516.19 400 L517.21 400.09 L518.23 400.19 L519.24 400.29 L520.26 400.4 L521.27 400.5 L522.28 400.61 L523.29 400.72 L524.29 400.83 L525.3 400.94 L526.3 401.06 L527.3 401.17 L528.3 401.29 L529.3 401.41 L530.3 401.54 L531.29 401.66 L532.28 401.79 L533.28 401.92 L534.27 402.05 L535.26 402.19 L536.25 402.32 L537.23 402.46 L538.22 402.6 L539.2 402.74 L540.19 402.89 L541.17 403.04 L542.15 403.18 L543.13 403.34 L544.11 403.49 L545.08 403.64 L546.06 403.8 L547.03 403.96 L548.01 404.12 L548.98 404.29 L549.95 404.45 L550.92 404.62 L551.89 404.79 L552.86 404.97 L553.83 405.14 L554.8 405.32 L555.76 405.5 L556.73 405.68 L557.69 405.86 L558.66 406.05 L559.62 406.24 L560.58 406.43 L561.54 406.62 L562.5 406.81 L563.46 407.01 L564.42 407.21 L565.38 407.41 L566.34 407.61 L567.3 407.82 L568.25 408.03 L569.21 408.24 L570.17 408.45 L571.12 408.67 L572.08 408.89 L573.04 409.12 L573.99 409.35 L574.95 409.59 L575.91 409.85 L576.87 410.11 L577.83 410.38 L578.8 410.66 L579.76 410.96 L580.73 411.27 L581.7 411.59 L582.67 411.93 L583.64 412.29 L584.62 412.67 L585.6 413.06 L586.58 413.47 L587.57 413.9 L588.56 414.36 L589.56 414.84 L590.56 415.34 L591.56 415.86 L592.57 416.41 L593.57 416.99 L594.49 417.61 L595.27 418.27 L595.84 418.98 L596.14 419.76 L596.12 420.61 L595.81 421.5 L595.31 422.4 L594.67 423.29 L593.98 424.13 L593.25 424.91 L592.5 425.63 L591.71 426.31 L590.9 426.94 L590.06 427.52 L589.2 428.05 L588.32 428.55 L587.42 429.01 L586.5 429.44 L585.56 429.83 L584.61 430.2 L583.65 430.54 L582.67 430.85 L581.68 431.15 L580.69 431.43 L579.69 431.69 L578.68 431.95 L577.67 432.19 L576.66 432.43 L575.64 432.66 L574.63 432.89 L573.62 433.13 L572.62 433.37 L571.62 433.62 L570.63 433.87 L569.64 434.13 L568.66 434.4 L567.68 434.67 L566.71 434.95 L565.74 435.22 L564.77 435.51 L563.81 435.79 L562.84 436.07 L561.88 436.36 L560.92 436.65 L559.97 436.94 L559.01 437.22 L558.05 437.51 L557.09 437.79 L556.14 438.08 L555.18 438.36 L554.22 438.63 L553.26 438.91 L552.3 439.18 L551.34 439.44 L550.37 439.71 L549.41 439.97 L548.44 440.23 L547.48 440.48 L546.51 440.74 L545.54 440.99 L544.57 441.23 L543.6 441.48 L542.63 441.72 L541.66 441.96 L540.69 442.2 L539.71 442.44 L538.74 442.67 L537.77 442.9 L536.79 443.13 L535.81 443.36 L534.84 443.58 L533.86 443.8 L532.88 444.03 L531.9 444.25 L530.92 444.46 L529.94 444.68 L528.96 444.89 L527.98 445.11 L527 445.32 L526.02 445.53 L525.03 445.74 L524.05 445.94 L523.07 446.15 L522.08 446.35 L521.1 446.55 L520.11 446.76 L519.13 446.96 L518.14 447.16 L517.15 447.36 L516.17 447.55 L515.18 447.75 L514.19 447.95 L513.2 448.14 L512.22 448.34 L511.23 448.53 L510.24 448.73 L509.25 448.92 L508.26 449.11 L507.27 449.3 L506.28 449.5 L505.29 449.69 L504.3 449.88 L503.31 450.07 L502.32 450.26 L501.33 450.45 L500.34 450.64 L499.35 450.83 L498.36 451.03 L497.37 451.22 L496.38 451.41 L495.39 451.6 L494.4 451.79 L493.41 451.99 L492.42 452.18 L491.43 452.37 L490.44 452.57 L489.45 452.76 L488.46 452.96 L487.47 453.16 L486.48 453.35 L485.49 453.55 L484.51 453.75 L483.52 453.95 L482.53 454.15 L481.54 454.35 L480.55 454.56 L479.56 454.76 L478.58 454.97 L477.59 455.17 L476.6 455.38 L475.62 455.59 L474.63 455.8 L473.65 456.02 L472.66 456.23 L471.68 456.45 L470.69 456.67 L469.71 456.89 L468.73 457.11 L467.74 457.33 L466.76 457.56 L465.78 457.79 L464.8 458.02 L463.82 458.25 L462.84 458.48 L461.86 458.72 L460.88 458.96 L459.9 459.2 L458.93 459.44 L457.95 459.69 L456.98 459.94 L456 460.19 L455.03 460.44 L454.05 460.7 L453.08 460.96 L452.11 461.22 L451.14 461.48 L450.17 461.75 L449.2 462.02 L448.23 462.3 L447.26 462.57 L446.3 462.85 L445.33 463.14 L444.37 463.42 L443.4 463.71 L442.44 464.01 L441.48 464.3 L440.52 464.6 L439.56 464.91 L438.6 465.21 L437.64 465.53 L436.68 465.84 L435.73 466.16 L434.77 466.48 L433.82 466.81 L432.87 467.14 L431.92 467.48 L430.97 467.81 L430.02 468.16 L429.07 468.5 L428.13 468.86 L427.18 469.21 L426.24 469.57 L425.3 469.94 L424.36 470.31 L423.42 470.68 L422.48 471.06 L421.54 471.44 L420.61 471.83" fill="none" stroke="#976abe" stroke-width="1.0" stroke-linejoin="round"/>
<path d="M420.04 464.31 L420.2 463.13 L420.37 461.95 L420.56 460.77 L420.76 459.6 L420.97 458.43 L421.2 457.26 L421.44 456.09 L421.69 454.92 L421.95 453.76 L422.22 452.6 L422.51 451.44 L422.81 450.29 L423.12 449.14 L423.44 447.99 L423.78 446.85 L424.13 445.7 L424.48 444.57 L424.85 443.43 L425.24 442.3 L425.63 441.17 L426.04 440.05 L426.45 438.93 L426.88 437.82 L427.32 436.71 L427.77 435.6 L428.23 434.5 L428.7 433.41 L429.19 432.31 L429.68 431.23 L430.19 430.15 L430.7 429.07 L431.23 428 L431.77 426.93 L432.32 425.87 L432.88 424.82 L433.45 423.77 L434.03 422.73 L434.62 421.69 L435.22 420.66 L435.83 419.63 L436.45 418.61 L437.08 417.6 L437.72 416.6 L438.37 415.6 L439.03 414.61 L439.7 413.62 L440.38 412.64 L441.07 411.67 L441.77 410.71 L442.48 409.75 L443.2 408.8 L443.93 407.86 L444.66 406.93 L445.41 406 L446.16 405.08 L446.93 404.17 L447.7 403.27 L448.49 402.38 L449.28 401.5 L450.08 400.62 L450.89 399.75 L451.7 398.89 L452.53 398.04 L453.37 397.2 L454.21 396.37 L455.06 395.55 L455.92 394.74 L456.79 393.93 L457.67 393.14 L458.55 392.36 L459.44 391.58 L460.34 390.82 L461.25 390.06 L462.17 389.32 L463.1 388.59 L464.03 387.86 L464.97 387.15 L465.92 386.45 L466.87 385.76 L467.83 385.08 L468.8 384.41 L469.78 383.75 L470.76 383.1 L471.76 382.47 L472.75 381.84 L473.76 381.23 L474.77 380.63 L475.79 380.04 L476.82 379.46 L477.85 378.9 L478.89 378.34 L479.94 377.8 L480.99 377.27 L482.05 376.75 L483.11 376.23 L484.18 375.73 L485.26 375.24 L486.34 374.76 L487.43 374.29 L488.52 373.83 L489.61 373.38 L490.71 372.93 L491.82 372.5 L492.93 372.07 L494.04 371.66 L495.16 371.25 L496.29 370.84 L497.41 370.45 L498.54 370.06 L499.68 369.68 L500.81 369.31 L501.95 368.95 L503.1 368.59 L504.24 368.23 L505.39 367.89 L506.55 367.55 L507.7 367.21 L508.86 366.88 L510.02 366.56 L511.18 366.24 L512.34 365.93 L513.51 365.62 L514.67 365.31 L515.84 365.01 L517.01 364.72 L518.18 364.42 L519.35 364.13 L520.52 363.85 L521.69 363.56 L522.87 363.28 L524.04 363.01 L525.21 362.73 L526.39 362.46 L527.56 362.19 L528.73 361.92 L529.91 361.65 L531.08 361.39 L532.25 361.13 L533.42 360.86 L534.59 360.6 L535.76 360.34 L536.93 360.09 L538.1 359.83 L539.27 359.58 L540.44 359.33 L541.61 359.08 L542.77 358.83 L543.94 358.59 L545.11 358.34 L546.27 358.1 L547.44 357.86 L548.6 357.63 L549.77 357.39 L550.93 357.16 L552.09 356.93 L553.25 356.7 L554.42 356.47 L555.58 356.25 L556.74 356.03 L557.9 355.81 L559.06 355.59 L560.21 355.38 L561.37 355.17 L562.53 354.96 L563.69 354.75 L564.84 354.55 L566 354.35 L567.15 354.15 L568.31 353.95 L569.46 353.76 L570.61 353.57 L571.76 353.38 L572.92 353.2 L574.07 353.01 L575.22 352.84 L576.37 352.66 L577.51 352.49 L578.66 352.32 L579.81 352.15 L580.95 351.98 L582.1 351.82 L583.24 351.66 L584.39 351.51 L585.53 351.36 L586.67 351.21 L587.81 351.06 L588.96 350.92 L590.1 350.79 L591.25 350.66 L592.41 350.55 L593.58 350.44 L594.75 350.35 L595.94 350.27 L597.14 350.2 L598.35 350.15 L599.59 350.12 L600.84 350.11 L602.11 350.12 L603.4 350.15 L604.72 350.21 L606.07 350.29 L607.44 350.39 L608.83 350.53 L610.17 350.71 L611.26 350.98 L611.95 351.36 L612.04 351.9 L611.55 352.56 L610.71 353.27 L609.72 353.94 L608.65 354.57 L607.52 355.17 L606.35 355.74 L605.18 356.31 L604.02 356.87 L602.88 357.43 L601.75 357.99 L600.63 358.54 L599.52 359.1 L598.42 359.65 L597.33 360.19 L596.25 360.74 L595.17 361.28 L594.11 361.82 L593.05 362.35 L591.99 362.88 L590.94 363.41 L589.9 363.93 L588.85 364.45 L587.81 364.97 L586.78 365.48 L585.74 365.99 L584.7 366.49 L583.67 366.99 L582.63 367.48 L581.59 367.97 L580.55 368.45 L579.5 368.93 L578.46 369.41 L577.4 369.87 L576.34 370.34 L575.28 370.79 L574.2 371.24 L573.12 371.69 L572.04 372.13 L570.95 372.56 L569.85 373 L568.75 373.42 L567.65 373.85 L566.54 374.27 L565.42 374.69 L564.31 375.11 L563.19 375.53 L562.07 375.94 L560.94 376.36 L559.82 376.78 L558.69 377.19 L557.57 377.61 L556.44 378.03 L555.31 378.45 L554.19 378.87 L553.06 379.3 L551.94 379.73 L550.82 380.16 L549.7 380.59 L548.58 381.03 L547.46 381.48 L546.35 381.92 L545.24 382.38 L544.13 382.83 L543.02 383.29 L541.92 383.75 L540.81 384.22 L539.71 384.69 L538.61 385.16 L537.51 385.64 L536.42 386.12 L535.33 386.6 L534.24 387.09 L533.15 387.58 L532.06 388.08 L530.98 388.58 L529.89 389.08 L528.81 389.59 L527.74 390.1 L526.66 390.62 L525.59 391.13 L524.52 391.66 L523.45 392.18 L522.38 392.71 L521.31 393.24 L520.25 393.78 L519.19 394.32 L518.13 394.86 L517.08 395.41 L516.02 395.96 L514.97 396.52 L513.92 397.07 L512.87 397.64 L511.83 398.2 L510.79 398.77 L509.74 399.34 L508.71 399.92 L507.67 400.5 L506.64 401.08 L505.61 401.67 L504.58 402.26 L503.55 402.86 L502.53 403.46 L501.5 404.06 L500.48 404.66 L499.47 405.27 L498.45 405.89 L497.44 406.5 L496.43 407.12 L495.42 407.75 L494.41 408.37 L493.41 409 L492.41 409.64 L491.41 410.27 L490.41 410.92 L489.42 411.56 L488.43 412.21 L487.44 412.86 L486.45 413.52 L485.47 414.18 L484.49 414.84 L483.51 415.5 L482.53 416.17 L481.56 416.85 L480.58 417.52 L479.61 418.2 L478.65 418.89 L477.68 419.58 L476.72 420.27 L475.76 420.96 L474.8 421.66 L473.85 422.36 L472.9 423.06 L471.95 423.77 L471 424.49 L470.05 425.2 L469.11 425.92 L468.17 426.64 L467.24 427.37 L466.3 428.1 L465.37 428.83 L464.44 429.57 L463.51 430.3 L462.59 431.05 L461.67 431.79 L460.75 432.54 L459.83 433.3 L458.92 434.05 L458.01 434.82 L457.1 435.58 L456.19 436.35 L455.29 437.12 L454.39 437.89 L453.49 438.67 L452.6 439.45 L451.7 440.23 L450.81 441.02 L449.93 441.81 L449.04 442.61 L448.16 443.41 L447.28 444.21 L446.41 445.01 L445.53 445.82 L444.66 446.63 L443.79 447.45 L442.93 448.26 L442.06 449.09 L441.2 449.91 L440.35 450.74 L439.49 451.57 L438.64 452.41 L437.79 453.24 L436.94 454.09 L436.1 454.93 L435.26 455.78 L434.42 456.63 L433.59 457.49 L432.76 458.35 L431.93 459.21 L431.1 460.07 L430.28 460.94 L429.45 461.81 L428.64 462.69 L427.82 463.57 L427.01 464.45 L426.2 465.33 L425.39 466.22 L424.59 467.11 L423.79 468.01 L422.99 468.91 L422.19 469.81 L421.4 470.71 L420.61 471.62" fill="none" stroke="#805a53" stroke-width="1.0" stroke-linejoin="round"/>
<path d="M421.69 471.39 L422.57 470.38 L423.43 469.35 L424.27 468.31 L425.1 467.27 L425.92 466.21 L426.72 465.15 L427.51 464.07 L428.29 462.99 L429.06 461.9 L429.81 460.8 L430.56 459.69 L431.29 458.58 L432.01 457.46 L432.72 456.33 L433.43 455.2 L434.12 454.06 L434.8 452.91 L435.48 451.76 L436.15 450.61 L436.81 449.45 L437.47 448.28 L438.11 447.11 L438.76 445.94 L439.39 444.76 L440.02 443.58 L440.65 442.39 L441.27 441.21 L441.89 440.02 L442.51 438.83 L443.12 437.63 L443.73 436.44 L444.33 435.24 L444.94 434.04 L445.54 432.85 L446.15 431.65 L446.75 430.45 L447.35 429.25 L447.95 428.05 L448.56 426.86 L449.16 425.66 L449.77 424.47 L450.38 423.28 L450.99 422.09 L451.6 420.9 L452.22 419.72 L452.84 418.53 L453.47 417.36 L454.1 416.18 L454.73 415.01 L455.37 413.84 L456.02 412.68 L456.67 411.53 L457.33 410.37 L458 409.23 L458.67 408.09 L459.36 406.95 L460.05 405.82 L460.75 404.7 L461.46 403.59 L462.18 402.48 L462.91 401.38 L463.65 400.29 L464.4 399.21 L465.17 398.13 L465.94 397.06 L466.73 396.01 L467.53 394.96 L468.34 393.92 L469.17 392.89 L470.01 391.87 L470.85 390.86 L471.72 389.85 L472.59 388.86 L473.47 387.87 L474.36 386.9 L475.26 385.93 L476.18 384.97 L477.1 384.01 L478.03 383.07 L478.97 382.13 L479.92 381.2 L480.88 380.28 L481.85 379.36 L482.83 378.46 L483.81 377.56 L484.8 376.67 L485.8 375.78 L486.81 374.9 L487.82 374.03 L488.84 373.16 L489.87 372.31 L490.9 371.45 L491.94 370.61 L492.99 369.77 L494.04 368.94 L495.09 368.11 L496.15 367.29 L497.22 366.47 L498.29 365.66 L499.36 364.86 L500.44 364.06 L501.52 363.27 L502.6 362.48 L503.69 361.7 L504.78 360.92 L505.87 360.15 L506.96 359.38 L508.06 358.62 L509.16 357.86 L510.26 357.11 L511.37 356.36 L512.48 355.62 L513.59 354.88 L514.7 354.15 L515.82 353.42 L516.94 352.7 L518.06 351.99 L519.19 351.28 L520.32 350.58 L521.45 349.88 L522.59 349.19 L523.73 348.5 L524.87 347.83 L526.02 347.15 L527.17 346.49 L528.33 345.83 L529.49 345.17 L530.65 344.53 L531.82 343.89 L532.99 343.25 L534.17 342.63 L535.35 342.01 L536.53 341.39 L537.72 340.79 L538.91 340.19 L540.11 339.6 L541.31 339.01 L542.52 338.43 L543.73 337.86 L544.94 337.3 L546.16 336.74 L547.39 336.2 L548.61 335.66 L549.84 335.12 L551.08 334.6 L552.31 334.08 L553.55 333.57 L554.8 333.07 L556.04 332.57 L557.29 332.09 L558.54 331.61 L559.8 331.14 L561.05 330.68 L562.31 330.22 L563.57 329.78 L564.83 329.34 L566.09 328.91 L567.36 328.49 L568.63 328.08 L569.89 327.67 L571.16 327.28 L572.43 326.89 L573.7 326.51 L574.97 326.14 L576.24 325.78 L577.51 325.43 L578.79 325.09 L580.06 324.76 L581.33 324.43 L582.6 324.11 L583.88 323.81 L585.16 323.51 L586.43 323.22 L587.72 322.94 L589 322.66 L590.29 322.4 L591.58 322.14 L592.87 321.89 L594.17 321.65 L595.48 321.42 L596.78 321.2 L598.1 320.99 L599.42 320.78 L600.75 320.58 L602.08 320.39 L603.42 320.21 L604.77 320.03 L606.12 319.87 L607.48 319.71 L608.85 319.56 L610.23 319.42 L611.62 319.28 L613.02 319.15 L614.43 319.03 L615.84 318.93 L617.24 318.91 L618.59 319 L619.89 319.28 L621.09 319.79 L622.01 320.51 L622.25 321.29 L621.67 322.05 L620.51 322.77 L619.05 323.45 L617.57 324.08 L616.17 324.67 L614.84 325.2 L613.57 325.71 L612.33 326.18 L611.12 326.63 L609.91 327.06 L608.69 327.49 L607.46 327.9 L606.21 328.31 L604.96 328.71 L603.7 329.12 L602.44 329.52 L601.17 329.93 L599.91 330.34 L598.65 330.75 L597.39 331.17 L596.14 331.58 L594.88 332 L593.62 332.43 L592.37 332.85 L591.11 333.28 L589.86 333.71 L588.61 334.14 L587.35 334.57 L586.1 335.01 L584.85 335.44 L583.6 335.88 L582.35 336.32 L581.09 336.76 L579.84 337.2 L578.59 337.65 L577.34 338.09 L576.09 338.53 L574.84 338.98 L573.58 339.42 L572.33 339.87 L571.08 340.31 L569.83 340.76 L568.57 341.21 L567.32 341.65 L566.06 342.1 L564.81 342.54 L563.55 342.98 L562.29 343.43 L561.03 343.87 L559.77 344.31 L558.51 344.75 L557.25 345.19 L555.99 345.63 L554.72 346.07 L553.46 346.5 L552.19 346.94 L550.92 347.37 L549.66 347.81 L548.39 348.24 L547.12 348.67 L545.85 349.11 L544.58 349.54 L543.31 349.97 L542.04 350.41 L540.77 350.84 L539.5 351.28 L538.23 351.72 L536.96 352.15 L535.69 352.59 L534.42 353.03 L533.16 353.47 L531.89 353.92 L530.62 354.36 L529.36 354.81 L528.09 355.26 L526.83 355.71 L525.56 356.16 L524.3 356.62 L523.04 357.08 L521.78 357.54 L520.52 358.01 L519.27 358.48 L518.01 358.95 L516.76 359.42 L515.51 359.9 L514.26 360.38 L513.01 360.87 L511.76 361.36 L510.52 361.85 L509.28 362.35 L508.04 362.85 L506.81 363.36 L505.57 363.88 L504.34 364.39 L503.11 364.92 L501.89 365.44 L500.67 365.98 L499.45 366.52 L498.23 367.06 L497.02 367.61 L495.81 368.17 L494.6 368.73 L493.4 369.3 L492.2 369.88 L491.01 370.46 L489.81 371.05 L488.63 371.64 L487.44 372.25 L486.27 372.86 L485.09 373.47 L483.92 374.1 L482.76 374.73 L481.6 375.37 L480.45 376.02 L479.3 376.67 L478.16 377.33 L477.03 378.01 L475.9 378.69 L474.78 379.37 L473.67 380.07 L472.56 380.78 L471.46 381.49 L470.36 382.21 L469.28 382.94 L468.2 383.69 L467.13 384.44 L466.07 385.2 L465.02 385.97 L463.97 386.75 L462.94 387.53 L461.91 388.33 L460.89 389.14 L459.89 389.96 L458.89 390.79 L457.9 391.63 L456.92 392.48 L455.95 393.34 L454.99 394.22 L454.05 395.1 L453.11 396 L452.19 396.9 L451.27 397.82 L450.37 398.75 L449.48 399.69 L448.6 400.64 L447.73 401.6 L446.87 402.58 L446.03 403.57 L445.2 404.57 L444.38 405.58 L443.58 406.61 L442.79 407.64 L442.01 408.7 L441.25 409.76 L440.5 410.84 L439.76 411.93 L439.04 413.03 L438.33 414.15 L437.64 415.28 L436.96 416.42 L436.29 417.58 L435.64 418.74 L435.01 419.92 L434.38 421.11 L433.77 422.31 L433.17 423.52 L432.59 424.74 L432.02 425.96 L431.46 427.2 L430.91 428.44 L430.38 429.69 L429.86 430.95 L429.35 432.21 L428.85 433.48 L428.37 434.75 L427.89 436.03 L427.43 437.31 L426.98 438.6 L426.54 439.89 L426.11 441.18 L425.69 442.47 L425.28 443.77 L424.88 445.06 L424.49 446.36 L424.11 447.66 L423.74 448.95 L423.38 450.25 L423.03 451.54 L422.69 452.83 L422.35 454.12 L422.03 455.41 L421.71 456.69 L421.41 457.97 L421.11 459.24 L420.82 460.51 L420.54 461.78 L420.26 463.03 L420 464.29" fill="none" stroke="#cf83b8" stroke-width="1.0" stroke-linejoin="round"/>
<path d="M420.59 463.51 L421.12 462.07 L421.67 460.64 L422.23 459.23 L422.81 457.83 L423.4 456.45 L424 455.07 L424.61 453.71 L425.24 452.36 L425.87 451.02 L426.52 449.69 L427.17 448.37 L427.84 447.06 L428.51 445.75 L429.2 444.46 L429.89 443.17 L430.59 441.89 L431.29 440.61 L432 439.35 L432.72 438.08 L433.44 436.82 L434.17 435.57 L434.9 434.32 L435.64 433.07 L436.38 431.83 L437.13 430.58 L437.87 429.34 L438.62 428.1 L439.37 426.87 L440.13 425.63 L440.88 424.39 L441.63 423.15 L442.38 421.91 L443.14 420.67 L443.89 419.42 L444.64 418.17 L445.38 416.92 L446.13 415.67 L446.87 414.41 L447.61 413.14 L448.34 411.87 L449.07 410.59 L449.79 409.31 L450.51 408.02 L451.23 406.73 L451.94 405.43 L452.65 404.12 L453.35 402.81 L454.05 401.49 L454.75 400.18 L455.45 398.85 L456.14 397.53 L456.83 396.2 L457.53 394.87 L458.22 393.54 L458.91 392.21 L459.6 390.87 L460.29 389.54 L460.99 388.21 L461.68 386.87 L462.38 385.54 L463.08 384.21 L463.78 382.88 L464.48 381.55 L465.19 380.22 L465.9 378.9 L466.62 377.58 L467.34 376.27 L468.07 374.96 L468.8 373.65 L469.53 372.35 L470.28 371.05 L471.03 369.76 L471.78 368.48 L472.55 367.2 L473.32 365.93 L474.1 364.67 L474.89 363.41 L475.69 362.17 L476.49 360.93 L477.31 359.7 L478.14 358.48 L478.97 357.27 L479.82 356.08 L480.68 354.89 L481.55 353.71 L482.43 352.55 L483.33 351.4 L484.24 350.26 L485.16 349.14 L486.1 348.02 L487.05 346.92 L488.01 345.84 L488.99 344.77 L489.98 343.72 L490.99 342.68 L492.02 341.66 L493.06 340.65 L494.12 339.66 L495.19 338.69 L496.28 337.73 L497.38 336.78 L498.5 335.85 L499.63 334.94 L500.77 334.05 L501.93 333.16 L503.1 332.3 L504.29 331.45 L505.48 330.61 L506.69 329.79 L507.92 328.98 L509.15 328.19 L510.39 327.41 L511.65 326.65 L512.91 325.9 L514.19 325.17 L515.48 324.45 L516.78 323.74 L518.08 323.05 L519.4 322.38 L520.73 321.71 L522.06 321.06 L523.4 320.43 L524.76 319.81 L526.11 319.2 L527.48 318.6 L528.86 318.02 L530.24 317.46 L531.63 316.9 L533.02 316.36 L534.42 315.83 L535.83 315.32 L537.24 314.81 L538.66 314.33 L540.08 313.85 L541.51 313.38 L542.94 312.93 L544.38 312.49 L545.82 312.07 L547.26 311.65 L548.71 311.25 L550.16 310.86 L551.61 310.48 L553.06 310.12 L554.52 309.76 L555.98 309.42 L557.44 309.09 L558.9 308.77 L560.36 308.46 L561.83 308.17 L563.29 307.88 L564.75 307.61 L566.22 307.35 L567.68 307.1 L569.14 306.86 L570.6 306.63 L572.06 306.41 L573.52 306.2 L574.98 306 L576.44 305.82 L577.9 305.65 L579.36 305.48 L580.81 305.33 L582.27 305.19 L583.72 305.06 L585.18 304.95 L586.63 304.84 L588.09 304.75 L589.54 304.66 L591 304.59 L592.45 304.53 L593.9 304.48 L595.35 304.45 L596.81 304.42 L598.26 304.41 L599.71 304.41 L601.16 304.42 L602.62 304.44 L604.07 304.48 L605.52 304.52 L606.97 304.58 L608.43 304.65 L609.88 304.73 L611.33 304.82 L612.78 304.93 L614.24 305.05 L615.69 305.18 L617.14 305.32 L618.6 305.48 L620.05 305.66 L621.5 305.86 L622.95 306.09 L624.4 306.34 L625.85 306.64 L627.29 306.97 L628.74 307.34 L630.18 307.76 L631.61 308.24 L633.05 308.76 L634.47 309.34 L635.9 309.99 L637.32 310.69 L638.73 311.47 L640.14 312.32 L641.5 313.25 L642.72 314.25 L643.71 315.33 L644.35 316.48 L644.55 317.7 L644.29 318.97 L643.65 320.26 L642.73 321.5 L641.66 322.66 L640.5 323.69 L639.28 324.61 L638.02 325.44 L636.72 326.19 L635.39 326.89 L634.04 327.54 L632.68 328.18 L631.33 328.82 L629.98 329.45 L628.62 330.07 L627.27 330.69 L625.91 331.3 L624.56 331.91 L623.2 332.52 L621.85 333.12 L620.5 333.72 L619.14 334.31 L617.79 334.9 L616.43 335.48 L615.08 336.07 L613.72 336.64 L612.37 337.22 L611.01 337.79 L609.66 338.36 L608.3 338.92 L606.94 339.48 L605.58 340.04 L604.23 340.59 L602.87 341.15 L601.51 341.7 L600.15 342.24 L598.79 342.79 L597.42 343.33 L596.06 343.87 L594.7 344.41 L593.33 344.95 L591.97 345.48 L590.6 346.01 L589.23 346.55 L587.87 347.08 L586.5 347.6 L585.13 348.13 L583.75 348.66 L582.38 349.18 L581.01 349.7 L579.64 350.22 L578.26 350.75 L576.89 351.27 L575.51 351.79 L574.14 352.3 L572.76 352.82 L571.38 353.34 L570.01 353.86 L568.63 354.38 L567.25 354.89 L565.87 355.41 L564.49 355.93 L563.11 356.44 L561.73 356.96 L560.35 357.48 L558.97 358 L557.59 358.51 L556.21 359.03 L554.83 359.55 L553.45 360.07 L552.06 360.59 L550.68 361.11 L549.3 361.64 L547.92 362.16 L546.54 362.69 L545.15 363.21 L543.77 363.74 L542.39 364.27 L541.01 364.8 L539.63 365.33 L538.24 365.87 L536.86 366.4 L535.48 366.94 L534.1 367.48 L532.72 368.02 L531.34 368.57 L529.96 369.11 L528.58 369.66 L527.2 370.21 L525.82 370.77 L524.45 371.32 L523.07 371.88 L521.69 372.44 L520.31 373.01 L518.94 373.58 L517.56 374.15 L516.19 374.72 L514.81 375.3 L513.44 375.88 L512.07 376.47 L510.7 377.05 L509.33 377.65 L507.96 378.25 L506.6 378.85 L505.24 379.46 L503.89 380.08 L502.53 380.7 L501.18 381.32 L499.84 381.96 L498.5 382.6 L497.17 383.25 L495.84 383.9 L494.51 384.56 L493.19 385.24 L491.88 385.91 L490.58 386.6 L489.28 387.3 L487.99 388 L486.7 388.72 L485.43 389.45 L484.16 390.18 L482.9 390.93 L481.65 391.68 L480.41 392.45 L479.18 393.23 L477.95 394.02 L476.74 394.82 L475.54 395.63 L474.35 396.46 L473.17 397.29 L472 398.14 L470.84 399.01 L469.69 399.89 L468.56 400.78 L467.44 401.68 L466.33 402.6 L465.24 403.54 L464.16 404.49 L463.09 405.45 L462.04 406.43 L461 407.43 L459.98 408.44 L458.97 409.47 L457.97 410.51 L457 411.58 L456.04 412.66 L455.09 413.75 L454.16 414.87 L453.25 416 L452.36 417.15 L451.48 418.32 L450.63 419.51 L449.78 420.71 L448.96 421.93 L448.15 423.17 L447.35 424.42 L446.56 425.69 L445.79 426.96 L445.03 428.25 L444.29 429.55 L443.55 430.86 L442.82 432.18 L442.1 433.51 L441.39 434.84 L440.69 436.18 L439.99 437.53 L439.3 438.88 L438.61 440.23 L437.93 441.59 L437.25 442.94 L436.57 444.3 L435.9 445.66 L435.23 447.02 L434.56 448.37 L433.88 449.72 L433.21 451.07 L432.54 452.41 L431.86 453.75 L431.18 455.08 L430.49 456.41 L429.8 457.72 L429.11 459.03 L428.4 460.32 L427.69 461.61 L426.98 462.88 L426.25 464.14 L425.52 465.38 L424.77 466.62 L424.01 467.83 L423.25 469.03 L422.47 470.21 L421.67 471.37" fill="none" stroke="#b7b84b" stroke-width="1.0" stroke-linejoin="round"/>
<path d="M421.22 471.21 L422 469.69 L422.76 468.17 L423.5 466.63 L424.22 465.1 L424.93 463.55 L425.62 462.01 L426.29 460.45 L426.95 458.89 L427.6 457.33 L428.23 455.76 L428.85 454.19 L429.45 452.61 L430.04 451.02 L430.62 449.44 L431.18 447.84 L431.73 446.25 L432.27 444.65 L432.8 443.04 L433.32 441.43 L433.83 439.82 L434.33 438.21 L434.82 436.59 L435.3 434.96 L435.77 433.34 L436.23 431.71 L436.69 430.08 L437.13 428.45 L437.57 426.81 L438 425.17 L438.43 423.53 L438.85 421.89 L439.26 420.24 L439.67 418.59 L440.08 416.94 L440.48 415.29 L440.87 413.64 L441.26 411.99 L441.65 410.33 L442.04 408.68 L442.42 407.02 L442.8 405.36 L443.18 403.7 L443.56 402.04 L443.93 400.38 L444.31 398.72 L444.68 397.06 L445.06 395.4 L445.44 393.74 L445.82 392.08 L446.2 390.42 L446.58 388.77 L446.96 387.11 L447.35 385.45 L447.74 383.79 L448.13 382.14 L448.53 380.48 L448.93 378.83 L449.33 377.18 L449.75 375.53 L450.17 373.89 L450.59 372.24 L451.02 370.6 L451.47 368.96 L451.92 367.33 L452.37 365.69 L452.84 364.06 L453.32 362.44 L453.81 360.82 L454.31 359.2 L454.82 357.59 L455.35 355.98 L455.89 354.37 L456.44 352.77 L457 351.18 L457.58 349.59 L458.18 348 L458.79 346.43 L459.41 344.85 L460.06 343.29 L460.72 341.73 L461.4 340.17 L462.1 338.63 L462.81 337.09 L463.55 335.55 L464.3 334.03 L465.08 332.51 L465.88 331 L466.7 329.5 L467.54 328.01 L468.4 326.53 L469.28 325.06 L470.19 323.61 L471.12 322.17 L472.07 320.75 L473.04 319.34 L474.03 317.96 L475.05 316.59 L476.09 315.24 L477.15 313.92 L478.24 312.62 L479.35 311.34 L480.48 310.09 L481.64 308.87 L482.81 307.67 L484.02 306.5 L485.25 305.36 L486.5 304.26 L487.77 303.18 L489.07 302.14 L490.4 301.14 L491.75 300.17 L493.12 299.23 L494.51 298.33 L495.93 297.47 L497.37 296.64 L498.84 295.84 L500.32 295.08 L501.82 294.35 L503.34 293.65 L504.87 292.98 L506.43 292.34 L508 291.73 L509.58 291.16 L511.18 290.61 L512.8 290.09 L514.42 289.6 L516.06 289.13 L517.71 288.69 L519.37 288.28 L521.04 287.9 L522.72 287.53 L524.4 287.2 L526.1 286.89 L527.8 286.6 L529.51 286.33 L531.22 286.09 L532.93 285.86 L534.65 285.66 L536.37 285.48 L538.1 285.32 L539.82 285.18 L541.54 285.06 L543.27 284.96 L544.99 284.87 L546.71 284.8 L548.43 284.75 L550.14 284.71 L551.86 284.7 L553.57 284.69 L555.27 284.71 L556.98 284.74 L558.68 284.78 L560.38 284.84 L562.08 284.92 L563.78 285.01 L565.47 285.11 L567.16 285.23 L568.85 285.36 L570.54 285.51 L572.22 285.67 L573.9 285.84 L575.58 286.02 L577.26 286.22 L578.93 286.43 L580.6 286.65 L582.27 286.89 L583.93 287.13 L585.6 287.39 L587.26 287.66 L588.91 287.94 L590.57 288.23 L592.22 288.53 L593.87 288.84 L595.52 289.16 L597.16 289.49 L598.8 289.83 L600.44 290.18 L602.08 290.54 L603.72 290.91 L605.35 291.29 L606.98 291.69 L608.61 292.09 L610.24 292.5 L611.87 292.92 L613.5 293.35 L615.12 293.79 L616.75 294.24 L618.37 294.7 L620 295.17 L621.62 295.64 L623.24 296.13 L624.87 296.63 L626.49 297.14 L628.11 297.65 L629.73 298.18 L631.35 298.71 L632.97 299.26 L634.6 299.81 L636.22 300.37 L637.84 300.94 L639.47 301.52 L641.09 302.11 L642.72 302.71 L644.34 303.32 L645.96 303.95 L647.58 304.59 L649.18 305.26 L650.77 305.95 L652.34 306.68 L653.89 307.44 L655.42 308.24 L656.92 309.08 L658.39 309.96 L659.82 310.9 L661.23 311.89 L662.59 312.94 L663.91 314.04 L665.18 315.22 L666.4 316.46 L667.58 317.77 L668.66 319.15 L669.56 320.58 L670.19 322.05 L670.45 323.53 L670.33 325.02 L669.87 326.49 L669.12 327.94 L668.12 329.35 L666.93 330.72 L665.6 332.03 L664.17 333.27 L662.7 334.42 L661.21 335.5 L659.71 336.49 L658.2 337.4 L656.68 338.25 L655.15 339.03 L653.61 339.76 L652.06 340.43 L650.5 341.07 L648.94 341.66 L647.37 342.22 L645.79 342.76 L644.21 343.27 L642.62 343.78 L641.04 344.27 L639.44 344.76 L637.85 345.26 L636.26 345.76 L634.66 346.26 L633.06 346.77 L631.46 347.29 L629.86 347.8 L628.26 348.32 L626.65 348.84 L625.05 349.37 L623.44 349.9 L621.83 350.43 L620.22 350.96 L618.61 351.5 L617 352.04 L615.38 352.57 L613.77 353.11 L612.16 353.66 L610.54 354.2 L608.92 354.74 L607.31 355.29 L605.69 355.83 L604.07 356.38 L602.45 356.92 L600.84 357.47 L599.22 358.01 L597.6 358.55 L595.98 359.1 L594.36 359.64 L592.74 360.18 L591.12 360.72 L589.5 361.26 L587.88 361.79 L586.27 362.32 L584.65 362.85 L583.03 363.38 L581.41 363.91 L579.8 364.44 L578.18 364.96 L576.56 365.48 L574.95 366 L573.33 366.53 L571.72 367.04 L570.1 367.56 L568.49 368.08 L566.88 368.6 L565.26 369.12 L563.65 369.64 L562.04 370.15 L560.43 370.67 L558.82 371.19 L557.21 371.71 L555.6 372.23 L553.99 372.75 L552.38 373.28 L550.78 373.8 L549.17 374.33 L547.57 374.85 L545.96 375.38 L544.36 375.91 L542.76 376.45 L541.16 376.98 L539.55 377.52 L537.95 378.06 L536.36 378.6 L534.76 379.15 L533.16 379.7 L531.56 380.25 L529.97 380.81 L528.38 381.37 L526.78 381.93 L525.19 382.5 L523.6 383.07 L522.01 383.65 L520.42 384.23 L518.83 384.81 L517.25 385.4 L515.66 386 L514.08 386.6 L512.5 387.21 L510.91 387.82 L509.33 388.43 L507.76 389.06 L506.18 389.68 L504.6 390.32 L503.03 390.96 L501.45 391.61 L499.88 392.26 L498.31 392.92 L496.74 393.59 L495.17 394.27 L493.61 394.95 L492.04 395.64 L490.48 396.34 L488.92 397.05 L487.36 397.76 L485.81 398.49 L484.26 399.22 L482.72 399.97 L481.18 400.72 L479.65 401.49 L478.13 402.27 L476.62 403.06 L475.11 403.87 L473.61 404.69 L472.12 405.52 L470.65 406.37 L469.18 407.23 L467.73 408.11 L466.28 409 L464.85 409.91 L463.44 410.84 L462.04 411.78 L460.65 412.75 L459.28 413.73 L457.93 414.73 L456.59 415.75 L455.27 416.79 L453.96 417.85 L452.68 418.93 L451.42 420.03 L450.17 421.16 L448.95 422.31 L447.75 423.48 L446.57 424.67 L445.41 425.89 L444.27 427.13 L443.16 428.4 L442.07 429.68 L441 430.99 L439.95 432.32 L438.92 433.67 L437.92 435.04 L436.93 436.42 L435.95 437.82 L435 439.23 L434.06 440.65 L433.14 442.09 L432.23 443.54 L431.34 444.99 L430.46 446.46 L429.6 447.93 L428.75 449.41 L427.91 450.9 L427.08 452.39 L426.27 453.88 L425.46 455.37 L424.66 456.86 L423.88 458.36 L423.1 459.85 L422.33 461.34 L421.56 462.82 L420.81 464.3" fill="none" stroke="#3bb0bc" stroke-width="1.0" stroke-linejoin="round"/>
<path d="M492.79 300.35 L490.6 304.46 L488.22 301.24 Z" fill="#3bb0bc"/>
<path d="M671.41 324.61 L668.28 321.17 L672.1 320.01 Z" fill="#3bb0bc"/>
<path d="M484.5 350.35 L483.47 354.89 L480.33 352.41 Z" fill="#b7b84b"/>
<path d="M644.75 319.4 L642.85 315.15 L646.85 315.25 Z" fill="#b7b84b"/>
<path d="M478.47 383 L476.96 387.4 L474.1 384.6 Z" fill="#cf83b8"/>
<path d="M622.15 323.15 L621.1 318.62 L625 319.48 Z" fill="#cf83b8"/>
<path d="M613.95 353.11 L609.72 351.18 L612.78 348.61 Z" fill="#805a53"/>
<path d="M472.01 422.75 L474.2 418.64 L476.58 421.86 Z" fill="#805a53"/>
<path d="M596.55 421.87 L593.88 418.06 L597.82 417.39 Z" fill="#976abe"/>
<path d="M575.53 459.19 L574.97 454.57 L578.76 455.84 Z" fill="#b13737"/>
</g>
<rect x="406.6" y="275.1" width="277.4" height="206.9" fill="none" stroke="#444" stroke-width="1"/>
<line x1="416.25" y1="482" x2="416.25" y2="485" stroke="#444" stroke-width="1"/>
<text x="416.25" y="493.8" font-size="8.7" text-anchor="middle" fill="#000">0</text>
<line x1="472.41" y1="482" x2="472.41" y2="485" stroke="#444" stroke-width="1"/>
<text x="472.41" y="493.8" font-size="8.7" text-anchor="middle" fill="#000">100</text>
<line x1="528.57" y1="482" x2="528.57" y2="485" stroke="#444" stroke-width="1"/>
<text x="528.57" y="493.8" font-size="8.7" text-anchor="middle" fill="#000">200</text>
<line x1="584.73" y1="482" x2="584.73" y2="485" stroke="#444" stroke-width="1"/>
<text x="584.73" y="493.8" font-size="8.7" text-anchor="middle" fill="#000">300</text>
<line x1="640.89" y1="482" x2="640.89" y2="485" stroke="#444" stroke-width="1"/>
<text x="640.89" y="493.8" font-size="8.7" text-anchor="middle" fill="#000">400</text>
<line x1="403.6" y1="472.4" x2="406.6" y2="472.4" stroke="#444" stroke-width="1"/>
<text x="401.8" y="475.6" font-size="8.7" text-anchor="end" fill="#000">0</text>
<line x1="403.6" y1="427.87" x2="406.6" y2="427.87" stroke="#444" stroke-width="1"/>
<text x="401.8" y="431.07" font-size="8.7" text-anchor="end" fill="#000">1000</text>
<line x1="403.6" y1="383.34" x2="406.6" y2="383.34" stroke="#444" stroke-width="1"/>
<text x="401.8" y="386.54" font-size="8.7" text-anchor="end" fill="#000">2000</text>
<line x1="403.6" y1="338.81" x2="406.6" y2="338.81" stroke="#444" stroke-width="1"/>
<text x="401.8" y="342.01" font-size="8.7" text-anchor="end" fill="#000">3000</text>
<line x1="403.6" y1="294.28" x2="406.6" y2="294.28" stroke="#444" stroke-width="1"/>
<text x="401.8" y="297.48" font-size="8.7" text-anchor="end" fill="#000">4000</text>
<text x="543.7" y="508.7" font-size="11.7" text-anchor="middle" fill="#000">Laser input intensity u(t)&#160; (a.u.)</text>
<text x="377" y="375.6" font-size="11.7" text-anchor="middle" fill="#000" transform="rotate(-90 377 375.6)">Response PL intensity R(t)&#160; (a.u.)</text>
</svg></body></html>
